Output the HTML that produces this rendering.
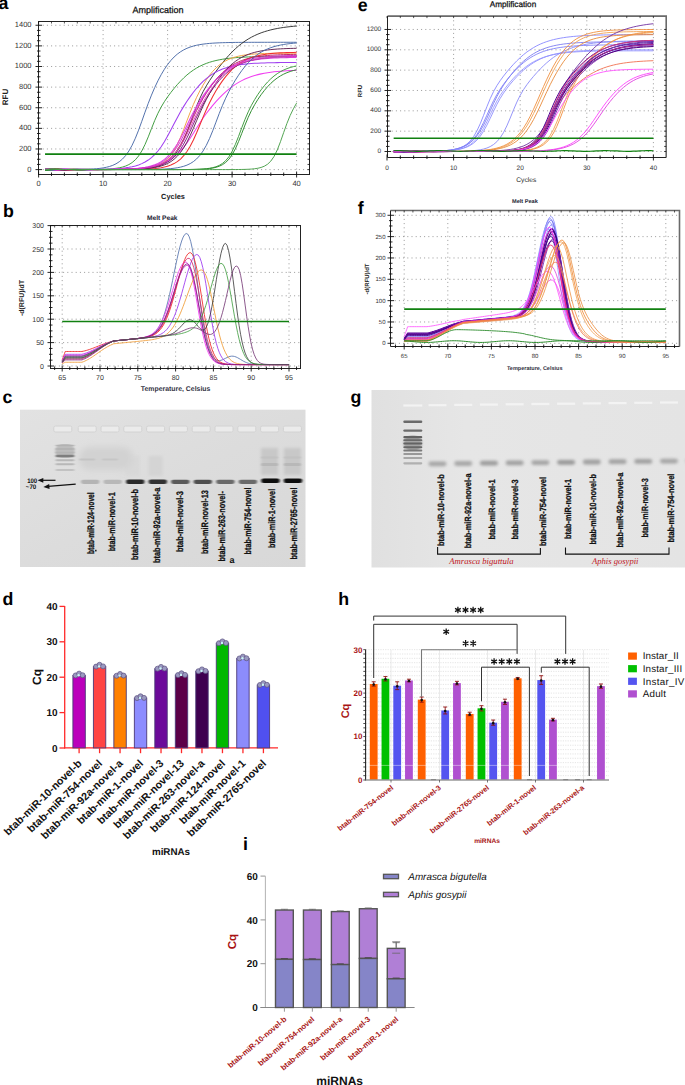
<!DOCTYPE html>
<html><head><meta charset="utf-8"><style>
html,body{margin:0;padding:0;background:#fff;}
body{width:685px;height:1085px;overflow:hidden;font-family:"Liberation Sans",sans-serif;}
svg{display:block;}
text{text-rendering:geometricPrecision;}
</style></head><body>
<svg width="685" height="1085" viewBox="0 0 685 1085">
<defs><filter id="bl1" x="-30%" y="-100%" width="160%" height="300%"><feGaussianBlur stdDeviation="0.9 0.7"/></filter><filter id="bl2" x="-30%" y="-100%" width="160%" height="300%"><feGaussianBlur stdDeviation="1.6 1.6"/></filter><filter id="bl3" x="-50%" y="-50%" width="200%" height="200%"><feGaussianBlur stdDeviation="3"/></filter><filter id="bl05" x="-30%" y="-100%" width="160%" height="300%"><feGaussianBlur stdDeviation="0.5"/></filter><linearGradient id="gcbg" x1="0" y1="0" x2="1" y2="1"><stop offset="0" stop-color="#e2e2e2"/><stop offset="0.5" stop-color="#dcdcdc"/><stop offset="1" stop-color="#d8d8d8"/></linearGradient><linearGradient id="ggbg" x1="0" y1="0" x2="1" y2="0"><stop offset="0" stop-color="#e0e0e0"/><stop offset="0.3" stop-color="#e6e6e6"/><stop offset="1" stop-color="#e4e4e4"/></linearGradient></defs>
<rect width="685" height="1085" fill="#fff"/>
<line x1="38.5" y1="169.6" x2="309.5" y2="169.6" stroke="#555" stroke-width="0.6" stroke-dasharray="1,3.2"/>
<line x1="38.5" y1="148.98" x2="309.5" y2="148.98" stroke="#555" stroke-width="0.6" stroke-dasharray="1,3.2"/>
<line x1="38.5" y1="128.36" x2="309.5" y2="128.36" stroke="#555" stroke-width="0.6" stroke-dasharray="1,3.2"/>
<line x1="38.5" y1="107.74" x2="309.5" y2="107.74" stroke="#555" stroke-width="0.6" stroke-dasharray="1,3.2"/>
<line x1="38.5" y1="87.12" x2="309.5" y2="87.12" stroke="#555" stroke-width="0.6" stroke-dasharray="1,3.2"/>
<line x1="38.5" y1="66.5" x2="309.5" y2="66.5" stroke="#555" stroke-width="0.6" stroke-dasharray="1,3.2"/>
<line x1="38.5" y1="45.88" x2="309.5" y2="45.88" stroke="#555" stroke-width="0.6" stroke-dasharray="1,3.2"/>
<line x1="38.5" y1="25.26" x2="309.5" y2="25.26" stroke="#555" stroke-width="0.6" stroke-dasharray="1,3.2"/>
<line x1="103.1" y1="21.5" x2="103.1" y2="174.5" stroke="#555" stroke-width="0.6" stroke-dasharray="1,3.2"/>
<line x1="167.6" y1="21.5" x2="167.6" y2="174.5" stroke="#555" stroke-width="0.6" stroke-dasharray="1,3.2"/>
<line x1="232.1" y1="21.5" x2="232.1" y2="174.5" stroke="#555" stroke-width="0.6" stroke-dasharray="1,3.2"/>
<line x1="296.6" y1="21.5" x2="296.6" y2="174.5" stroke="#555" stroke-width="0.6" stroke-dasharray="1,3.2"/>
<path d="M45.05,168.82 L48.28,169.17 L51.5,169.52 L54.73,169.56 L57.95,169.48 L61.17,169.57 L64.4,169.86 L67.62,170.06 L70.85,169.92 L74.08,169.55 L77.3,169.23 L80.53,169.15 L83.75,169.2 L86.97,169.21 L90.2,169.08 L93.43,168.89 L96.65,168.68 L99.88,168.38 L103.1,167.91 L106.33,167.29 L109.55,166.46 L112.78,165.33 L116,163.81 L119.22,161.77 L122.45,159.08 L125.68,155.54 L128.9,150.98 L132.12,145.24 L135.35,138.26 L138.58,130.16 L141.8,121.29 L145.03,112.17 L148.25,103.34 L151.47,95.11 L154.7,87.59 L157.93,80.8 L161.15,74.7 L164.38,69.28 L167.6,64.55 L170.82,60.48 L174.05,57.03 L177.28,54.16 L180.5,51.79 L183.72,49.86 L186.95,48.3 L190.18,47.05 L193.4,46.05 L196.62,45.25 L199.85,44.62 L203.07,44.12 L206.3,43.72 L209.53,43.41 L212.75,43.17 L215.97,42.97 L219.2,42.82 L222.43,42.7 L225.65,42.61 L228.88,42.54 L232.1,42.48 L235.32,42.43 L238.55,42.4 L241.78,42.37 L245,42.35 L248.22,42.33 L251.45,42.32 L254.68,42.31 L257.9,42.3 L261.12,42.29 L264.35,42.29 L267.57,42.29 L270.8,42.28 L274.03,42.28 L277.25,42.28 L280.48,42.28 L283.7,42.28 L286.93,42.27 L290.15,42.27 L293.38,42.27 L296.6,42.27" fill="none" stroke="#4a6aa8" stroke-width="0.9500000000000001" stroke-opacity="1.0" stroke-linejoin="round" />
<path d="M45.05,169.12 L48.28,169.56 L51.5,169.69 L54.73,169.6 L57.95,169.64 L61.17,169.89 L64.4,170.11 L67.62,170.01 L70.85,169.63 L74.08,169.3 L77.3,169.24 L80.53,169.39 L83.75,169.52 L86.97,169.53 L90.2,169.48 L93.43,169.48 L96.65,169.48 L99.88,169.41 L103.1,169.27 L106.33,169.14 L109.55,168.95 L112.78,168.68 L116,168.31 L119.22,167.79 L122.45,167.06 L125.68,166.03 L128.9,164.58 L132.12,162.57 L135.35,159.79 L138.58,155.99 L141.8,150.93 L145.03,144.51 L148.25,136.88 L151.47,128.63 L154.7,120.56 L157.93,113.3 L161.15,107.05 L164.38,101.67 L167.6,96.89 L170.82,92.52 L174.05,88.45 L177.28,84.65 L180.5,81.13 L183.72,77.9 L186.95,74.98 L190.18,72.37 L193.4,70.05 L196.62,68.02 L199.85,66.25 L203.07,64.73 L206.3,63.41 L209.53,62.29 L212.75,61.33 L215.97,60.52 L219.2,59.83 L222.43,59.25 L225.65,58.75 L228.88,58.34 L232.1,57.99 L235.32,57.7 L238.55,57.45 L241.78,57.25 L245,57.08 L248.22,56.93 L251.45,56.81 L254.68,56.71 L257.9,56.62 L261.12,56.55 L264.35,56.49 L267.57,56.44 L270.8,56.4 L274.03,56.37 L277.25,56.34 L280.48,56.31 L283.7,56.29 L286.93,56.28 L290.15,56.26 L293.38,56.25 L296.6,56.24" fill="none" stroke="#3a9a3a" stroke-width="0.9500000000000001" stroke-opacity="1.0" stroke-linejoin="round" />
<path d="M45.05,169.61 L48.28,169.81 L51.5,169.72 L54.73,169.68 L57.95,169.89 L61.17,170.1 L64.4,170.01 L67.62,169.62 L70.85,169.25 L74.08,169.18 L77.3,169.37 L80.53,169.57 L83.75,169.62 L86.97,169.59 L90.2,169.59 L93.43,169.65 L96.65,169.67 L99.88,169.61 L103.1,169.57 L106.33,169.55 L109.55,169.54 L112.78,169.52 L116,169.5 L119.22,169.46 L122.45,169.42 L125.68,169.36 L128.9,169.29 L132.12,169.19 L135.35,169.05 L138.58,168.88 L141.8,168.65 L145.03,168.35 L148.25,167.96 L151.47,167.45 L154.7,166.77 L157.93,165.89 L161.15,164.74 L164.38,163.24 L167.6,161.29 L170.82,158.77 L174.05,155.53 L177.28,151.39 L180.5,146.18 L183.72,139.77 L186.95,132.16 L190.18,123.6 L193.4,114.66 L196.62,106.05 L199.85,98.33 L203.07,91.66 L206.3,85.88 L209.53,80.7 L212.75,75.91 L215.97,71.36 L219.2,67.02 L222.43,62.89 L225.65,58.98 L228.88,55.33 L232.1,51.94 L235.32,48.82 L238.55,45.98 L241.78,43.41 L245,41.1 L248.22,39.03 L251.45,37.19 L254.68,35.56 L257.9,34.11 L261.12,32.84 L264.35,31.73 L267.57,30.75 L270.8,29.89 L274.03,29.14 L277.25,28.49 L280.48,27.92 L283.7,27.43 L286.93,27 L290.15,26.63 L293.38,26.3 L296.6,26.02" fill="none" stroke="#333333" stroke-width="0.9500000000000001" stroke-opacity="1.0" stroke-linejoin="round" />
<path d="M45.05,169.94 L48.28,169.84 L51.5,169.73 L54.73,169.87 L57.95,170.07 L61.17,170 L64.4,169.61 L67.62,169.2 L70.85,169.11 L74.08,169.32 L77.3,169.58 L80.53,169.67 L83.75,169.64 L86.97,169.62 L90.2,169.67 L93.43,169.71 L96.65,169.67 L99.88,169.59 L103.1,169.58 L106.33,169.58 L109.55,169.57 L112.78,169.56 L116,169.54 L119.22,169.52 L122.45,169.48 L125.68,169.44 L128.9,169.38 L132.12,169.29 L135.35,169.17 L138.58,169 L141.8,168.77 L145.03,168.46 L148.25,168.02 L151.47,167.42 L154.7,166.59 L157.93,165.46 L161.15,163.91 L164.38,161.83 L167.6,159.03 L170.82,155.33 L174.05,150.56 L177.28,144.56 L180.5,137.38 L183.72,129.28 L186.95,120.73 L190.18,112.33 L193.4,104.46 L196.62,97.3 L199.85,90.85 L203.07,85.05 L206.3,79.87 L209.53,75.31 L212.75,71.35 L215.97,67.97 L219.2,65.12 L222.43,62.77 L225.65,60.83 L228.88,59.26 L232.1,57.99 L235.32,56.97 L238.55,56.16 L241.78,55.51 L245,55 L248.22,54.6 L251.45,54.28 L254.68,54.02 L257.9,53.83 L261.12,53.67 L264.35,53.55 L267.57,53.45 L270.8,53.37 L274.03,53.31 L277.25,53.27 L280.48,53.23 L283.7,53.2 L286.93,53.18 L290.15,53.16 L293.38,53.15 L296.6,53.14" fill="none" stroke="#f0a040" stroke-width="0.9500000000000001" stroke-opacity="1.0" stroke-linejoin="round" />
<path d="M45.05,169.97 L48.28,169.78 L51.5,169.83 L54.73,170 L57.95,169.96 L61.17,169.58 L64.4,169.14 L67.62,169.02 L70.85,169.25 L74.08,169.57 L77.3,169.7 L80.53,169.64 L83.75,169.58 L86.97,169.6 L90.2,169.62 L93.43,169.55 L96.65,169.42 L99.88,169.33 L103.1,169.29 L106.33,169.2 L109.55,169.09 L112.78,168.95 L116,168.76 L119.22,168.53 L122.45,168.22 L125.68,167.83 L128.9,167.34 L132.12,166.71 L135.35,165.91 L138.58,164.9 L141.8,163.63 L145.03,162.04 L148.25,160.05 L151.47,157.6 L154.7,154.6 L157.93,150.99 L161.15,146.69 L164.38,141.71 L167.6,136.11 L170.82,130.06 L174.05,123.81 L177.28,117.66 L180.5,111.82 L183.72,106.36 L186.95,101.31 L190.18,96.61 L193.4,92.27 L196.62,88.29 L199.85,84.67 L203.07,81.42 L206.3,78.55 L209.53,76.04 L212.75,73.86 L215.97,71.99 L219.2,70.4 L222.43,69.05 L225.65,67.92 L228.88,66.97 L232.1,66.17 L235.32,65.51 L238.55,64.96 L241.78,64.51 L245,64.13 L248.22,63.82 L251.45,63.57 L254.68,63.35 L257.9,63.18 L261.12,63.04 L264.35,62.92 L267.57,62.82 L270.8,62.74 L274.03,62.68 L277.25,62.62 L280.48,62.58 L283.7,62.54 L286.93,62.51 L290.15,62.49 L293.38,62.47 L296.6,62.45" fill="none" stroke="#a040f0" stroke-width="1.05" stroke-opacity="1.0" stroke-linejoin="round" />
<path d="M45.05,169.84 L48.28,169.78 L51.5,169.93 L54.73,169.91 L57.95,169.56 L61.17,169.12 L64.4,168.97 L67.62,169.23 L70.85,169.61 L74.08,169.79 L77.3,169.74 L80.53,169.65 L83.75,169.66 L86.97,169.7 L90.2,169.67 L93.43,169.55 L96.65,169.46 L99.88,169.46 L103.1,169.49 L106.33,169.46 L109.55,169.43 L112.78,169.39 L116,169.33 L119.22,169.27 L122.45,169.19 L125.68,169.08 L128.9,168.96 L132.12,168.8 L135.35,168.6 L138.58,168.35 L141.8,168.05 L145.03,167.67 L148.25,167.2 L151.47,166.62 L154.7,165.91 L157.93,165.03 L161.15,163.95 L164.38,162.64 L167.6,161.05 L170.82,159.13 L174.05,156.83 L177.28,154.09 L180.5,150.89 L183.72,147.17 L186.95,142.95 L190.18,138.26 L193.4,133.23 L196.62,128.05 L199.85,122.94 L203.07,118.07 L206.3,113.54 L209.53,109.32 L212.75,105.38 L215.97,101.66 L219.2,98.17 L222.43,94.91 L225.65,91.9 L228.88,89.13 L232.1,86.63 L235.32,84.38 L238.55,82.38 L241.78,80.61 L245,79.06 L248.22,77.7 L251.45,76.53 L254.68,75.51 L257.9,74.63 L261.12,73.88 L264.35,73.24 L267.57,72.69 L270.8,72.22 L274.03,71.82 L277.25,71.48 L280.48,71.19 L283.7,70.94 L286.93,70.73 L290.15,70.56 L293.38,70.41 L296.6,70.28" fill="none" stroke="#f040f0" stroke-width="1.05" stroke-opacity="1.0" stroke-linejoin="round" />
<path d="M45.05,169.73 L48.28,169.83 L51.5,169.85 L54.73,169.54 L57.95,169.1 L61.17,168.94 L64.4,169.2 L67.62,169.64 L70.85,169.88 L74.08,169.83 L77.3,169.7 L80.53,169.67 L83.75,169.71 L86.97,169.7 L90.2,169.58 L93.43,169.46 L96.65,169.45 L99.88,169.51 L103.1,169.53 L106.33,169.5 L109.55,169.47 L112.78,169.44 L116,169.39 L119.22,169.32 L122.45,169.24 L125.68,169.13 L128.9,168.99 L132.12,168.81 L135.35,168.57 L138.58,168.26 L141.8,167.87 L145.03,167.36 L148.25,166.7 L151.47,165.85 L154.7,164.77 L157.93,163.38 L161.15,161.62 L164.38,159.41 L167.6,156.64 L170.82,153.22 L174.05,149.06 L177.28,144.1 L180.5,138.36 L183.72,131.98 L186.95,125.26 L190.18,118.55 L193.4,112.17 L196.62,106.28 L199.85,100.88 L203.07,95.9 L206.3,91.29 L209.53,87.03 L212.75,83.11 L215.97,79.55 L219.2,76.35 L222.43,73.52 L225.65,71.04 L228.88,68.88 L232.1,67.03 L235.32,65.44 L238.55,64.09 L241.78,62.95 L245,61.99 L248.22,61.19 L251.45,60.51 L254.68,59.95 L257.9,59.48 L261.12,59.1 L264.35,58.77 L267.57,58.5 L270.8,58.28 L274.03,58.1 L277.25,57.94 L280.48,57.82 L283.7,57.71 L286.93,57.63 L290.15,57.56 L293.38,57.5 L296.6,57.45" fill="none" stroke="#e040e0" stroke-width="1.05" stroke-opacity="1.0" stroke-linejoin="round" />
<path d="M45.05,169.71 L48.28,169.76 L51.5,169.51 L54.73,169.09 L57.95,168.91 L61.17,169.18 L64.4,169.67 L67.62,169.97 L70.85,169.93 L74.08,169.74 L77.3,169.66 L80.53,169.7 L83.75,169.7 L86.97,169.59 L90.2,169.46 L93.43,169.44 L96.65,169.52 L99.88,169.59 L103.1,169.59 L106.33,169.59 L109.55,169.58 L112.78,169.58 L116,169.57 L119.22,169.56 L122.45,169.55 L125.68,169.53 L128.9,169.5 L132.12,169.47 L135.35,169.42 L138.58,169.36 L141.8,169.28 L145.03,169.17 L148.25,169.02 L151.47,168.82 L154.7,168.55 L157.93,168.2 L161.15,167.72 L164.38,167.08 L167.6,166.22 L170.82,165.09 L174.05,163.59 L177.28,161.61 L180.5,159.04 L183.72,155.72 L186.95,151.5 L190.18,146.27 L193.4,139.99 L196.62,132.79 L199.85,125.02 L203.07,117.16 L206.3,109.67 L209.53,102.78 L212.75,96.52 L215.97,90.82 L219.2,85.61 L222.43,80.87 L225.65,76.6 L228.88,72.79 L232.1,69.44 L235.32,66.54 L238.55,64.06 L241.78,61.96 L245,60.19 L248.22,58.72 L251.45,57.5 L254.68,56.5 L257.9,55.67 L261.12,54.99 L264.35,54.44 L267.57,53.99 L270.8,53.63 L274.03,53.33 L277.25,53.09 L280.48,52.89 L283.7,52.74 L286.93,52.61 L290.15,52.5 L293.38,52.42 L296.6,52.35" fill="none" stroke="#f03030" stroke-width="1.05" stroke-opacity="1.0" stroke-linejoin="round" />
<path d="M45.05,169.66 L48.28,169.48 L51.5,169.09 L54.73,168.9 L57.95,169.17 L61.17,169.7 L64.4,170.05 L67.62,170.01 L70.85,169.78 L74.08,169.64 L77.3,169.65 L80.53,169.67 L83.75,169.57 L86.97,169.43 L90.2,169.39 L93.43,169.48 L96.65,169.58 L99.88,169.6 L103.1,169.56 L106.33,169.55 L109.55,169.53 L112.78,169.51 L116,169.48 L119.22,169.44 L122.45,169.4 L125.68,169.33 L128.9,169.24 L132.12,169.13 L135.35,168.98 L138.58,168.78 L141.8,168.52 L145.03,168.18 L148.25,167.74 L151.47,167.15 L154.7,166.39 L157.93,165.39 L161.15,164.1 L164.38,162.43 L167.6,160.28 L170.82,157.55 L174.05,154.12 L177.28,149.86 L180.5,144.71 L183.72,138.65 L186.95,131.85 L190.18,124.63 L193.4,117.4 L196.62,110.53 L199.85,104.22 L203.07,98.46 L206.3,93.17 L209.53,88.31 L212.75,83.83 L215.97,79.74 L219.2,76.05 L222.43,72.77 L225.65,69.88 L228.88,67.37 L232.1,65.21 L235.32,63.37 L238.55,61.81 L241.78,60.5 L245,59.4 L248.22,58.48 L251.45,57.71 L254.68,57.08 L257.9,56.56 L261.12,56.12 L264.35,55.77 L267.57,55.47 L270.8,55.23 L274.03,55.03 L277.25,54.87 L280.48,54.74 L283.7,54.63 L286.93,54.54 L290.15,54.46 L293.38,54.4 L296.6,54.35" fill="none" stroke="#c02060" stroke-width="0.9500000000000001" stroke-opacity="1.0" stroke-linejoin="round" />
<path d="M45.05,169.45 L48.28,169.12 L51.5,168.92 L54.73,169.18 L57.95,169.73 L61.17,170.13 L64.4,170.1 L67.62,169.82 L70.85,169.61 L74.08,169.6 L77.3,169.64 L80.53,169.56 L83.75,169.41 L86.97,169.36 L90.2,169.46 L93.43,169.6 L96.65,169.65 L99.88,169.61 L103.1,169.57 L106.33,169.56 L109.55,169.55 L112.78,169.53 L116,169.51 L119.22,169.48 L122.45,169.44 L125.68,169.39 L128.9,169.32 L132.12,169.23 L135.35,169.11 L138.58,168.96 L141.8,168.75 L145.03,168.48 L148.25,168.13 L151.47,167.67 L154.7,167.06 L157.93,166.27 L161.15,165.24 L164.38,163.9 L167.6,162.17 L170.82,159.96 L174.05,157.15 L177.28,153.63 L180.5,149.27 L183.72,144.03 L186.95,137.92 L190.18,131.13 L193.4,124 L196.62,116.94 L199.85,110.3 L203.07,104.21 L206.3,98.65 L209.53,93.55 L212.75,88.85 L215.97,84.53 L219.2,80.59 L222.43,77.05 L225.65,73.9 L228.88,71.14 L232.1,68.75 L235.32,66.69 L238.55,64.94 L241.78,63.46 L245,62.21 L248.22,61.17 L251.45,60.3 L254.68,59.58 L257.9,58.98 L261.12,58.48 L264.35,58.08 L267.57,57.74 L270.8,57.46 L274.03,57.23 L277.25,57.05 L280.48,56.89 L283.7,56.76 L286.93,56.66 L290.15,56.58 L293.38,56.51 L296.6,56.45" fill="none" stroke="#802080" stroke-width="0.9500000000000001" stroke-opacity="1.0" stroke-linejoin="round" />
<path d="M45.05,169.16 L48.28,168.96 L51.5,169.19 L54.73,169.76 L57.95,170.2 L61.17,170.19 L64.4,169.86 L67.62,169.57 L70.85,169.52 L74.08,169.58 L77.3,169.55 L80.53,169.41 L83.75,169.34 L86.97,169.44 L90.2,169.61 L93.43,169.7 L96.65,169.67 L99.88,169.6 L103.1,169.58 L106.33,169.57 L109.55,169.56 L112.78,169.54 L116,169.52 L119.22,169.5 L122.45,169.47 L125.68,169.43 L128.9,169.37 L132.12,169.3 L135.35,169.2 L138.58,169.08 L141.8,168.91 L145.03,168.69 L148.25,168.4 L151.47,168.02 L154.7,167.53 L157.93,166.88 L161.15,166.03 L164.38,164.92 L167.6,163.48 L170.82,161.63 L174.05,159.26 L177.28,156.25 L180.5,152.47 L183.72,147.8 L186.95,142.17 L190.18,135.62 L193.4,128.33 L196.62,120.68 L199.85,113.11 L203.07,105.99 L206.3,99.46 L209.53,93.49 L212.75,88.02 L215.97,82.98 L219.2,78.34 L222.43,74.12 L225.65,70.32 L228.88,66.94 L232.1,63.98 L235.32,61.41 L238.55,59.21 L241.78,57.33 L245,55.74 L248.22,54.4 L251.45,53.29 L254.68,52.35 L257.9,51.58 L261.12,50.93 L264.35,50.4 L267.57,49.96 L270.8,49.6 L274.03,49.31 L277.25,49.06 L280.48,48.86 L283.7,48.69 L286.93,48.56 L290.15,48.45 L293.38,48.36 L296.6,48.28" fill="none" stroke="#602050" stroke-width="0.9500000000000001" stroke-opacity="1.0" stroke-linejoin="round" />
<path d="M45.05,169.03 L48.28,169.23 L51.5,169.79 L54.73,170.26 L57.95,170.27 L61.17,169.89 L64.4,169.52 L67.62,169.43 L70.85,169.51 L74.08,169.52 L77.3,169.4 L80.53,169.32 L83.75,169.42 L86.97,169.62 L90.2,169.74 L93.43,169.71 L96.65,169.62 L99.88,169.56 L103.1,169.55 L106.33,169.53 L109.55,169.51 L112.78,169.49 L116,169.45 L119.22,169.41 L122.45,169.35 L125.68,169.27 L128.9,169.17 L132.12,169.05 L135.35,168.88 L138.58,168.66 L141.8,168.39 L145.03,168.02 L148.25,167.56 L151.47,166.96 L154.7,166.18 L157.93,165.19 L161.15,163.93 L164.38,162.32 L167.6,160.28 L170.82,157.73 L174.05,154.57 L177.28,150.7 L180.5,146.05 L183.72,140.6 L186.95,134.43 L190.18,127.75 L193.4,120.89 L196.62,114.19 L199.85,107.89 L203.07,102.06 L206.3,96.69 L209.53,91.73 L212.75,87.15 L215.97,82.96 L219.2,79.16 L222.43,75.76 L225.65,72.76 L228.88,70.15 L232.1,67.89 L235.32,65.96 L238.55,64.32 L241.78,62.94 L245,61.77 L248.22,60.8 L251.45,60 L254.68,59.33 L257.9,58.77 L261.12,58.31 L264.35,57.93 L267.57,57.62 L270.8,57.36 L274.03,57.15 L277.25,56.98 L280.48,56.84 L283.7,56.72 L286.93,56.62 L290.15,56.55 L293.38,56.48 L296.6,56.43" fill="none" stroke="#e040c0" stroke-width="0.9500000000000001" stroke-opacity="1.0" stroke-linejoin="round" />
<path d="M45.05,169.28 L48.28,169.82 L51.5,170.31 L54.73,170.33 L57.95,169.91 L61.17,169.47 L64.4,169.34 L67.62,169.44 L70.85,169.5 L74.08,169.42 L77.3,169.33 L80.53,169.42 L83.75,169.64 L86.97,169.79 L90.2,169.77 L93.43,169.64 L96.65,169.55 L99.88,169.54 L103.1,169.54 L106.33,169.52 L109.55,169.49 L112.78,169.46 L116,169.41 L119.22,169.36 L122.45,169.29 L125.68,169.19 L128.9,169.07 L132.12,168.91 L135.35,168.7 L138.58,168.44 L141.8,168.09 L145.03,167.64 L148.25,167.07 L151.47,166.33 L154.7,165.37 L157.93,164.15 L161.15,162.6 L164.38,160.64 L167.6,158.17 L170.82,155.1 L174.05,151.32 L177.28,146.76 L180.5,141.38 L183.72,135.25 L186.95,128.57 L190.18,121.69 L193.4,114.96 L196.62,108.66 L199.85,102.86 L203.07,97.55 L206.3,92.63 L209.53,88.08 L212.75,83.87 L215.97,80.03 L219.2,76.55 L222.43,73.44 L225.65,70.71 L228.88,68.31 L232.1,66.24 L235.32,64.47 L238.55,62.95 L241.78,61.67 L245,60.58 L248.22,59.67 L251.45,58.91 L254.68,58.27 L257.9,57.74 L261.12,57.3 L264.35,56.93 L267.57,56.62 L270.8,56.37 L274.03,56.16 L277.25,55.99 L280.48,55.84 L283.7,55.72 L286.93,55.62 L290.15,55.54 L293.38,55.48 L296.6,55.42" fill="none" stroke="#d030d0" stroke-width="0.9500000000000001" stroke-opacity="1.0" stroke-linejoin="round" />
<path d="M45.05,169.84 L48.28,170.35 L51.5,170.39 L54.73,169.94 L57.95,169.42 L61.17,169.23 L64.4,169.35 L67.62,169.48 L70.85,169.45 L74.08,169.36 L77.3,169.43 L80.53,169.67 L83.75,169.86 L86.97,169.85 L90.2,169.7 L93.43,169.58 L96.65,169.56 L99.88,169.58 L103.1,169.6 L106.33,169.6 L109.55,169.6 L112.78,169.6 L116,169.59 L119.22,169.59 L122.45,169.59 L125.68,169.59 L128.9,169.58 L132.12,169.57 L135.35,169.56 L138.58,169.55 L141.8,169.53 L145.03,169.51 L148.25,169.48 L151.47,169.44 L154.7,169.38 L157.93,169.3 L161.15,169.19 L164.38,169.05 L167.6,168.86 L170.82,168.6 L174.05,168.25 L177.28,167.77 L180.5,167.14 L183.72,166.28 L186.95,165.14 L190.18,163.62 L193.4,161.6 L196.62,158.93 L199.85,155.45 L203.07,150.99 L206.3,145.37 L209.53,138.56 L212.75,130.69 L215.97,122.17 L219.2,113.61 L222.43,105.52 L225.65,98.2 L228.88,91.62 L232.1,85.66 L235.32,80.2 L238.55,75.19 L241.78,70.6 L245,66.46 L248.22,62.76 L251.45,59.5 L254.68,56.67 L257.9,54.23 L261.12,52.14 L264.35,50.38 L267.57,48.9 L270.8,47.66 L274.03,46.62 L277.25,45.76 L280.48,45.05 L283.7,44.46 L286.93,43.97 L290.15,43.58 L293.38,43.25 L296.6,42.98" fill="none" stroke="#4a6aa8" stroke-width="0.9500000000000001" stroke-opacity="1.0" stroke-linejoin="round" />
<path d="M45.05,170.36 L48.28,170.42 L51.5,169.95 L54.73,169.37 L57.95,169.12 L61.17,169.26 L64.4,169.46 L67.62,169.48 L70.85,169.4 L74.08,169.45 L77.3,169.68 L80.53,169.9 L83.75,169.9 L86.97,169.73 L90.2,169.56 L93.43,169.52 L96.65,169.56 L99.88,169.59 L103.1,169.6 L106.33,169.6 L109.55,169.6 L112.78,169.6 L116,169.6 L119.22,169.6 L122.45,169.6 L125.68,169.6 L128.9,169.6 L132.12,169.6 L135.35,169.6 L138.58,169.6 L141.8,169.6 L145.03,169.6 L148.25,169.6 L151.47,169.6 L154.7,169.6 L157.93,169.6 L161.15,169.6 L164.38,169.59 L167.6,169.59 L170.82,169.59 L174.05,169.58 L177.28,169.57 L180.5,169.56 L183.72,169.54 L186.95,169.51 L190.18,169.47 L193.4,169.41 L196.62,169.31 L199.85,169.18 L203.07,168.98 L206.3,168.7 L209.53,168.27 L212.75,167.65 L215.97,166.74 L219.2,165.41 L222.43,163.48 L225.65,160.7 L228.88,156.77 L232.1,151.42 L235.32,144.54 L238.55,136.42 L241.78,127.74 L245,119.37 L248.22,111.85 L251.45,105.29 L254.68,99.55 L257.9,94.43 L261.12,89.82 L264.35,85.69 L267.57,82.01 L270.8,78.79 L274.03,76.01 L277.25,73.64 L280.48,71.65 L283.7,70 L286.93,68.64 L290.15,67.53 L293.38,66.62 L296.6,65.88" fill="none" stroke="#3a9a3a" stroke-width="0.9500000000000001" stroke-opacity="1.0" stroke-linejoin="round" />
<path d="M45.05,170.43 L48.28,169.95 L51.5,169.31 L54.73,169.01 L57.95,169.17 L61.17,169.44 L64.4,169.53 L67.62,169.46 L70.85,169.49 L74.08,169.7 L77.3,169.93 L80.53,169.95 L83.75,169.75 L86.97,169.54 L90.2,169.47 L93.43,169.52 L96.65,169.58 L99.88,169.59 L103.1,169.6 L106.33,169.6 L109.55,169.6 L112.78,169.6 L116,169.6 L119.22,169.6 L122.45,169.6 L125.68,169.6 L128.9,169.6 L132.12,169.6 L135.35,169.6 L138.58,169.6 L141.8,169.6 L145.03,169.6 L148.25,169.6 L151.47,169.6 L154.7,169.6 L157.93,169.6 L161.15,169.6 L164.38,169.6 L167.6,169.59 L170.82,169.59 L174.05,169.58 L177.28,169.58 L180.5,169.57 L183.72,169.55 L186.95,169.53 L190.18,169.49 L193.4,169.45 L196.62,169.37 L199.85,169.27 L203.07,169.11 L206.3,168.88 L209.53,168.54 L212.75,168.05 L215.97,167.32 L219.2,166.26 L222.43,164.71 L225.65,162.46 L228.88,159.26 L232.1,154.8 L235.32,148.89 L238.55,141.58 L241.78,133.36 L245,125.03 L248.22,117.32 L251.45,110.53 L254.68,104.61 L257.9,99.38 L261.12,94.69 L264.35,90.47 L267.57,86.69 L270.8,83.36 L274.03,80.46 L277.25,77.98 L280.48,75.88 L283.7,74.13 L286.93,72.68 L290.15,71.49 L293.38,70.52 L296.6,69.73" fill="none" stroke="#2a8a2a" stroke-width="0.9500000000000001" stroke-opacity="1.0" stroke-linejoin="round" />
<path d="M45.05,169.94 L48.28,169.25 L51.5,168.91 L54.73,169.07 L57.95,169.42 L61.17,169.59 L64.4,169.54 L67.62,169.53 L70.85,169.71 L74.08,169.95 L77.3,169.98 L80.53,169.77 L83.75,169.51 L86.97,169.41 L90.2,169.47 L93.43,169.56 L96.65,169.59 L99.88,169.59 L103.1,169.6 L106.33,169.6 L109.55,169.6 L112.78,169.6 L116,169.6 L119.22,169.6 L122.45,169.6 L125.68,169.6 L128.9,169.6 L132.12,169.6 L135.35,169.6 L138.58,169.6 L141.8,169.6 L145.03,169.6 L148.25,169.6 L151.47,169.6 L154.7,169.6 L157.93,169.6 L161.15,169.6 L164.38,169.6 L167.6,169.6 L170.82,169.6 L174.05,169.6 L177.28,169.6 L180.5,169.6 L183.72,169.6 L186.95,169.6 L190.18,169.6 L193.4,169.6 L196.62,169.6 L199.85,169.6 L203.07,169.6 L206.3,169.6 L209.53,169.6 L212.75,169.6 L215.97,169.6 L219.2,169.59 L222.43,169.59 L225.65,169.59 L228.88,169.58 L232.1,169.56 L235.32,169.54 L238.55,169.51 L241.78,169.46 L245,169.38 L248.22,169.25 L251.45,169.05 L254.68,168.74 L257.9,168.24 L261.12,167.45 L264.35,166.2 L267.57,164.22 L270.8,161.14 L274.03,156.51 L277.25,149.99 L280.48,141.69 L283.7,132.44 L286.93,123.43 L290.15,115.49 L293.38,108.79 L296.6,103.08" fill="none" stroke="#4aa04a" stroke-width="0.9500000000000001" stroke-opacity="1.0" stroke-linejoin="round" />
<line x1="45.05" y1="154.13" x2="296.6" y2="154.13" stroke="#108010" stroke-width="1.6" />
<rect x="38.5" y="21.5" width="271" height="153" fill="none" stroke="#222" stroke-width="1"/>
<line x1="35.5" y1="169.6" x2="42" y2="169.6" stroke="#111" stroke-width="0.9" />
<line x1="37" y1="164.44" x2="40.5" y2="164.44" stroke="#111" stroke-width="0.9" />
<line x1="37" y1="159.29" x2="40.5" y2="159.29" stroke="#111" stroke-width="0.9" />
<line x1="37" y1="154.13" x2="40.5" y2="154.13" stroke="#111" stroke-width="0.9" />
<line x1="35.5" y1="148.98" x2="42" y2="148.98" stroke="#111" stroke-width="0.9" />
<line x1="37" y1="143.82" x2="40.5" y2="143.82" stroke="#111" stroke-width="0.9" />
<line x1="37" y1="138.67" x2="40.5" y2="138.67" stroke="#111" stroke-width="0.9" />
<line x1="37" y1="133.51" x2="40.5" y2="133.51" stroke="#111" stroke-width="0.9" />
<line x1="35.5" y1="128.36" x2="42" y2="128.36" stroke="#111" stroke-width="0.9" />
<line x1="37" y1="123.2" x2="40.5" y2="123.2" stroke="#111" stroke-width="0.9" />
<line x1="37" y1="118.05" x2="40.5" y2="118.05" stroke="#111" stroke-width="0.9" />
<line x1="37" y1="112.89" x2="40.5" y2="112.89" stroke="#111" stroke-width="0.9" />
<line x1="35.5" y1="107.74" x2="42" y2="107.74" stroke="#111" stroke-width="0.9" />
<line x1="37" y1="102.58" x2="40.5" y2="102.58" stroke="#111" stroke-width="0.9" />
<line x1="37" y1="97.43" x2="40.5" y2="97.43" stroke="#111" stroke-width="0.9" />
<line x1="37" y1="92.27" x2="40.5" y2="92.27" stroke="#111" stroke-width="0.9" />
<line x1="35.5" y1="87.12" x2="42" y2="87.12" stroke="#111" stroke-width="0.9" />
<line x1="37" y1="81.97" x2="40.5" y2="81.97" stroke="#111" stroke-width="0.9" />
<line x1="37" y1="76.81" x2="40.5" y2="76.81" stroke="#111" stroke-width="0.9" />
<line x1="37" y1="71.66" x2="40.5" y2="71.66" stroke="#111" stroke-width="0.9" />
<line x1="35.5" y1="66.5" x2="42" y2="66.5" stroke="#111" stroke-width="0.9" />
<line x1="37" y1="61.34" x2="40.5" y2="61.34" stroke="#111" stroke-width="0.9" />
<line x1="37" y1="56.19" x2="40.5" y2="56.19" stroke="#111" stroke-width="0.9" />
<line x1="37" y1="51.03" x2="40.5" y2="51.03" stroke="#111" stroke-width="0.9" />
<line x1="35.5" y1="45.88" x2="42" y2="45.88" stroke="#111" stroke-width="0.9" />
<line x1="37" y1="40.72" x2="40.5" y2="40.72" stroke="#111" stroke-width="0.9" />
<line x1="37" y1="35.57" x2="40.5" y2="35.57" stroke="#111" stroke-width="0.9" />
<line x1="37" y1="30.41" x2="40.5" y2="30.41" stroke="#111" stroke-width="0.9" />
<line x1="35.5" y1="25.26" x2="42" y2="25.26" stroke="#111" stroke-width="0.9" />
<line x1="307.5" y1="169.6" x2="309.5" y2="169.6" stroke="#111" stroke-width="0.8" />
<line x1="307.5" y1="164.44" x2="309.5" y2="164.44" stroke="#111" stroke-width="0.8" />
<line x1="307.5" y1="159.29" x2="309.5" y2="159.29" stroke="#111" stroke-width="0.8" />
<line x1="307.5" y1="154.13" x2="309.5" y2="154.13" stroke="#111" stroke-width="0.8" />
<line x1="307.5" y1="148.98" x2="309.5" y2="148.98" stroke="#111" stroke-width="0.8" />
<line x1="307.5" y1="143.82" x2="309.5" y2="143.82" stroke="#111" stroke-width="0.8" />
<line x1="307.5" y1="138.67" x2="309.5" y2="138.67" stroke="#111" stroke-width="0.8" />
<line x1="307.5" y1="133.51" x2="309.5" y2="133.51" stroke="#111" stroke-width="0.8" />
<line x1="307.5" y1="128.36" x2="309.5" y2="128.36" stroke="#111" stroke-width="0.8" />
<line x1="307.5" y1="123.2" x2="309.5" y2="123.2" stroke="#111" stroke-width="0.8" />
<line x1="307.5" y1="118.05" x2="309.5" y2="118.05" stroke="#111" stroke-width="0.8" />
<line x1="307.5" y1="112.89" x2="309.5" y2="112.89" stroke="#111" stroke-width="0.8" />
<line x1="307.5" y1="107.74" x2="309.5" y2="107.74" stroke="#111" stroke-width="0.8" />
<line x1="307.5" y1="102.58" x2="309.5" y2="102.58" stroke="#111" stroke-width="0.8" />
<line x1="307.5" y1="97.43" x2="309.5" y2="97.43" stroke="#111" stroke-width="0.8" />
<line x1="307.5" y1="92.27" x2="309.5" y2="92.27" stroke="#111" stroke-width="0.8" />
<line x1="307.5" y1="87.12" x2="309.5" y2="87.12" stroke="#111" stroke-width="0.8" />
<line x1="307.5" y1="81.97" x2="309.5" y2="81.97" stroke="#111" stroke-width="0.8" />
<line x1="307.5" y1="76.81" x2="309.5" y2="76.81" stroke="#111" stroke-width="0.8" />
<line x1="307.5" y1="71.66" x2="309.5" y2="71.66" stroke="#111" stroke-width="0.8" />
<line x1="307.5" y1="66.5" x2="309.5" y2="66.5" stroke="#111" stroke-width="0.8" />
<line x1="307.5" y1="61.34" x2="309.5" y2="61.34" stroke="#111" stroke-width="0.8" />
<line x1="307.5" y1="56.19" x2="309.5" y2="56.19" stroke="#111" stroke-width="0.8" />
<line x1="307.5" y1="51.03" x2="309.5" y2="51.03" stroke="#111" stroke-width="0.8" />
<line x1="307.5" y1="45.88" x2="309.5" y2="45.88" stroke="#111" stroke-width="0.8" />
<line x1="307.5" y1="40.72" x2="309.5" y2="40.72" stroke="#111" stroke-width="0.8" />
<line x1="307.5" y1="35.57" x2="309.5" y2="35.57" stroke="#111" stroke-width="0.8" />
<line x1="307.5" y1="30.41" x2="309.5" y2="30.41" stroke="#111" stroke-width="0.8" />
<line x1="307.5" y1="25.26" x2="309.5" y2="25.26" stroke="#111" stroke-width="0.8" />
<line x1="38.6" y1="171.5" x2="38.6" y2="177.5" stroke="#111" stroke-width="0.9" />
<line x1="38.6" y1="21.5" x2="38.6" y2="23.5" stroke="#111" stroke-width="0.7" />
<line x1="51.5" y1="172.5" x2="51.5" y2="176" stroke="#111" stroke-width="0.9" />
<line x1="51.5" y1="21.5" x2="51.5" y2="23.5" stroke="#111" stroke-width="0.7" />
<line x1="64.4" y1="172.5" x2="64.4" y2="176" stroke="#111" stroke-width="0.9" />
<line x1="64.4" y1="21.5" x2="64.4" y2="23.5" stroke="#111" stroke-width="0.7" />
<line x1="77.3" y1="172.5" x2="77.3" y2="176" stroke="#111" stroke-width="0.9" />
<line x1="77.3" y1="21.5" x2="77.3" y2="23.5" stroke="#111" stroke-width="0.7" />
<line x1="90.2" y1="172.5" x2="90.2" y2="176" stroke="#111" stroke-width="0.9" />
<line x1="90.2" y1="21.5" x2="90.2" y2="23.5" stroke="#111" stroke-width="0.7" />
<line x1="103.1" y1="171.5" x2="103.1" y2="177.5" stroke="#111" stroke-width="0.9" />
<line x1="103.1" y1="21.5" x2="103.1" y2="23.5" stroke="#111" stroke-width="0.7" />
<line x1="116" y1="172.5" x2="116" y2="176" stroke="#111" stroke-width="0.9" />
<line x1="116" y1="21.5" x2="116" y2="23.5" stroke="#111" stroke-width="0.7" />
<line x1="128.9" y1="172.5" x2="128.9" y2="176" stroke="#111" stroke-width="0.9" />
<line x1="128.9" y1="21.5" x2="128.9" y2="23.5" stroke="#111" stroke-width="0.7" />
<line x1="141.8" y1="172.5" x2="141.8" y2="176" stroke="#111" stroke-width="0.9" />
<line x1="141.8" y1="21.5" x2="141.8" y2="23.5" stroke="#111" stroke-width="0.7" />
<line x1="154.7" y1="172.5" x2="154.7" y2="176" stroke="#111" stroke-width="0.9" />
<line x1="154.7" y1="21.5" x2="154.7" y2="23.5" stroke="#111" stroke-width="0.7" />
<line x1="167.6" y1="171.5" x2="167.6" y2="177.5" stroke="#111" stroke-width="0.9" />
<line x1="167.6" y1="21.5" x2="167.6" y2="23.5" stroke="#111" stroke-width="0.7" />
<line x1="180.5" y1="172.5" x2="180.5" y2="176" stroke="#111" stroke-width="0.9" />
<line x1="180.5" y1="21.5" x2="180.5" y2="23.5" stroke="#111" stroke-width="0.7" />
<line x1="193.4" y1="172.5" x2="193.4" y2="176" stroke="#111" stroke-width="0.9" />
<line x1="193.4" y1="21.5" x2="193.4" y2="23.5" stroke="#111" stroke-width="0.7" />
<line x1="206.3" y1="172.5" x2="206.3" y2="176" stroke="#111" stroke-width="0.9" />
<line x1="206.3" y1="21.5" x2="206.3" y2="23.5" stroke="#111" stroke-width="0.7" />
<line x1="219.2" y1="172.5" x2="219.2" y2="176" stroke="#111" stroke-width="0.9" />
<line x1="219.2" y1="21.5" x2="219.2" y2="23.5" stroke="#111" stroke-width="0.7" />
<line x1="232.1" y1="171.5" x2="232.1" y2="177.5" stroke="#111" stroke-width="0.9" />
<line x1="232.1" y1="21.5" x2="232.1" y2="23.5" stroke="#111" stroke-width="0.7" />
<line x1="245" y1="172.5" x2="245" y2="176" stroke="#111" stroke-width="0.9" />
<line x1="245" y1="21.5" x2="245" y2="23.5" stroke="#111" stroke-width="0.7" />
<line x1="257.9" y1="172.5" x2="257.9" y2="176" stroke="#111" stroke-width="0.9" />
<line x1="257.9" y1="21.5" x2="257.9" y2="23.5" stroke="#111" stroke-width="0.7" />
<line x1="270.8" y1="172.5" x2="270.8" y2="176" stroke="#111" stroke-width="0.9" />
<line x1="270.8" y1="21.5" x2="270.8" y2="23.5" stroke="#111" stroke-width="0.7" />
<line x1="283.7" y1="172.5" x2="283.7" y2="176" stroke="#111" stroke-width="0.9" />
<line x1="283.7" y1="21.5" x2="283.7" y2="23.5" stroke="#111" stroke-width="0.7" />
<line x1="296.6" y1="171.5" x2="296.6" y2="177.5" stroke="#111" stroke-width="0.9" />
<line x1="296.6" y1="21.5" x2="296.6" y2="23.5" stroke="#111" stroke-width="0.7" />
<text x="31.5" y="171.5" font-family="Liberation Sans" font-size="7.5" font-weight="normal" font-style="normal" text-anchor="end" fill="#333" >0</text>
<text x="31.5" y="150.88" font-family="Liberation Sans" font-size="7.5" font-weight="normal" font-style="normal" text-anchor="end" fill="#333" >200</text>
<text x="31.5" y="130.26" font-family="Liberation Sans" font-size="7.5" font-weight="normal" font-style="normal" text-anchor="end" fill="#333" >400</text>
<text x="31.5" y="109.64" font-family="Liberation Sans" font-size="7.5" font-weight="normal" font-style="normal" text-anchor="end" fill="#333" >600</text>
<text x="31.5" y="89.02" font-family="Liberation Sans" font-size="7.5" font-weight="normal" font-style="normal" text-anchor="end" fill="#333" >800</text>
<text x="31.5" y="68.4" font-family="Liberation Sans" font-size="7.5" font-weight="normal" font-style="normal" text-anchor="end" fill="#333" >1000</text>
<text x="31.5" y="47.78" font-family="Liberation Sans" font-size="7.5" font-weight="normal" font-style="normal" text-anchor="end" fill="#333" >1200</text>
<text x="31.5" y="27.16" font-family="Liberation Sans" font-size="7.5" font-weight="normal" font-style="normal" text-anchor="end" fill="#333" >1400</text>
<text x="38.6" y="186" font-family="Liberation Sans" font-size="7.5" font-weight="normal" font-style="normal" text-anchor="middle" fill="#333" >0</text>
<text x="103.1" y="186" font-family="Liberation Sans" font-size="7.5" font-weight="normal" font-style="normal" text-anchor="middle" fill="#333" >10</text>
<text x="167.6" y="186" font-family="Liberation Sans" font-size="7.5" font-weight="normal" font-style="normal" text-anchor="middle" fill="#333" >20</text>
<text x="232.1" y="186" font-family="Liberation Sans" font-size="7.5" font-weight="normal" font-style="normal" text-anchor="middle" fill="#333" >30</text>
<text x="296.6" y="186" font-family="Liberation Sans" font-size="7.5" font-weight="normal" font-style="normal" text-anchor="middle" fill="#333" >40</text>
<text x="158" y="12.6" font-family="Liberation Sans" font-size="9" font-weight="normal" font-style="normal" text-anchor="middle" fill="#111" stroke="#111" stroke-width="0.25">Amplification</text>
<text x="7.8" y="97" font-family="Liberation Sans" font-size="8" font-weight="bold" font-style="normal" text-anchor="middle" fill="#222" transform="rotate(-90 7.8 97)" >RFU</text>
<text x="173" y="198.5" font-family="Liberation Sans" font-size="7.4" font-weight="bold" font-style="normal" text-anchor="middle" fill="#222" >Cycles</text>
<text x="-1.4" y="8.9" font-family="Liberation Sans" font-size="17.8" font-weight="bold" font-style="normal" text-anchor="start" fill="#000" >a</text>
<line x1="387.5" y1="151.5" x2="666.2" y2="151.5" stroke="#555" stroke-width="0.6" stroke-dasharray="1,3.2"/>
<line x1="387.5" y1="131.16" x2="666.2" y2="131.16" stroke="#555" stroke-width="0.6" stroke-dasharray="1,3.2"/>
<line x1="387.5" y1="110.82" x2="666.2" y2="110.82" stroke="#555" stroke-width="0.6" stroke-dasharray="1,3.2"/>
<line x1="387.5" y1="90.48" x2="666.2" y2="90.48" stroke="#555" stroke-width="0.6" stroke-dasharray="1,3.2"/>
<line x1="387.5" y1="70.14" x2="666.2" y2="70.14" stroke="#555" stroke-width="0.6" stroke-dasharray="1,3.2"/>
<line x1="387.5" y1="49.8" x2="666.2" y2="49.8" stroke="#555" stroke-width="0.6" stroke-dasharray="1,3.2"/>
<line x1="387.5" y1="29.46" x2="666.2" y2="29.46" stroke="#555" stroke-width="0.6" stroke-dasharray="1,3.2"/>
<line x1="453.6" y1="16.1" x2="453.6" y2="157.5" stroke="#555" stroke-width="0.6" stroke-dasharray="1,3.2"/>
<line x1="520.2" y1="16.1" x2="520.2" y2="157.5" stroke="#555" stroke-width="0.6" stroke-dasharray="1,3.2"/>
<line x1="586.8" y1="16.1" x2="586.8" y2="157.5" stroke="#555" stroke-width="0.6" stroke-dasharray="1,3.2"/>
<line x1="653.4" y1="16.1" x2="653.4" y2="157.5" stroke="#555" stroke-width="0.6" stroke-dasharray="1,3.2"/>
<path d="M393.66,152.07 L396.99,152.21 L400.32,151.86 L403.65,151.26 L406.98,150.89 L410.31,150.98 L413.64,151.28 L416.97,151.46 L420.3,151.43 L423.63,151.38 L426.96,151.45 L430.29,151.58 L433.62,151.56 L436.95,151.32 L440.28,151.01 L443.61,150.75 L446.94,150.52 L450.27,150.19 L453.6,149.66 L456.93,148.88 L460.26,147.78 L463.59,146.22 L466.92,144.01 L470.25,140.9 L473.58,136.62 L476.91,130.91 L480.24,123.72 L483.57,115.38 L486.9,106.71 L490.23,98.6 L493.56,91.58 L496.89,85.67 L500.22,80.59 L503.55,76.06 L506.88,71.87 L510.21,67.94 L513.54,64.24 L516.87,60.78 L520.2,57.59 L523.53,54.67 L526.86,52.04 L530.19,49.69 L533.52,47.61 L536.85,45.78 L540.18,44.17 L543.51,42.78 L546.84,41.58 L550.17,40.54 L553.5,39.64 L556.83,38.88 L560.16,38.22 L563.49,37.67 L566.82,37.19 L570.15,36.79 L573.48,36.44 L576.81,36.15 L580.14,35.9 L583.47,35.69 L586.8,35.52 L590.13,35.37 L593.46,35.24 L596.79,35.13 L600.12,35.04 L603.45,34.96 L606.78,34.9 L610.11,34.84 L613.44,34.8 L616.77,34.76 L620.1,34.72 L623.43,34.7 L626.76,34.67 L630.09,34.65 L633.42,34.64 L636.75,34.62 L640.08,34.61 L643.41,34.6 L646.74,34.59 L650.07,34.58 L653.4,34.58" fill="none" stroke="#8888ff" stroke-width="0.9" stroke-opacity="1.0" stroke-linejoin="round" />
<path d="M393.66,151.95 L396.99,152.22 L400.32,151.99 L403.65,151.62 L406.98,151.49 L410.31,151.54 L413.64,151.51 L416.97,151.26 L420.3,150.99 L423.63,150.97 L426.96,151.19 L430.29,151.41 L433.62,151.41 L436.95,151.22 L440.28,150.97 L443.61,150.74 L446.94,150.47 L450.27,150.07 L453.6,149.54 L456.93,148.84 L460.26,147.91 L463.59,146.64 L466.92,144.96 L470.25,142.71 L473.58,139.75 L476.91,135.9 L480.24,131.03 L483.57,125.07 L486.9,118.18 L490.23,110.77 L493.56,103.41 L496.89,96.58 L500.22,90.5 L503.55,85.11 L506.88,80.25 L510.21,75.79 L513.54,71.66 L516.87,67.84 L520.2,64.35 L523.53,61.19 L526.86,58.37 L530.19,55.88 L533.52,53.71 L536.85,51.82 L540.18,50.21 L543.51,48.83 L546.84,47.66 L550.17,46.67 L553.5,45.83 L556.83,45.14 L560.16,44.55 L563.49,44.06 L566.82,43.65 L570.15,43.31 L573.48,43.03 L576.81,42.8 L580.14,42.6 L583.47,42.44 L586.8,42.31 L590.13,42.2 L593.46,42.11 L596.79,42.03 L600.12,41.97 L603.45,41.91 L606.78,41.87 L610.11,41.83 L613.44,41.81 L616.77,41.78 L620.1,41.76 L623.43,41.74 L626.76,41.73 L630.09,41.72 L633.42,41.71 L636.75,41.7 L640.08,41.69 L643.41,41.69 L646.74,41.69 L650.07,41.68 L653.4,41.68" fill="none" stroke="#7c7cf0" stroke-width="0.9" stroke-opacity="1.0" stroke-linejoin="round" />
<path d="M393.66,151.24 L396.99,151.88 L400.32,152.11 L403.65,151.9 L406.98,151.63 L410.31,151.57 L413.64,151.64 L416.97,151.57 L420.3,151.29 L423.63,151.04 L426.96,151.03 L430.29,151.23 L433.62,151.41 L436.95,151.4 L440.28,151.23 L443.61,151.03 L446.94,150.82 L450.27,150.55 L453.6,150.14 L456.93,149.62 L460.26,148.89 L463.59,147.88 L466.92,146.49 L470.25,144.59 L473.58,142 L476.91,138.54 L480.24,134.02 L483.57,128.37 L486.9,121.74 L490.23,114.57 L493.56,107.5 L496.89,101.04 L500.22,95.37 L503.55,90.42 L506.88,85.99 L510.21,81.93 L513.54,78.17 L516.87,74.7 L520.2,71.52 L523.53,68.64 L526.86,66.07 L530.19,63.8 L533.52,61.81 L536.85,60.1 L540.18,58.62 L543.51,57.36 L546.84,56.29 L550.17,55.39 L553.5,54.63 L556.83,53.99 L560.16,53.45 L563.49,53.01 L566.82,52.63 L570.15,52.32 L573.48,52.07 L576.81,51.85 L580.14,51.67 L583.47,51.53 L586.8,51.41 L590.13,51.3 L593.46,51.22 L596.79,51.15 L600.12,51.09 L603.45,51.05 L606.78,51.01 L610.11,50.97 L613.44,50.95 L616.77,50.92 L620.1,50.91 L623.43,50.89 L626.76,50.88 L630.09,50.87 L633.42,50.86 L636.75,50.85 L640.08,50.85 L643.41,50.84 L646.74,50.84 L650.07,50.83 L653.4,50.83" fill="none" stroke="#9a9aff" stroke-width="0.9" stroke-opacity="1.0" stroke-linejoin="round" />
<path d="M393.66,150.66 L396.99,150.71 L400.32,151.23 L403.65,151.73 L406.98,151.86 L410.31,151.7 L413.64,151.58 L416.97,151.64 L420.3,151.7 L423.63,151.55 L426.96,151.23 L430.29,150.98 L433.62,150.94 L436.95,151.01 L440.28,151 L443.61,150.82 L446.94,150.5 L450.27,150.11 L453.6,149.57 L456.93,148.84 L460.26,147.85 L463.59,146.49 L466.92,144.65 L470.25,142.16 L473.58,138.84 L476.91,134.5 L480.24,129.02 L483.57,122.44 L486.9,115.13 L490.23,107.68 L493.56,100.69 L496.89,94.49 L500.22,89.08 L503.55,84.29 L506.88,79.92 L510.21,75.88 L513.54,72.13 L516.87,68.66 L520.2,65.49 L523.53,62.63 L526.86,60.07 L530.19,57.82 L533.52,55.85 L536.85,54.14 L540.18,52.67 L543.51,51.41 L546.84,50.34 L550.17,49.43 L553.5,48.66 L556.83,48.02 L560.16,47.47 L563.49,47.02 L566.82,46.64 L570.15,46.32 L573.48,46.05 L576.81,45.83 L580.14,45.64 L583.47,45.48 L586.8,45.35 L590.13,45.25 L593.46,45.16 L596.79,45.08 L600.12,45.02 L603.45,44.97 L606.78,44.93 L610.11,44.89 L613.44,44.86 L616.77,44.84 L620.1,44.82 L623.43,44.8 L626.76,44.78 L630.09,44.77 L633.42,44.76 L636.75,44.76 L640.08,44.75 L643.41,44.74 L646.74,44.74 L650.07,44.73 L653.4,44.73" fill="none" stroke="#8080f8" stroke-width="0.9" stroke-opacity="1.0" stroke-linejoin="round" />
<path d="M393.66,151.62 L396.99,151.23 L400.32,151.23 L403.65,151.36 L406.98,151.3 L410.31,151.1 L413.64,151.06 L416.97,151.33 L420.3,151.7 L423.63,151.86 L426.96,151.71 L430.29,151.44 L433.62,151.27 L436.95,151.21 L440.28,151.14 L443.61,150.98 L446.94,150.77 L450.27,150.55 L453.6,150.25 L456.93,149.77 L460.26,149.13 L463.59,148.24 L466.92,147.02 L470.25,145.37 L473.58,143.14 L476.91,140.15 L480.24,136.22 L483.57,131.22 L486.9,125.15 L490.23,118.29 L493.56,111.16 L496.89,104.38 L500.22,98.32 L503.55,93.03 L506.88,88.36 L510.21,84.13 L513.54,80.23 L516.87,76.6 L520.2,73.25 L523.53,70.17 L526.86,67.38 L530.19,64.89 L533.52,62.69 L536.85,60.76 L540.18,59.08 L543.51,57.64 L546.84,56.4 L550.17,55.35 L553.5,54.45 L556.83,53.7 L560.16,53.06 L563.49,52.52 L566.82,52.07 L570.15,51.7 L573.48,51.38 L576.81,51.12 L580.14,50.9 L583.47,50.71 L586.8,50.56 L590.13,50.43 L593.46,50.33 L596.79,50.24 L600.12,50.16 L603.45,50.1 L606.78,50.05 L610.11,50.01 L613.44,49.97 L616.77,49.94 L620.1,49.92 L623.43,49.9 L626.76,49.88 L630.09,49.87 L633.42,49.86 L636.75,49.85 L640.08,49.84 L643.41,49.83 L646.74,49.83 L650.07,49.82 L653.4,49.82" fill="none" stroke="#9090ff" stroke-width="0.9" stroke-opacity="1.0" stroke-linejoin="round" />
<path d="M393.66,150.96 L396.99,150.95 L400.32,151.38 L403.65,151.95 L406.98,152.18 L410.31,151.96 L413.64,151.58 L416.97,151.38 L420.3,151.41 L423.63,151.46 L426.96,151.37 L430.29,151.25 L433.62,151.25 L436.95,151.42 L440.28,151.57 L443.61,151.6 L446.94,151.52 L450.27,151.44 L453.6,151.39 L456.93,151.35 L460.26,151.29 L463.59,151.2 L466.92,151.07 L470.25,150.89 L473.58,150.64 L476.91,150.28 L480.24,149.77 L483.57,149.04 L486.9,148.02 L490.23,146.57 L493.56,144.52 L496.89,141.66 L500.22,137.72 L503.55,132.46 L506.88,125.8 L510.21,118.02 L513.54,109.83 L516.87,102.08 L520.2,95.32 L523.53,89.61 L526.86,84.72 L530.19,80.37 L533.52,76.36 L536.85,72.6 L540.18,69.06 L543.51,65.75 L546.84,62.7 L550.17,59.91 L553.5,57.39 L556.83,55.13 L560.16,53.14 L563.49,51.38 L566.82,49.85 L570.15,48.51 L573.48,47.36 L576.81,46.36 L580.14,45.51 L583.47,44.78 L586.8,44.15 L590.13,43.62 L593.46,43.16 L596.79,42.78 L600.12,42.45 L603.45,42.17 L606.78,41.94 L610.11,41.74 L613.44,41.57 L616.77,41.42 L620.1,41.3 L623.43,41.2 L626.76,41.12 L630.09,41.04 L633.42,40.98 L636.75,40.93 L640.08,40.88 L643.41,40.85 L646.74,40.82 L650.07,40.79 L653.4,40.77" fill="none" stroke="#8a8af8" stroke-width="0.9" stroke-opacity="1.0" stroke-linejoin="round" />
<path d="M393.66,151.07 L396.99,151.11 L400.32,151.31 L403.65,151.31 L406.98,151.15 L410.31,151.14 L413.64,151.44 L416.97,151.84 L420.3,152 L423.63,151.82 L426.96,151.52 L430.29,151.37 L433.62,151.39 L436.95,151.43 L440.28,151.4 L443.61,151.36 L446.94,151.36 L450.27,151.4 L453.6,151.39 L456.93,151.35 L460.26,151.31 L463.59,151.25 L466.92,151.17 L470.25,151.07 L473.58,150.95 L476.91,150.78 L480.24,150.56 L483.57,150.29 L486.9,149.92 L490.23,149.46 L493.56,148.86 L496.89,148.08 L500.22,147.09 L503.55,145.82 L506.88,144.21 L510.21,142.18 L513.54,139.63 L516.87,136.48 L520.2,132.63 L523.53,127.99 L526.86,122.53 L530.19,116.26 L533.52,109.3 L536.85,101.84 L540.18,94.16 L543.51,86.54 L546.84,79.22 L550.17,72.34 L553.5,66 L556.83,60.26 L560.16,55.15 L563.49,50.69 L566.82,46.86 L570.15,43.61 L573.48,40.9 L576.81,38.67 L580.14,36.84 L583.47,35.35 L586.8,34.15 L590.13,33.19 L593.46,32.42 L596.79,31.8 L600.12,31.31 L603.45,30.93 L606.78,30.62 L610.11,30.37 L613.44,30.18 L616.77,30.03 L620.1,29.91 L623.43,29.81 L626.76,29.74 L630.09,29.68 L633.42,29.63 L636.75,29.6 L640.08,29.57 L643.41,29.55 L646.74,29.53 L650.07,29.51 L653.4,29.5" fill="none" stroke="#f09040" stroke-width="0.9" stroke-opacity="1.0" stroke-linejoin="round" />
<path d="M393.66,151.43 L396.99,151.42 L400.32,151.35 L403.65,151.53 L406.98,151.91 L410.31,152.12 L413.64,151.93 L416.97,151.49 L420.3,151.19 L423.63,151.18 L426.96,151.34 L430.29,151.43 L433.62,151.41 L436.95,151.39 L440.28,151.45 L443.61,151.54 L446.94,151.54 L450.27,151.46 L453.6,151.4 L456.93,151.37 L460.26,151.33 L463.59,151.28 L466.92,151.22 L470.25,151.13 L473.58,151.02 L476.91,150.88 L480.24,150.7 L483.57,150.46 L486.9,150.15 L490.23,149.75 L493.56,149.23 L496.89,148.56 L500.22,147.7 L503.55,146.6 L506.88,145.2 L510.21,143.43 L513.54,141.2 L516.87,138.42 L520.2,135 L523.53,130.85 L526.86,125.91 L530.19,120.15 L533.52,113.64 L536.85,106.53 L540.18,99.05 L543.51,91.5 L546.84,84.12 L550.17,77.12 L553.5,70.6 L556.83,64.64 L560.16,59.29 L563.49,54.57 L566.82,50.48 L570.15,47 L573.48,44.07 L576.81,41.64 L580.14,39.64 L583.47,38.01 L586.8,36.69 L590.13,35.63 L593.46,34.78 L596.79,34.1 L600.12,33.55 L603.45,33.12 L606.78,32.78 L610.11,32.51 L613.44,32.3 L616.77,32.13 L620.1,31.99 L623.43,31.89 L626.76,31.81 L630.09,31.74 L633.42,31.69 L636.75,31.65 L640.08,31.61 L643.41,31.59 L646.74,31.57 L650.07,31.55 L653.4,31.54" fill="none" stroke="#f0a050" stroke-width="0.9" stroke-opacity="1.0" stroke-linejoin="round" />
<path d="M393.66,151.81 L396.99,152.01 L400.32,151.89 L403.65,151.41 L406.98,150.93 L410.31,150.86 L413.64,151.18 L416.97,151.53 L420.3,151.65 L423.63,151.58 L426.96,151.55 L430.29,151.63 L433.62,151.7 L436.95,151.64 L440.28,151.47 L443.61,151.36 L446.94,151.36 L450.27,151.41 L453.6,151.42 L456.93,151.4 L460.26,151.37 L463.59,151.33 L466.92,151.28 L470.25,151.21 L473.58,151.12 L476.91,151.01 L480.24,150.87 L483.57,150.68 L486.9,150.43 L490.23,150.11 L493.56,149.7 L496.89,149.17 L500.22,148.48 L503.55,147.6 L506.88,146.48 L510.21,145.04 L513.54,143.23 L516.87,140.95 L520.2,138.12 L523.53,134.63 L526.86,130.4 L530.19,125.39 L533.52,119.58 L536.85,113.07 L540.18,106.05 L543.51,98.79 L546.84,91.6 L550.17,84.7 L553.5,78.22 L556.83,72.21 L560.16,66.72 L563.49,61.76 L566.82,57.36 L570.15,53.51 L573.48,50.19 L576.81,47.38 L580.14,45.01 L583.47,43.04 L586.8,41.42 L590.13,40.09 L593.46,39.01 L596.79,38.13 L600.12,37.42 L603.45,36.84 L606.78,36.38 L610.11,36.02 L613.44,35.72 L616.77,35.48 L620.1,35.29 L623.43,35.14 L626.76,35.02 L630.09,34.92 L633.42,34.85 L636.75,34.79 L640.08,34.74 L643.41,34.7 L646.74,34.67 L650.07,34.64 L653.4,34.62" fill="none" stroke="#e88a3a" stroke-width="0.9" stroke-opacity="1.0" stroke-linejoin="round" />
<path d="M393.66,152.13 L396.99,151.97 L400.32,151.69 L403.65,151.64 L406.98,151.74 L410.31,151.69 L413.64,151.38 L416.97,151.05 L420.3,151 L423.63,151.27 L426.96,151.58 L430.29,151.69 L433.62,151.63 L436.95,151.56 L440.28,151.56 L443.61,151.58 L446.94,151.54 L450.27,151.49 L453.6,151.5 L456.93,151.5 L460.26,151.5 L463.59,151.5 L466.92,151.5 L470.25,151.5 L473.58,151.49 L476.91,151.49 L480.24,151.49 L483.57,151.48 L486.9,151.48 L490.23,151.47 L493.56,151.46 L496.89,151.44 L500.22,151.41 L503.55,151.37 L506.88,151.32 L510.21,151.25 L513.54,151.14 L516.87,150.99 L520.2,150.77 L523.53,150.47 L526.86,150.04 L530.19,149.44 L533.52,148.58 L536.85,147.36 L540.18,145.65 L543.51,143.25 L546.84,139.92 L550.17,135.38 L553.5,129.39 L556.83,121.93 L560.16,113.36 L563.49,104.45 L566.82,96.06 L570.15,88.68 L573.48,82.35 L576.81,76.84 L580.14,71.88 L583.47,67.3 L586.8,63.05 L590.13,59.11 L593.46,55.5 L596.79,52.22 L600.12,49.29 L603.45,46.69 L606.78,44.42 L610.11,42.44 L613.44,40.74 L616.77,39.28 L620.1,38.04 L623.43,36.99 L626.76,36.09 L630.09,35.34 L633.42,34.71 L636.75,34.18 L640.08,33.73 L643.41,33.36 L646.74,33.05 L650.07,32.79 L653.4,32.57" fill="none" stroke="#f0a050" stroke-width="0.9" stroke-opacity="1.0" stroke-linejoin="round" />
<path d="M393.66,151.4 L396.99,151.41 L400.32,151.49 L403.65,151.33 L406.98,151.03 L410.31,150.94 L413.64,151.23 L416.97,151.68 L420.3,151.92 L423.63,151.83 L426.96,151.62 L430.29,151.51 L433.62,151.52 L436.95,151.53 L440.28,151.47 L443.61,151.39 L446.94,151.41 L450.27,151.47 L453.6,151.5 L456.93,151.5 L460.26,151.5 L463.59,151.5 L466.92,151.5 L470.25,151.5 L473.58,151.5 L476.91,151.49 L480.24,151.49 L483.57,151.49 L486.9,151.48 L490.23,151.47 L493.56,151.46 L496.89,151.45 L500.22,151.43 L503.55,151.4 L506.88,151.35 L510.21,151.29 L513.54,151.2 L516.87,151.08 L520.2,150.91 L523.53,150.66 L526.86,150.31 L530.19,149.81 L533.52,149.11 L536.85,148.11 L540.18,146.71 L543.51,144.73 L546.84,141.97 L550.17,138.15 L553.5,133.01 L556.83,126.36 L560.16,118.32 L563.49,109.43 L566.82,100.56 L570.15,92.48 L573.48,85.48 L576.81,79.46 L580.14,74.15 L583.47,69.31 L586.8,64.84 L590.13,60.68 L593.46,56.83 L596.79,53.32 L600.12,50.16 L603.45,47.34 L606.78,44.85 L610.11,42.68 L613.44,40.8 L616.77,39.19 L620.1,37.81 L623.43,36.63 L626.76,35.64 L630.09,34.8 L633.42,34.09 L636.75,33.49 L640.08,32.99 L643.41,32.58 L646.74,32.23 L650.07,31.93 L653.4,31.69" fill="none" stroke="#f09040" stroke-width="0.9" stroke-opacity="1.0" stroke-linejoin="round" />
<path d="M393.66,151.89 L396.99,151.7 L400.32,151.69 L403.65,151.87 L406.98,151.93 L410.31,151.64 L413.64,151.19 L416.97,150.96 L420.3,151.1 L423.63,151.41 L426.96,151.6 L430.29,151.59 L433.62,151.54 L436.95,151.56 L440.28,151.62 L443.61,151.61 L446.94,151.53 L450.27,151.48 L453.6,151.5 L456.93,151.5 L460.26,151.49 L463.59,151.49 L466.92,151.49 L470.25,151.48 L473.58,151.48 L476.91,151.47 L480.24,151.46 L483.57,151.44 L486.9,151.42 L490.23,151.38 L493.56,151.34 L496.89,151.27 L500.22,151.18 L503.55,151.06 L506.88,150.89 L510.21,150.64 L513.54,150.31 L516.87,149.84 L520.2,149.19 L523.53,148.28 L526.86,147.02 L530.19,145.29 L533.52,142.91 L536.85,139.69 L540.18,135.46 L543.51,130.17 L546.84,124.01 L550.17,117.49 L553.5,111.25 L556.83,105.73 L560.16,101.05 L563.49,97.03 L566.82,93.45 L570.15,90.16 L573.48,87.07 L576.81,84.15 L580.14,81.42 L583.47,78.88 L586.8,76.55 L590.13,74.44 L593.46,72.55 L596.79,70.86 L600.12,69.36 L603.45,68.05 L606.78,66.91 L610.11,65.91 L613.44,65.05 L616.77,64.31 L620.1,63.67 L623.43,63.12 L626.76,62.65 L630.09,62.25 L633.42,61.91 L636.75,61.62 L640.08,61.37 L643.41,61.16 L646.74,60.98 L650.07,60.82 L653.4,60.69" fill="none" stroke="#f07050" stroke-width="0.9" stroke-opacity="1.0" stroke-linejoin="round" />
<path d="M393.66,152.12 L396.99,152.35 L400.32,152.03 L403.65,151.45 L406.98,151.09 L410.31,151.13 L413.64,151.33 L416.97,151.39 L420.3,151.31 L423.63,151.3 L426.96,151.49 L430.29,151.73 L433.62,151.8 L436.95,151.67 L440.28,151.5 L443.61,151.42 L446.94,151.44 L450.27,151.47 L453.6,151.47 L456.93,151.47 L460.26,151.46 L463.59,151.45 L466.92,151.43 L470.25,151.41 L473.58,151.38 L476.91,151.35 L480.24,151.3 L483.57,151.24 L486.9,151.17 L490.23,151.07 L493.56,150.94 L496.89,150.78 L500.22,150.56 L503.55,150.29 L506.88,149.93 L510.21,149.48 L513.54,148.89 L516.87,148.14 L520.2,147.17 L523.53,145.93 L526.86,144.36 L530.19,142.36 L533.52,139.83 L536.85,136.65 L540.18,132.71 L543.51,127.87 L546.84,122.07 L550.17,115.35 L553.5,107.96 L556.83,100.36 L560.16,93.09 L563.49,86.53 L566.82,80.8 L570.15,75.75 L573.48,71.17 L576.81,66.88 L580.14,62.82 L583.47,58.94 L586.8,55.25 L590.13,51.78 L593.46,48.53 L596.79,45.54 L600.12,42.79 L603.45,40.29 L606.78,38.03 L610.11,36 L613.44,34.19 L616.77,32.58 L620.1,31.16 L623.43,29.9 L626.76,28.79 L630.09,27.82 L633.42,26.97 L636.75,26.22 L640.08,25.57 L643.41,25.01 L646.74,24.51 L650.07,24.08 L653.4,23.71" fill="none" stroke="#7030a0" stroke-width="0.9" stroke-opacity="1.0" stroke-linejoin="round" />
<path d="M393.66,151.78 L396.99,151.67 L400.32,151.81 L403.65,151.88 L406.98,151.62 L410.31,151.16 L413.64,150.9 L416.97,151.05 L420.3,151.41 L423.63,151.65 L426.96,151.67 L430.29,151.58 L433.62,151.57 L436.95,151.62 L440.28,151.63 L443.61,151.54 L446.94,151.45 L450.27,151.45 L453.6,151.5 L456.93,151.5 L460.26,151.49 L463.59,151.49 L466.92,151.49 L470.25,151.48 L473.58,151.48 L476.91,151.47 L480.24,151.46 L483.57,151.44 L486.9,151.42 L490.23,151.38 L493.56,151.34 L496.89,151.27 L500.22,151.18 L503.55,151.05 L506.88,150.87 L510.21,150.61 L513.54,150.25 L516.87,149.75 L520.2,149.04 L523.53,148.06 L526.86,146.68 L530.19,144.76 L533.52,142.1 L536.85,138.46 L540.18,133.62 L543.51,127.43 L546.84,120.04 L550.17,111.98 L553.5,104.03 L556.83,96.87 L560.16,90.73 L563.49,85.47 L566.82,80.82 L570.15,76.58 L573.48,72.62 L576.81,68.91 L580.14,65.45 L583.47,62.26 L586.8,59.34 L590.13,56.71 L593.46,54.37 L596.79,52.29 L600.12,50.47 L603.45,48.89 L606.78,47.52 L610.11,46.33 L613.44,45.32 L616.77,44.45 L620.1,43.7 L623.43,43.07 L626.76,42.54 L630.09,42.08 L633.42,41.7 L636.75,41.37 L640.08,41.1 L643.41,40.87 L646.74,40.67 L650.07,40.5 L653.4,40.37" fill="none" stroke="#500090" stroke-width="1.0" stroke-opacity="1.0" stroke-linejoin="round" />
<path d="M393.66,151.61 L396.99,151.7 L400.32,151.54 L403.65,151.13 L406.98,150.84 L410.31,150.97 L413.64,151.41 L416.97,151.78 L420.3,151.83 L423.63,151.68 L426.96,151.57 L430.29,151.59 L433.62,151.62 L436.95,151.54 L440.28,151.41 L443.61,151.35 L446.94,151.41 L450.27,151.49 L453.6,151.5 L456.93,151.5 L460.26,151.5 L463.59,151.49 L466.92,151.49 L470.25,151.49 L473.58,151.48 L476.91,151.47 L480.24,151.46 L483.57,151.45 L486.9,151.43 L490.23,151.4 L493.56,151.36 L496.89,151.3 L500.22,151.22 L503.55,151.11 L506.88,150.96 L510.21,150.74 L513.54,150.43 L516.87,150 L520.2,149.39 L523.53,148.55 L526.86,147.36 L530.19,145.71 L533.52,143.41 L536.85,140.26 L540.18,136 L543.51,130.46 L546.84,123.63 L550.17,115.89 L553.5,107.95 L556.83,100.56 L560.16,94.13 L563.49,88.65 L566.82,83.87 L570.15,79.57 L573.48,75.58 L576.81,71.84 L580.14,68.35 L583.47,65.1 L586.8,62.13 L590.13,59.44 L593.46,57.02 L596.79,54.88 L600.12,53 L603.45,51.35 L606.78,49.92 L610.11,48.69 L613.44,47.63 L616.77,46.72 L620.1,45.94 L623.43,45.28 L626.76,44.72 L630.09,44.24 L633.42,43.84 L636.75,43.5 L640.08,43.21 L643.41,42.96 L646.74,42.76 L650.07,42.58 L653.4,42.44" fill="none" stroke="#5a10a0" stroke-width="0.9" stroke-opacity="1.0" stroke-linejoin="round" />
<path d="M393.66,151.59 L396.99,151.49 L400.32,151.13 L403.65,150.83 L406.98,150.95 L410.31,151.42 L413.64,151.85 L416.97,151.93 L420.3,151.74 L423.63,151.57 L426.96,151.56 L430.29,151.59 L433.62,151.53 L436.95,151.39 L440.28,151.31 L443.61,151.37 L446.94,151.48 L450.27,151.52 L453.6,151.5 L456.93,151.5 L460.26,151.5 L463.59,151.49 L466.92,151.49 L470.25,151.49 L473.58,151.48 L476.91,151.48 L480.24,151.47 L483.57,151.46 L486.9,151.44 L490.23,151.41 L493.56,151.38 L496.89,151.33 L500.22,151.26 L503.55,151.16 L506.88,151.02 L510.21,150.82 L513.54,150.55 L516.87,150.17 L520.2,149.63 L523.53,148.88 L526.86,147.83 L530.19,146.36 L533.52,144.32 L536.85,141.5 L540.18,137.67 L543.51,132.62 L546.84,126.27 L550.17,118.89 L553.5,111.07 L556.83,103.59 L560.16,96.98 L563.49,91.34 L566.82,86.47 L570.15,82.13 L573.48,78.13 L576.81,74.39 L580.14,70.89 L583.47,67.63 L586.8,64.63 L590.13,61.9 L593.46,59.45 L596.79,57.27 L600.12,55.35 L603.45,53.67 L606.78,52.2 L610.11,50.94 L613.44,49.85 L616.77,48.91 L620.1,48.11 L623.43,47.43 L626.76,46.85 L630.09,46.36 L633.42,45.94 L636.75,45.59 L640.08,45.29 L643.41,45.04 L646.74,44.83 L650.07,44.65 L653.4,44.5" fill="none" stroke="#3a0080" stroke-width="1.0" stroke-opacity="1.0" stroke-linejoin="round" />
<path d="M393.66,151.16 L396.99,150.88 L400.32,150.96 L403.65,151.46 L406.98,151.97 L410.31,152.11 L413.64,151.85 L416.97,151.54 L420.3,151.44 L423.63,151.49 L426.96,151.49 L430.29,151.36 L433.62,151.25 L436.95,151.3 L440.28,151.47 L443.61,151.59 L446.94,151.58 L450.27,151.53 L453.6,151.5 L456.93,151.5 L460.26,151.5 L463.59,151.49 L466.92,151.49 L470.25,151.49 L473.58,151.49 L476.91,151.48 L480.24,151.47 L483.57,151.46 L486.9,151.44 L490.23,151.42 L493.56,151.39 L496.89,151.34 L500.22,151.27 L503.55,151.18 L506.88,151.05 L510.21,150.87 L513.54,150.62 L516.87,150.26 L520.2,149.76 L523.53,149.07 L526.86,148.09 L530.19,146.72 L533.52,144.82 L536.85,142.18 L540.18,138.58 L543.51,133.78 L546.84,127.65 L550.17,120.32 L553.5,112.33 L556.83,104.47 L560.16,97.37 L563.49,91.28 L566.82,86.07 L570.15,81.46 L573.48,77.26 L576.81,73.34 L580.14,69.66 L583.47,66.24 L586.8,63.07 L590.13,60.18 L593.46,57.58 L596.79,55.25 L600.12,53.2 L603.45,51.39 L606.78,49.82 L610.11,48.46 L613.44,47.29 L616.77,46.28 L620.1,45.42 L623.43,44.68 L626.76,44.06 L630.09,43.53 L633.42,43.08 L636.75,42.7 L640.08,42.37 L643.41,42.1 L646.74,41.87 L650.07,41.68 L653.4,41.51" fill="none" stroke="#6020a0" stroke-width="0.9" stroke-opacity="1.0" stroke-linejoin="round" />
<path d="M393.66,150.94 L396.99,151 L400.32,151.48 L403.65,152.03 L406.98,152.19 L410.31,151.91 L413.64,151.53 L416.97,151.36 L420.3,151.42 L423.63,151.45 L426.96,151.36 L430.29,151.24 L433.62,151.28 L436.95,151.47 L440.28,151.62 L443.61,151.64 L446.94,151.56 L450.27,151.51 L453.6,151.5 L456.93,151.5 L460.26,151.5 L463.59,151.5 L466.92,151.49 L470.25,151.49 L473.58,151.49 L476.91,151.48 L480.24,151.47 L483.57,151.46 L486.9,151.45 L490.23,151.43 L493.56,151.4 L496.89,151.36 L500.22,151.3 L503.55,151.22 L506.88,151.1 L510.21,150.94 L513.54,150.72 L516.87,150.4 L520.2,149.96 L523.53,149.34 L526.86,148.47 L530.19,147.26 L533.52,145.57 L536.85,143.22 L540.18,139.99 L543.51,135.66 L546.84,130.03 L550.17,123.15 L553.5,115.43 L556.83,107.59 L560.16,100.35 L563.49,94.08 L566.82,88.73 L570.15,84.06 L573.48,79.83 L576.81,75.9 L580.14,72.22 L583.47,68.78 L586.8,65.6 L590.13,62.68 L593.46,60.04 L596.79,57.67 L600.12,55.58 L603.45,53.74 L606.78,52.13 L610.11,50.73 L613.44,49.53 L616.77,48.49 L620.1,47.61 L623.43,46.85 L626.76,46.2 L630.09,45.66 L633.42,45.19 L636.75,44.8 L640.08,44.47 L643.41,44.18 L646.74,43.95 L650.07,43.75 L653.4,43.58" fill="none" stroke="#4a0090" stroke-width="1.0" stroke-opacity="1.0" stroke-linejoin="round" />
<path d="M393.66,151.54 L396.99,152.1 L400.32,152.31 L403.65,152 L406.98,151.48 L410.31,151.19 L413.64,151.23 L416.97,151.37 L420.3,151.37 L423.63,151.27 L426.96,151.28 L430.29,151.48 L433.62,151.7 L436.95,151.75 L440.28,151.64 L443.61,151.51 L446.94,151.47 L450.27,151.48 L453.6,151.5 L456.93,151.5 L460.26,151.5 L463.59,151.5 L466.92,151.49 L470.25,151.49 L473.58,151.49 L476.91,151.48 L480.24,151.48 L483.57,151.47 L486.9,151.45 L490.23,151.44 L493.56,151.41 L496.89,151.37 L500.22,151.32 L503.55,151.25 L506.88,151.15 L510.21,151.01 L513.54,150.81 L516.87,150.53 L520.2,150.14 L523.53,149.59 L526.86,148.82 L530.19,147.74 L533.52,146.23 L536.85,144.14 L540.18,141.26 L543.51,137.36 L546.84,132.22 L550.17,125.82 L553.5,118.43 L556.83,110.68 L560.16,103.35 L563.49,96.9 L566.82,91.4 L570.15,86.64 L573.48,82.38 L576.81,78.44 L580.14,74.76 L583.47,71.32 L586.8,68.11 L590.13,65.17 L593.46,62.5 L596.79,60.09 L600.12,57.96 L603.45,56.08 L606.78,54.44 L610.11,53.01 L613.44,51.77 L616.77,50.71 L620.1,49.79 L623.43,49.02 L626.76,48.35 L630.09,47.79 L633.42,47.31 L636.75,46.9 L640.08,46.56 L643.41,46.27 L646.74,46.02 L650.07,45.82 L653.4,45.64" fill="none" stroke="#7a20b0" stroke-width="0.9" stroke-opacity="1.0" stroke-linejoin="round" />
<path d="M393.66,151.44 L396.99,151.13 L400.32,150.84 L403.65,150.95 L406.98,151.44 L410.31,151.91 L413.64,152.02 L416.97,151.8 L420.3,151.56 L423.63,151.5 L426.96,151.55 L430.29,151.51 L433.62,151.37 L436.95,151.28 L440.28,151.33 L443.61,151.47 L446.94,151.55 L450.27,151.54 L453.6,151.5 L456.93,151.5 L460.26,151.5 L463.59,151.49 L466.92,151.49 L470.25,151.49 L473.58,151.48 L476.91,151.48 L480.24,151.47 L483.57,151.46 L486.9,151.44 L490.23,151.42 L493.56,151.38 L496.89,151.34 L500.22,151.27 L503.55,151.17 L506.88,151.04 L510.21,150.86 L513.54,150.6 L516.87,150.24 L520.2,149.73 L523.53,149.01 L526.86,148.02 L530.19,146.62 L533.52,144.68 L536.85,142 L540.18,138.36 L543.51,133.53 L546.84,127.43 L550.17,120.26 L553.5,112.6 L556.83,105.2 L560.16,98.62 L563.49,92.99 L566.82,88.15 L570.15,83.85 L573.48,79.9 L576.81,76.21 L580.14,72.74 L583.47,69.52 L586.8,66.55 L590.13,63.85 L593.46,61.42 L596.79,59.25 L600.12,57.34 L603.45,55.67 L606.78,54.21 L610.11,52.95 L613.44,51.86 L616.77,50.93 L620.1,50.14 L623.43,49.46 L626.76,48.88 L630.09,48.39 L633.42,47.97 L636.75,47.62 L640.08,47.32 L643.41,47.07 L646.74,46.86 L650.07,46.68 L653.4,46.53" fill="none" stroke="#500080" stroke-width="1.0" stroke-opacity="1.0" stroke-linejoin="round" />
<path d="M393.66,151.61 L396.99,151.7 L400.32,151.54 L403.65,151.13 L406.98,150.84 L410.31,150.97 L413.64,151.41 L416.97,151.78 L420.3,151.83 L423.63,151.68 L426.96,151.57 L430.29,151.59 L433.62,151.62 L436.95,151.54 L440.28,151.41 L443.61,151.35 L446.94,151.41 L450.27,151.49 L453.6,151.5 L456.93,151.5 L460.26,151.49 L463.59,151.49 L466.92,151.49 L470.25,151.48 L473.58,151.48 L476.91,151.47 L480.24,151.46 L483.57,151.44 L486.9,151.42 L490.23,151.38 L493.56,151.34 L496.89,151.27 L500.22,151.18 L503.55,151.06 L506.88,150.89 L510.21,150.64 L513.54,150.31 L516.87,149.84 L520.2,149.18 L523.53,148.28 L526.86,147.02 L530.19,145.29 L533.52,142.9 L536.85,139.66 L540.18,135.33 L543.51,129.74 L546.84,122.9 L550.17,115.14 L553.5,107.15 L556.83,99.64 L560.16,93.04 L563.49,87.36 L566.82,82.39 L570.15,77.9 L573.48,73.74 L576.81,69.86 L580.14,66.25 L583.47,62.91 L586.8,59.87 L590.13,57.12 L593.46,54.67 L596.79,52.52 L600.12,50.63 L603.45,48.98 L606.78,47.57 L610.11,46.35 L613.44,45.31 L616.77,44.42 L620.1,43.66 L623.43,43.02 L626.76,42.48 L630.09,42.03 L633.42,41.64 L636.75,41.32 L640.08,41.05 L643.41,40.82 L646.74,40.62 L650.07,40.46 L653.4,40.33" fill="none" stroke="#e04080" stroke-width="0.9" stroke-opacity="1.0" stroke-linejoin="round" />
<path d="M393.66,151.44 L396.99,151.13 L400.32,150.84 L403.65,150.95 L406.98,151.44 L410.31,151.91 L413.64,152.02 L416.97,151.8 L420.3,151.56 L423.63,151.5 L426.96,151.55 L430.29,151.51 L433.62,151.37 L436.95,151.28 L440.28,151.33 L443.61,151.47 L446.94,151.55 L450.27,151.54 L453.6,151.5 L456.93,151.5 L460.26,151.5 L463.59,151.49 L466.92,151.49 L470.25,151.49 L473.58,151.48 L476.91,151.47 L480.24,151.46 L483.57,151.45 L486.9,151.43 L490.23,151.4 L493.56,151.36 L496.89,151.31 L500.22,151.23 L503.55,151.13 L506.88,150.98 L510.21,150.78 L513.54,150.49 L516.87,150.1 L520.2,149.54 L523.53,148.78 L526.86,147.72 L530.19,146.25 L533.52,144.22 L536.85,141.46 L540.18,137.73 L543.51,132.84 L546.84,126.71 L550.17,119.52 L553.5,111.82 L556.83,104.33 L560.16,97.6 L563.49,91.79 L566.82,86.75 L570.15,82.26 L573.48,78.14 L576.81,74.3 L580.14,70.71 L583.47,67.39 L586.8,64.34 L590.13,61.58 L593.46,59.1 L596.79,56.91 L600.12,54.99 L603.45,53.32 L606.78,51.87 L610.11,50.62 L613.44,49.55 L616.77,48.64 L620.1,47.86 L623.43,47.2 L626.76,46.65 L630.09,46.17 L633.42,45.78 L636.75,45.44 L640.08,45.16 L643.41,44.92 L646.74,44.73 L650.07,44.56 L653.4,44.42" fill="none" stroke="#c03090" stroke-width="0.9" stroke-opacity="1.0" stroke-linejoin="round" />
<path d="M393.66,151.61 L396.99,151.7 L400.32,151.54 L403.65,151.13 L406.98,150.84 L410.31,150.97 L413.64,151.41 L416.97,151.78 L420.3,151.83 L423.63,151.68 L426.96,151.57 L430.29,151.59 L433.62,151.62 L436.95,151.54 L440.28,151.41 L443.61,151.35 L446.94,151.41 L450.27,151.49 L453.6,151.5 L456.93,151.5 L460.26,151.5 L463.59,151.49 L466.92,151.49 L470.25,151.49 L473.58,151.48 L476.91,151.48 L480.24,151.47 L483.57,151.46 L486.9,151.44 L490.23,151.41 L493.56,151.38 L496.89,151.33 L500.22,151.27 L503.55,151.18 L506.88,151.05 L510.21,150.87 L513.54,150.62 L516.87,150.28 L520.2,149.8 L523.53,149.15 L526.86,148.25 L530.19,147.01 L533.52,145.34 L536.85,143.09 L540.18,140.13 L543.51,136.33 L546.84,131.63 L550.17,126.12 L553.5,120.08 L556.83,113.91 L560.16,107.99 L563.49,102.55 L566.82,97.62 L570.15,93.2 L573.48,89.26 L576.81,85.79 L580.14,82.78 L583.47,80.21 L586.8,78.05 L590.13,76.26 L593.46,74.8 L596.79,73.62 L600.12,72.67 L603.45,71.91 L606.78,71.31 L610.11,70.84 L613.44,70.47 L616.77,70.17 L620.1,69.94 L623.43,69.76 L626.76,69.62 L630.09,69.51 L633.42,69.43 L636.75,69.36 L640.08,69.31 L643.41,69.27 L646.74,69.23 L650.07,69.21 L653.4,69.19" fill="none" stroke="#ff50ff" stroke-width="0.9" stroke-opacity="1.0" stroke-linejoin="round" />
<path d="M393.66,151.64 L396.99,151.72 L400.32,151.77 L403.65,151.51 L406.98,151.07 L410.31,150.85 L413.64,151.05 L416.97,151.48 L420.3,151.75 L423.63,151.74 L426.96,151.62 L430.29,151.57 L433.62,151.62 L436.95,151.62 L440.28,151.52 L443.61,151.41 L446.94,151.4 L450.27,151.46 L453.6,151.5 L456.93,151.5 L460.26,151.5 L463.59,151.5 L466.92,151.5 L470.25,151.5 L473.58,151.5 L476.91,151.49 L480.24,151.49 L483.57,151.49 L486.9,151.49 L490.23,151.48 L493.56,151.48 L496.89,151.47 L500.22,151.46 L503.55,151.45 L506.88,151.44 L510.21,151.42 L513.54,151.4 L516.87,151.37 L520.2,151.33 L523.53,151.28 L526.86,151.22 L530.19,151.14 L533.52,151.03 L536.85,150.9 L540.18,150.72 L543.51,150.49 L546.84,150.2 L550.17,149.83 L553.5,149.35 L556.83,148.74 L560.16,147.96 L563.49,146.98 L566.82,145.74 L570.15,144.19 L573.48,142.26 L576.81,139.91 L580.14,137.06 L583.47,133.69 L586.8,129.78 L590.13,125.38 L593.46,120.64 L596.79,115.71 L600.12,110.82 L603.45,106.11 L606.78,101.68 L610.11,97.57 L613.44,93.77 L616.77,90.32 L620.1,87.22 L623.43,84.48 L626.76,82.09 L630.09,80.04 L633.42,78.29 L636.75,76.82 L640.08,75.6 L643.41,74.58 L646.74,73.75 L650.07,73.06 L653.4,72.5" fill="none" stroke="#ff40ff" stroke-width="0.9" stroke-opacity="1.0" stroke-linejoin="round" />
<path d="M393.66,151.11 L396.99,150.87 L400.32,151.03 L403.65,151.56 L406.98,152.04 L410.31,152.1 L413.64,151.8 L416.97,151.51 L420.3,151.43 L423.63,151.49 L426.96,151.47 L430.29,151.34 L433.62,151.25 L436.95,151.32 L440.28,151.49 L443.61,151.6 L446.94,151.58 L450.27,151.52 L453.6,151.5 L456.93,151.5 L460.26,151.5 L463.59,151.5 L466.92,151.5 L470.25,151.5 L473.58,151.5 L476.91,151.5 L480.24,151.49 L483.57,151.49 L486.9,151.49 L490.23,151.49 L493.56,151.48 L496.89,151.48 L500.22,151.47 L503.55,151.46 L506.88,151.45 L510.21,151.44 L513.54,151.42 L516.87,151.4 L520.2,151.37 L523.53,151.33 L526.86,151.28 L530.19,151.21 L533.52,151.12 L536.85,151.01 L540.18,150.87 L543.51,150.69 L546.84,150.46 L550.17,150.15 L553.5,149.77 L556.83,149.27 L560.16,148.64 L563.49,147.83 L566.82,146.81 L570.15,145.53 L573.48,143.93 L576.81,141.95 L580.14,139.53 L583.47,136.62 L586.8,133.18 L590.13,129.22 L593.46,124.8 L596.79,120.06 L600.12,115.19 L603.45,110.38 L606.78,105.78 L610.11,101.47 L613.44,97.46 L616.77,93.79 L620.1,90.45 L623.43,87.46 L626.76,84.82 L630.09,82.53 L633.42,80.56 L636.75,78.9 L640.08,77.5 L643.41,76.33 L646.74,75.37 L650.07,74.57 L653.4,73.92" fill="none" stroke="#e040e0" stroke-width="0.9" stroke-opacity="1.0" stroke-linejoin="round" />
<path d="M393.66,150.73 L396.99,150.69 L400.32,150.71 L403.65,150.81 L406.98,150.95 L410.31,151.1 L413.64,151.22 L416.97,151.29 L420.3,151.28 L423.63,151.21 L426.96,151.08 L430.29,150.93 L433.62,150.79 L436.95,150.71 L440.28,150.69 L443.61,150.75 L446.94,150.87 L450.27,151.01 L453.6,151.16 L456.93,151.26 L460.26,151.3 L463.59,151.26 L466.92,151.16 L470.25,151.01 L473.58,150.86 L476.91,150.75 L480.24,150.69 L483.57,150.71 L486.9,150.79 L490.23,150.93 L493.56,151.08 L496.89,151.21 L500.22,151.28 L503.55,151.29 L506.88,151.22 L510.21,151.1 L513.54,150.95 L516.87,150.81 L520.2,150.71 L523.53,150.69 L526.86,150.74 L530.19,150.85 L533.52,150.99 L536.85,151.14 L540.18,151.25 L543.51,151.3 L546.84,151.27 L550.17,151.17 L553.5,151.03 L556.83,150.88 L560.16,150.76 L563.49,150.69 L566.82,150.7 L570.15,150.78 L573.48,150.91 L576.81,151.06 L580.14,151.19 L583.47,151.28 L586.8,151.29 L590.13,151.23 L593.46,151.11 L596.79,150.97 L600.12,150.82 L603.45,150.72 L606.78,150.69 L610.11,150.73 L613.44,150.83 L616.77,150.97 L620.1,151.12 L623.43,151.24 L626.76,151.29 L630.09,151.28 L633.42,151.19 L636.75,151.05 L640.08,150.9 L643.41,150.77 L646.74,150.7 L650.07,150.69 L653.4,150.76" fill="none" stroke="#108010" stroke-width="1.2" stroke-opacity="1.0" stroke-linejoin="round" />
<line x1="393.66" y1="138.28" x2="653.4" y2="138.28" stroke="#108010" stroke-width="1.6" />
<path d="M387.5,16.1 L666.2,16.1 L666.2,157.5" fill="none" stroke="#6a6a6a" stroke-width="1.6"/>
<path d="M387.5,16.1 L387.5,157.5 L666.2,157.5" fill="none" stroke="#222" stroke-width="1"/>
<line x1="384.5" y1="151.5" x2="391" y2="151.5" stroke="#111" stroke-width="0.9" />
<line x1="386" y1="146.41" x2="389.5" y2="146.41" stroke="#111" stroke-width="0.9" />
<line x1="386" y1="141.33" x2="389.5" y2="141.33" stroke="#111" stroke-width="0.9" />
<line x1="386" y1="136.25" x2="389.5" y2="136.25" stroke="#111" stroke-width="0.9" />
<line x1="384.5" y1="131.16" x2="391" y2="131.16" stroke="#111" stroke-width="0.9" />
<line x1="386" y1="126.08" x2="389.5" y2="126.08" stroke="#111" stroke-width="0.9" />
<line x1="386" y1="120.99" x2="389.5" y2="120.99" stroke="#111" stroke-width="0.9" />
<line x1="386" y1="115.91" x2="389.5" y2="115.91" stroke="#111" stroke-width="0.9" />
<line x1="384.5" y1="110.82" x2="391" y2="110.82" stroke="#111" stroke-width="0.9" />
<line x1="386" y1="105.73" x2="389.5" y2="105.73" stroke="#111" stroke-width="0.9" />
<line x1="386" y1="100.65" x2="389.5" y2="100.65" stroke="#111" stroke-width="0.9" />
<line x1="386" y1="95.56" x2="389.5" y2="95.56" stroke="#111" stroke-width="0.9" />
<line x1="384.5" y1="90.48" x2="391" y2="90.48" stroke="#111" stroke-width="0.9" />
<line x1="386" y1="85.39" x2="389.5" y2="85.39" stroke="#111" stroke-width="0.9" />
<line x1="386" y1="80.31" x2="389.5" y2="80.31" stroke="#111" stroke-width="0.9" />
<line x1="386" y1="75.22" x2="389.5" y2="75.22" stroke="#111" stroke-width="0.9" />
<line x1="384.5" y1="70.14" x2="391" y2="70.14" stroke="#111" stroke-width="0.9" />
<line x1="386" y1="65.06" x2="389.5" y2="65.06" stroke="#111" stroke-width="0.9" />
<line x1="386" y1="59.97" x2="389.5" y2="59.97" stroke="#111" stroke-width="0.9" />
<line x1="386" y1="54.89" x2="389.5" y2="54.89" stroke="#111" stroke-width="0.9" />
<line x1="384.5" y1="49.8" x2="391" y2="49.8" stroke="#111" stroke-width="0.9" />
<line x1="386" y1="44.72" x2="389.5" y2="44.72" stroke="#111" stroke-width="0.9" />
<line x1="386" y1="39.63" x2="389.5" y2="39.63" stroke="#111" stroke-width="0.9" />
<line x1="386" y1="34.55" x2="389.5" y2="34.55" stroke="#111" stroke-width="0.9" />
<line x1="384.5" y1="29.46" x2="391" y2="29.46" stroke="#111" stroke-width="0.9" />
<line x1="664.2" y1="151.5" x2="666.2" y2="151.5" stroke="#111" stroke-width="0.8" />
<line x1="664.2" y1="146.41" x2="666.2" y2="146.41" stroke="#111" stroke-width="0.8" />
<line x1="664.2" y1="141.33" x2="666.2" y2="141.33" stroke="#111" stroke-width="0.8" />
<line x1="664.2" y1="136.25" x2="666.2" y2="136.25" stroke="#111" stroke-width="0.8" />
<line x1="664.2" y1="131.16" x2="666.2" y2="131.16" stroke="#111" stroke-width="0.8" />
<line x1="664.2" y1="126.08" x2="666.2" y2="126.08" stroke="#111" stroke-width="0.8" />
<line x1="664.2" y1="120.99" x2="666.2" y2="120.99" stroke="#111" stroke-width="0.8" />
<line x1="664.2" y1="115.91" x2="666.2" y2="115.91" stroke="#111" stroke-width="0.8" />
<line x1="664.2" y1="110.82" x2="666.2" y2="110.82" stroke="#111" stroke-width="0.8" />
<line x1="664.2" y1="105.73" x2="666.2" y2="105.73" stroke="#111" stroke-width="0.8" />
<line x1="664.2" y1="100.65" x2="666.2" y2="100.65" stroke="#111" stroke-width="0.8" />
<line x1="664.2" y1="95.56" x2="666.2" y2="95.56" stroke="#111" stroke-width="0.8" />
<line x1="664.2" y1="90.48" x2="666.2" y2="90.48" stroke="#111" stroke-width="0.8" />
<line x1="664.2" y1="85.39" x2="666.2" y2="85.39" stroke="#111" stroke-width="0.8" />
<line x1="664.2" y1="80.31" x2="666.2" y2="80.31" stroke="#111" stroke-width="0.8" />
<line x1="664.2" y1="75.22" x2="666.2" y2="75.22" stroke="#111" stroke-width="0.8" />
<line x1="664.2" y1="70.14" x2="666.2" y2="70.14" stroke="#111" stroke-width="0.8" />
<line x1="664.2" y1="65.06" x2="666.2" y2="65.06" stroke="#111" stroke-width="0.8" />
<line x1="664.2" y1="59.97" x2="666.2" y2="59.97" stroke="#111" stroke-width="0.8" />
<line x1="664.2" y1="54.89" x2="666.2" y2="54.89" stroke="#111" stroke-width="0.8" />
<line x1="664.2" y1="49.8" x2="666.2" y2="49.8" stroke="#111" stroke-width="0.8" />
<line x1="664.2" y1="44.72" x2="666.2" y2="44.72" stroke="#111" stroke-width="0.8" />
<line x1="664.2" y1="39.63" x2="666.2" y2="39.63" stroke="#111" stroke-width="0.8" />
<line x1="664.2" y1="34.55" x2="666.2" y2="34.55" stroke="#111" stroke-width="0.8" />
<line x1="664.2" y1="29.46" x2="666.2" y2="29.46" stroke="#111" stroke-width="0.8" />
<line x1="387" y1="154.5" x2="387" y2="160.5" stroke="#111" stroke-width="0.9" />
<line x1="387" y1="16.1" x2="387" y2="18.1" stroke="#111" stroke-width="0.7" />
<line x1="400.32" y1="155.5" x2="400.32" y2="159" stroke="#111" stroke-width="0.9" />
<line x1="400.32" y1="16.1" x2="400.32" y2="18.1" stroke="#111" stroke-width="0.7" />
<line x1="413.64" y1="155.5" x2="413.64" y2="159" stroke="#111" stroke-width="0.9" />
<line x1="413.64" y1="16.1" x2="413.64" y2="18.1" stroke="#111" stroke-width="0.7" />
<line x1="426.96" y1="155.5" x2="426.96" y2="159" stroke="#111" stroke-width="0.9" />
<line x1="426.96" y1="16.1" x2="426.96" y2="18.1" stroke="#111" stroke-width="0.7" />
<line x1="440.28" y1="155.5" x2="440.28" y2="159" stroke="#111" stroke-width="0.9" />
<line x1="440.28" y1="16.1" x2="440.28" y2="18.1" stroke="#111" stroke-width="0.7" />
<line x1="453.6" y1="154.5" x2="453.6" y2="160.5" stroke="#111" stroke-width="0.9" />
<line x1="453.6" y1="16.1" x2="453.6" y2="18.1" stroke="#111" stroke-width="0.7" />
<line x1="466.92" y1="155.5" x2="466.92" y2="159" stroke="#111" stroke-width="0.9" />
<line x1="466.92" y1="16.1" x2="466.92" y2="18.1" stroke="#111" stroke-width="0.7" />
<line x1="480.24" y1="155.5" x2="480.24" y2="159" stroke="#111" stroke-width="0.9" />
<line x1="480.24" y1="16.1" x2="480.24" y2="18.1" stroke="#111" stroke-width="0.7" />
<line x1="493.56" y1="155.5" x2="493.56" y2="159" stroke="#111" stroke-width="0.9" />
<line x1="493.56" y1="16.1" x2="493.56" y2="18.1" stroke="#111" stroke-width="0.7" />
<line x1="506.88" y1="155.5" x2="506.88" y2="159" stroke="#111" stroke-width="0.9" />
<line x1="506.88" y1="16.1" x2="506.88" y2="18.1" stroke="#111" stroke-width="0.7" />
<line x1="520.2" y1="154.5" x2="520.2" y2="160.5" stroke="#111" stroke-width="0.9" />
<line x1="520.2" y1="16.1" x2="520.2" y2="18.1" stroke="#111" stroke-width="0.7" />
<line x1="533.52" y1="155.5" x2="533.52" y2="159" stroke="#111" stroke-width="0.9" />
<line x1="533.52" y1="16.1" x2="533.52" y2="18.1" stroke="#111" stroke-width="0.7" />
<line x1="546.84" y1="155.5" x2="546.84" y2="159" stroke="#111" stroke-width="0.9" />
<line x1="546.84" y1="16.1" x2="546.84" y2="18.1" stroke="#111" stroke-width="0.7" />
<line x1="560.16" y1="155.5" x2="560.16" y2="159" stroke="#111" stroke-width="0.9" />
<line x1="560.16" y1="16.1" x2="560.16" y2="18.1" stroke="#111" stroke-width="0.7" />
<line x1="573.48" y1="155.5" x2="573.48" y2="159" stroke="#111" stroke-width="0.9" />
<line x1="573.48" y1="16.1" x2="573.48" y2="18.1" stroke="#111" stroke-width="0.7" />
<line x1="586.8" y1="154.5" x2="586.8" y2="160.5" stroke="#111" stroke-width="0.9" />
<line x1="586.8" y1="16.1" x2="586.8" y2="18.1" stroke="#111" stroke-width="0.7" />
<line x1="600.12" y1="155.5" x2="600.12" y2="159" stroke="#111" stroke-width="0.9" />
<line x1="600.12" y1="16.1" x2="600.12" y2="18.1" stroke="#111" stroke-width="0.7" />
<line x1="613.44" y1="155.5" x2="613.44" y2="159" stroke="#111" stroke-width="0.9" />
<line x1="613.44" y1="16.1" x2="613.44" y2="18.1" stroke="#111" stroke-width="0.7" />
<line x1="626.76" y1="155.5" x2="626.76" y2="159" stroke="#111" stroke-width="0.9" />
<line x1="626.76" y1="16.1" x2="626.76" y2="18.1" stroke="#111" stroke-width="0.7" />
<line x1="640.08" y1="155.5" x2="640.08" y2="159" stroke="#111" stroke-width="0.9" />
<line x1="640.08" y1="16.1" x2="640.08" y2="18.1" stroke="#111" stroke-width="0.7" />
<line x1="653.4" y1="154.5" x2="653.4" y2="160.5" stroke="#111" stroke-width="0.9" />
<line x1="653.4" y1="16.1" x2="653.4" y2="18.1" stroke="#111" stroke-width="0.7" />
<text x="381.2" y="153.04" font-family="Liberation Sans" font-size="6.5" font-weight="normal" font-style="normal" text-anchor="end" fill="#333" >0</text>
<text x="381.2" y="132.7" font-family="Liberation Sans" font-size="6.5" font-weight="normal" font-style="normal" text-anchor="end" fill="#333" >200</text>
<text x="381.2" y="112.36" font-family="Liberation Sans" font-size="6.5" font-weight="normal" font-style="normal" text-anchor="end" fill="#333" >400</text>
<text x="381.2" y="92.02" font-family="Liberation Sans" font-size="6.5" font-weight="normal" font-style="normal" text-anchor="end" fill="#333" >600</text>
<text x="381.2" y="71.68" font-family="Liberation Sans" font-size="6.5" font-weight="normal" font-style="normal" text-anchor="end" fill="#333" >800</text>
<text x="381.2" y="51.34" font-family="Liberation Sans" font-size="6.5" font-weight="normal" font-style="normal" text-anchor="end" fill="#333" >1000</text>
<text x="381.2" y="31" font-family="Liberation Sans" font-size="6.5" font-weight="normal" font-style="normal" text-anchor="end" fill="#333" >1200</text>
<text x="387" y="169.6" font-family="Liberation Sans" font-size="6.5" font-weight="normal" font-style="normal" text-anchor="middle" fill="#333" >0</text>
<text x="453.6" y="169.6" font-family="Liberation Sans" font-size="6.5" font-weight="normal" font-style="normal" text-anchor="middle" fill="#333" >10</text>
<text x="520.2" y="169.6" font-family="Liberation Sans" font-size="6.5" font-weight="normal" font-style="normal" text-anchor="middle" fill="#333" >20</text>
<text x="586.8" y="169.6" font-family="Liberation Sans" font-size="6.5" font-weight="normal" font-style="normal" text-anchor="middle" fill="#333" >30</text>
<text x="653.4" y="169.6" font-family="Liberation Sans" font-size="6.5" font-weight="normal" font-style="normal" text-anchor="middle" fill="#333" >40</text>
<text x="513" y="7.4" font-family="Liberation Sans" font-size="8.2" font-weight="normal" font-style="normal" text-anchor="middle" fill="#111" stroke="#111" stroke-width="0.25">Amplification</text>
<text x="361.5" y="91" font-family="Liberation Sans" font-size="6" font-weight="bold" font-style="normal" text-anchor="middle" fill="#222" transform="rotate(-90 361.5 91)" >RFU</text>
<text x="526.3" y="181.8" font-family="Liberation Sans" font-size="6.7" font-weight="normal" font-style="normal" text-anchor="middle" fill="#222" >Cycles</text>
<text x="357.8" y="10.6" font-family="Liberation Sans" font-size="17.8" font-weight="bold" font-style="normal" text-anchor="start" fill="#000" >e</text>
<line x1="50.5" y1="366" x2="300.5" y2="366" stroke="#555" stroke-width="0.6" stroke-dasharray="1,3.2"/>
<line x1="50.5" y1="342.6" x2="300.5" y2="342.6" stroke="#555" stroke-width="0.6" stroke-dasharray="1,3.2"/>
<line x1="50.5" y1="319.2" x2="300.5" y2="319.2" stroke="#555" stroke-width="0.6" stroke-dasharray="1,3.2"/>
<line x1="50.5" y1="295.8" x2="300.5" y2="295.8" stroke="#555" stroke-width="0.6" stroke-dasharray="1,3.2"/>
<line x1="50.5" y1="272.4" x2="300.5" y2="272.4" stroke="#555" stroke-width="0.6" stroke-dasharray="1,3.2"/>
<line x1="50.5" y1="249" x2="300.5" y2="249" stroke="#555" stroke-width="0.6" stroke-dasharray="1,3.2"/>
<line x1="50.5" y1="225.6" x2="300.5" y2="225.6" stroke="#555" stroke-width="0.6" stroke-dasharray="1,3.2"/>
<line x1="62.2" y1="225.5" x2="62.2" y2="368.5" stroke="#555" stroke-width="0.6" stroke-dasharray="1,3.2"/>
<line x1="100" y1="225.5" x2="100" y2="368.5" stroke="#555" stroke-width="0.6" stroke-dasharray="1,3.2"/>
<line x1="137.8" y1="225.5" x2="137.8" y2="368.5" stroke="#555" stroke-width="0.6" stroke-dasharray="1,3.2"/>
<line x1="175.6" y1="225.5" x2="175.6" y2="368.5" stroke="#555" stroke-width="0.6" stroke-dasharray="1,3.2"/>
<line x1="213.4" y1="225.5" x2="213.4" y2="368.5" stroke="#555" stroke-width="0.6" stroke-dasharray="1,3.2"/>
<line x1="251.2" y1="225.5" x2="251.2" y2="368.5" stroke="#555" stroke-width="0.6" stroke-dasharray="1,3.2"/>
<line x1="289" y1="225.5" x2="289" y2="368.5" stroke="#555" stroke-width="0.6" stroke-dasharray="1,3.2"/>
<path d="M62.2,361.65 L62.96,360.28 L63.71,358.91 L64.47,357.54 L65.22,356.17 L65.98,356.17 L66.74,356.17 L68.25,356.17 L69.76,356.17 L71.27,356.17 L72.78,356.17 L74.3,356.17 L75.81,356.17 L77.32,356.17 L78.83,356.17 L80.34,356.17 L81.86,356.17 L83.37,355.74 L84.88,355.22 L86.39,354.62 L87.9,353.96 L89.42,353.25 L90.93,352.48 L92.44,351.68 L93.95,350.85 L95.46,349.99 L96.98,349.12 L98.49,348.25 L100,347.38 L101.51,346.52 L103.02,345.69 L104.54,344.89 L106.05,344.12 L107.56,343.41 L109.07,342.75 L110.58,342.15 L112.1,341.56 L113.61,340.97 L115.12,340.82 L116.63,340.67 L118.14,340.52 L119.66,340.37 L121.17,340.22 L122.68,340.07 L124.19,339.92 L125.7,339.77 L127.22,339.62 L128.73,339.47 L130.24,339.32 L131.75,339.16 L133.26,339.01 L134.78,338.85 L136.29,338.68 L137.8,338.51 L139.31,338.32 L140.82,338.11 L142.34,337.88 L143.85,337.61 L145.36,337.28 L146.87,336.89 L148.38,336.39 L149.9,335.78 L151.41,334.99 L152.92,334.01 L154.43,332.76 L155.94,331.21 L157.46,329.29 L158.97,326.93 L160.48,324.08 L161.99,320.68 L163.5,316.68 L165.02,312.07 L166.53,306.83 L168.04,300.99 L169.55,294.6 L171.06,287.74 L172.58,280.55 L174.09,273.17 L175.6,265.82 L177.11,258.69 L178.62,252.02 L180.14,246.06 L181.65,241.02 L183.16,237.14 L184.67,234.58 L186.18,233.5 L187.7,234.08 L189.21,236.75 L190.72,241.54 L192.23,248.31 L193.74,256.8 L195.26,266.68 L196.77,277.52 L198.28,288.83 L199.79,300.08 L201.3,310.81 L202.82,320.66 L204.33,329.39 L205.84,336.88 L207.35,343.14 L208.86,348.22 L210.38,352.24 L211.89,355.31 L213.4,357.56 L214.91,359.11 L216.42,360.07 L217.94,360.53 L219.45,360.58 L220.96,360.3 L222.47,359.77 L223.98,359.08 L225.5,358.31 L227.01,357.55 L228.52,356.9 L230.03,356.42 L231.54,356.17 L233.06,356.18 L234.57,356.47 L236.08,356.99 L237.59,357.71 L239.1,358.57 L240.62,359.48 L242.13,360.4 L243.64,361.27 L245.15,362.04 L246.66,362.7 L248.18,363.23 L249.69,363.65 L251.2,363.96 L252.71,364.18 L254.22,364.34 L255.74,364.44 L257.25,364.5 L258.76,364.54 L260.27,364.57 L261.78,364.58 L263.3,364.59 L264.81,364.59 L266.32,364.59 L267.83,364.6 L269.34,364.6 L270.86,364.6 L272.37,364.6 L273.88,364.6 L275.39,364.6 L276.9,364.6 L278.42,364.6 L279.93,364.6 L281.44,364.6 L282.95,364.6 L284.46,364.6 L285.98,364.6 L287.49,364.6 L289,364.6" fill="none" stroke="#4a6aa8" stroke-width="0.8" stroke-opacity="1.0" stroke-linejoin="round" />
<path d="M62.2,360.01 L62.96,357.88 L63.71,355.75 L64.47,353.62 L65.22,351.49 L65.98,351.49 L66.74,351.49 L68.25,351.49 L69.76,351.49 L71.27,351.49 L72.78,351.49 L74.3,351.49 L75.81,351.49 L77.32,351.49 L78.83,351.49 L80.34,351.49 L81.86,351.49 L83.37,351.19 L84.88,350.83 L86.39,350.43 L87.9,349.97 L89.42,349.48 L90.93,348.96 L92.44,348.4 L93.95,347.83 L95.46,347.24 L96.98,346.64 L98.49,346.04 L100,345.45 L101.51,344.86 L103.02,344.28 L104.54,343.73 L106.05,343.21 L107.56,342.71 L109.07,342.26 L110.58,341.85 L112.1,341.42 L113.61,340.97 L115.12,340.82 L116.63,340.67 L118.14,340.52 L119.66,340.37 L121.17,340.22 L122.68,340.07 L124.19,339.92 L125.7,339.77 L127.22,339.62 L128.73,339.47 L130.24,339.32 L131.75,339.17 L133.26,339.01 L134.78,338.86 L136.29,338.7 L137.8,338.53 L139.31,338.36 L140.82,338.18 L142.34,337.98 L143.85,337.76 L145.36,337.51 L146.87,337.22 L148.38,336.87 L149.9,336.46 L151.41,335.96 L152.92,335.34 L154.43,334.57 L155.94,333.63 L157.46,332.47 L158.97,331.06 L160.48,329.35 L161.99,327.29 L163.5,324.87 L165.02,322.02 L166.53,318.74 L168.04,315.01 L169.55,310.84 L171.06,306.23 L172.58,301.23 L174.09,295.92 L175.6,290.38 L177.11,284.71 L178.62,279.06 L180.14,273.56 L181.65,268.39 L183.16,263.69 L184.67,259.64 L186.18,256.4 L187.7,254.09 L189.21,252.84 L190.72,252.74 L192.23,254.16 L193.74,257.37 L195.26,262.31 L196.77,268.85 L198.28,276.73 L199.79,285.65 L201.3,295.21 L202.82,304.95 L204.33,314.45 L205.84,323.32 L207.35,331.3 L208.86,338.24 L210.38,344.11 L211.89,348.94 L213.4,352.83 L214.91,355.91 L216.42,358.28 L217.94,360.08 L219.45,361.42 L220.96,362.4 L222.47,363.1 L223.98,363.59 L225.5,363.93 L227.01,364.17 L228.52,364.32 L230.03,364.42 L231.54,364.49 L233.06,364.53 L234.57,364.55 L236.08,364.57 L237.59,364.58 L239.1,364.59 L240.62,364.59 L242.13,364.59 L243.64,364.59 L245.15,364.59 L246.66,364.6 L248.18,364.6 L249.69,364.6 L251.2,364.6 L252.71,364.6 L254.22,364.6 L255.74,364.6 L257.25,364.6 L258.76,364.6 L260.27,364.6 L261.78,364.6 L263.3,364.6 L264.81,364.6 L266.32,364.6 L267.83,364.6 L269.34,364.6 L270.86,364.6 L272.37,364.6 L273.88,364.6 L275.39,364.6 L276.9,364.6 L278.42,364.6 L279.93,364.6 L281.44,364.6 L282.95,364.6 L284.46,364.6 L285.98,364.6 L287.49,364.6 L289,364.6" fill="none" stroke="#f03030" stroke-width="0.9" stroke-opacity="1.0" stroke-linejoin="round" />
<path d="M62.2,360.99 L62.96,359.32 L63.71,357.65 L64.47,355.97 L65.22,354.3 L65.98,354.3 L66.74,354.3 L68.25,354.3 L69.76,354.3 L71.27,354.3 L72.78,354.3 L74.3,354.3 L75.81,354.3 L77.32,354.3 L78.83,354.3 L80.34,354.3 L81.86,354.3 L83.37,353.92 L84.88,353.46 L86.39,352.94 L87.9,352.37 L89.42,351.74 L90.93,351.07 L92.44,350.37 L93.95,349.64 L95.46,348.89 L96.98,348.13 L98.49,347.37 L100,346.61 L101.51,345.86 L103.02,345.13 L104.54,344.42 L106.05,343.76 L107.56,343.13 L109.07,342.55 L110.58,342.03 L112.1,341.51 L113.61,340.97 L115.12,340.82 L116.63,340.67 L118.14,340.52 L119.66,340.37 L121.17,340.22 L122.68,340.07 L124.19,339.92 L125.7,339.77 L127.22,339.62 L128.73,339.47 L130.24,339.32 L131.75,339.17 L133.26,339.02 L134.78,338.87 L136.29,338.72 L137.8,338.57 L139.31,338.42 L140.82,338.26 L142.34,338.1 L143.85,337.94 L145.36,337.77 L146.87,337.6 L148.38,337.41 L149.9,337.2 L151.41,336.97 L152.92,336.71 L154.43,336.4 L155.94,336.03 L157.46,335.58 L158.97,335.03 L160.48,334.36 L161.99,333.53 L163.5,332.51 L165.02,331.27 L166.53,329.75 L168.04,327.93 L169.55,325.76 L171.06,323.2 L172.58,320.23 L174.09,316.83 L175.6,312.99 L177.11,308.72 L178.62,304.06 L180.14,299.05 L181.65,293.77 L183.16,288.31 L184.67,282.81 L186.18,277.38 L187.7,272.18 L189.21,267.38 L190.72,263.12 L192.23,259.57 L193.74,256.87 L195.26,255.14 L196.77,254.5 L198.28,255.11 L199.79,257.51 L201.3,261.74 L202.82,267.68 L204.33,275.12 L205.84,283.75 L207.35,293.2 L208.86,303 L210.38,312.7 L211.89,321.87 L213.4,330.2 L214.91,337.47 L216.42,343.63 L217.94,348.69 L219.45,352.75 L220.96,355.93 L222.47,358.37 L223.98,360.19 L225.5,361.54 L227.01,362.51 L228.52,363.19 L230.03,363.67 L231.54,363.99 L233.06,364.21 L234.57,364.35 L236.08,364.44 L237.59,364.5 L239.1,364.54 L240.62,364.56 L242.13,364.57 L243.64,364.58 L245.15,364.59 L246.66,364.59 L248.18,364.59 L249.69,364.59 L251.2,364.59 L252.71,364.59 L254.22,364.6 L255.74,364.6 L257.25,364.6 L258.76,364.6 L260.27,364.6 L261.78,364.6 L263.3,364.6 L264.81,364.6 L266.32,364.6 L267.83,364.6 L269.34,364.6 L270.86,364.6 L272.37,364.6 L273.88,364.6 L275.39,364.6 L276.9,364.6 L278.42,364.6 L279.93,364.6 L281.44,364.6 L282.95,364.6 L284.46,364.6 L285.98,364.6 L287.49,364.6 L289,364.6" fill="none" stroke="#a040f0" stroke-width="0.9" stroke-opacity="1.0" stroke-linejoin="round" />
<path d="M62.2,361.32 L62.96,359.8 L63.71,358.28 L64.47,356.76 L65.22,355.24 L65.98,355.24 L66.74,355.24 L68.25,355.24 L69.76,355.24 L71.27,355.24 L72.78,355.24 L74.3,355.24 L75.81,355.24 L77.32,355.24 L78.83,355.24 L80.34,355.24 L81.86,355.24 L83.37,354.83 L84.88,354.34 L86.39,353.78 L87.9,353.16 L89.42,352.49 L90.93,351.78 L92.44,351.02 L93.95,350.24 L95.46,349.44 L96.98,348.63 L98.49,347.81 L100,346.99 L101.51,346.19 L103.02,345.41 L104.54,344.65 L106.05,343.94 L107.56,343.27 L109.07,342.65 L110.58,342.09 L112.1,341.53 L113.61,340.97 L115.12,340.82 L116.63,340.67 L118.14,340.52 L119.66,340.37 L121.17,340.22 L122.68,340.07 L124.19,339.92 L125.7,339.77 L127.22,339.62 L128.73,339.46 L130.24,339.31 L131.75,339.15 L133.26,338.99 L134.78,338.82 L136.29,338.64 L137.8,338.44 L139.31,338.23 L140.82,337.99 L142.34,337.72 L143.85,337.39 L145.36,337.01 L146.87,336.54 L148.38,335.97 L149.9,335.28 L151.41,334.42 L152.92,333.37 L154.43,332.09 L155.94,330.55 L157.46,328.71 L158.97,326.52 L160.48,323.97 L161.99,321.03 L163.5,317.69 L165.02,313.95 L166.53,309.83 L168.04,305.36 L169.55,300.61 L171.06,295.65 L172.58,290.58 L174.09,285.53 L175.6,280.62 L177.11,275.99 L178.62,271.8 L180.14,268.18 L181.65,265.29 L183.16,263.24 L184.67,262.15 L186.18,262.1 L187.7,263.42 L189.21,266.37 L190.72,270.89 L192.23,276.87 L193.74,284.1 L195.26,292.28 L196.77,301.06 L198.28,310.02 L199.79,318.75 L201.3,326.9 L202.82,334.22 L204.33,340.58 L205.84,345.95 L207.35,350.36 L208.86,353.91 L210.38,356.71 L211.89,358.87 L213.4,360.5 L214.91,361.72 L216.42,362.6 L217.94,363.24 L219.45,363.69 L220.96,363.99 L222.47,364.2 L223.98,364.34 L225.5,364.44 L227.01,364.5 L228.52,364.53 L230.03,364.56 L231.54,364.57 L233.06,364.58 L234.57,364.59 L236.08,364.59 L237.59,364.59 L239.1,364.59 L240.62,364.59 L242.13,364.6 L243.64,364.6 L245.15,364.6 L246.66,364.6 L248.18,364.6 L249.69,364.6 L251.2,364.6 L252.71,364.6 L254.22,364.6 L255.74,364.6 L257.25,364.6 L258.76,364.6 L260.27,364.6 L261.78,364.6 L263.3,364.6 L264.81,364.6 L266.32,364.6 L267.83,364.6 L269.34,364.6 L270.86,364.6 L272.37,364.6 L273.88,364.6 L275.39,364.6 L276.9,364.6 L278.42,364.6 L279.93,364.6 L281.44,364.6 L282.95,364.6 L284.46,364.6 L285.98,364.6 L287.49,364.6 L289,364.6" fill="none" stroke="#f040f0" stroke-width="0.9" stroke-opacity="1.0" stroke-linejoin="round" />
<path d="M62.2,362.14 L62.96,361 L63.71,359.86 L64.47,358.72 L65.22,357.58 L65.98,357.58 L66.74,357.58 L68.25,357.58 L69.76,357.58 L71.27,357.58 L72.78,357.58 L74.3,357.58 L75.81,357.58 L77.32,357.58 L78.83,357.58 L80.34,357.58 L81.86,357.58 L83.37,357.1 L84.88,356.53 L86.39,355.88 L87.9,355.16 L89.42,354.38 L90.93,353.54 L92.44,352.66 L93.95,351.75 L95.46,350.81 L96.98,349.86 L98.49,348.91 L100,347.96 L101.51,347.02 L103.02,346.11 L104.54,345.23 L106.05,344.4 L107.56,343.61 L109.07,342.89 L110.58,342.24 L112.1,341.6 L113.61,340.97 L115.12,340.82 L116.63,340.67 L118.14,340.52 L119.66,340.37 L121.17,340.22 L122.68,340.07 L124.19,339.92 L125.7,339.77 L127.22,339.62 L128.73,339.47 L130.24,339.31 L131.75,339.16 L133.26,339 L134.78,338.84 L136.29,338.67 L137.8,338.49 L139.31,338.3 L140.82,338.09 L142.34,337.85 L143.85,337.59 L145.36,337.27 L146.87,336.9 L148.38,336.45 L149.9,335.9 L151.41,335.22 L152.92,334.4 L154.43,333.39 L155.94,332.17 L157.46,330.69 L158.97,328.92 L160.48,326.84 L161.99,324.4 L163.5,321.59 L165.02,318.39 L166.53,314.82 L168.04,310.88 L169.55,306.61 L171.06,302.07 L172.58,297.34 L174.09,292.5 L175.6,287.68 L177.11,282.99 L178.62,278.58 L180.14,274.58 L181.65,271.13 L183.16,268.38 L184.67,266.43 L186.18,265.4 L187.7,265.38 L189.21,266.67 L190.72,269.53 L192.23,273.91 L193.74,279.69 L195.26,286.69 L196.77,294.61 L198.28,303.12 L199.79,311.81 L201.3,320.28 L202.82,328.18 L204.33,335.27 L205.84,341.43 L207.35,346.62 L208.86,350.88 L210.38,354.31 L211.89,357 L213.4,359.08 L214.91,360.65 L216.42,361.82 L217.94,362.68 L219.45,363.29 L220.96,363.72 L222.47,364.02 L223.98,364.22 L225.5,364.35 L227.01,364.44 L228.52,364.5 L230.03,364.54 L231.54,364.56 L233.06,364.57 L234.57,364.58 L236.08,364.59 L237.59,364.59 L239.1,364.59 L240.62,364.59 L242.13,364.59 L243.64,364.6 L245.15,364.6 L246.66,364.6 L248.18,364.6 L249.69,364.6 L251.2,364.6 L252.71,364.6 L254.22,364.6 L255.74,364.6 L257.25,364.6 L258.76,364.6 L260.27,364.6 L261.78,364.6 L263.3,364.6 L264.81,364.6 L266.32,364.6 L267.83,364.6 L269.34,364.6 L270.86,364.6 L272.37,364.6 L273.88,364.6 L275.39,364.6 L276.9,364.6 L278.42,364.6 L279.93,364.6 L281.44,364.6 L282.95,364.6 L284.46,364.6 L285.98,364.6 L287.49,364.6 L289,364.6" fill="none" stroke="#c030c0" stroke-width="0.9" stroke-opacity="1.0" stroke-linejoin="round" />
<path d="M62.2,363.78 L62.96,363.4 L63.71,363.02 L64.47,362.64 L65.22,362.26 L65.98,362.26 L66.74,362.26 L68.25,362.26 L69.76,362.26 L71.27,362.26 L72.78,362.26 L74.3,362.26 L75.81,362.26 L77.32,362.26 L78.83,362.26 L80.34,362.26 L81.86,362.26 L83.37,361.72 L84.88,361.09 L86.39,360.37 L87.9,359.56 L89.42,358.69 L90.93,357.76 L92.44,356.78 L93.95,355.76 L95.46,354.72 L96.98,353.66 L98.49,352.6 L100,351.54 L101.51,350.5 L103.02,349.48 L104.54,348.5 L106.05,347.57 L107.56,346.7 L109.07,345.89 L110.58,345.17 L112.1,344.46 L113.61,343.78 L115.12,343.63 L116.63,343.48 L118.14,343.33 L119.66,343.18 L121.17,343.03 L122.68,342.88 L124.19,342.73 L125.7,342.58 L127.22,342.43 L128.73,342.28 L130.24,342.13 L131.75,341.98 L133.26,341.83 L134.78,341.68 L136.29,341.53 L137.8,341.38 L139.31,341.22 L140.82,341.07 L142.34,340.91 L143.85,340.74 L145.36,340.58 L146.87,340.4 L148.38,340.21 L149.9,340.01 L151.41,339.79 L152.92,339.55 L154.43,339.27 L155.94,338.95 L157.46,338.58 L158.97,338.14 L160.48,337.61 L161.99,336.99 L163.5,336.25 L165.02,335.37 L166.53,334.32 L168.04,333.08 L169.55,331.62 L171.06,329.92 L172.58,327.97 L174.09,325.73 L175.6,323.2 L177.11,320.38 L178.62,317.26 L180.14,313.86 L181.65,310.21 L183.16,306.34 L184.67,302.3 L186.18,298.15 L187.7,293.98 L189.21,289.85 L190.72,285.86 L192.23,282.11 L193.74,278.69 L195.26,275.71 L196.77,273.26 L198.28,271.42 L199.79,270.29 L201.3,269.93 L202.82,270.46 L204.33,272.21 L205.84,275.24 L207.35,279.51 L208.86,284.95 L210.38,291.38 L211.89,298.57 L213.4,306.22 L214.91,313.97 L216.42,321.51 L217.94,328.54 L219.45,334.91 L220.96,340.5 L222.47,345.31 L223.98,349.37 L225.5,352.73 L227.01,355.47 L228.52,357.67 L230.03,359.41 L231.54,360.76 L233.06,361.81 L234.57,362.59 L236.08,363.18 L237.59,363.6 L239.1,363.91 L240.62,364.13 L242.13,364.29 L243.64,364.39 L245.15,364.46 L246.66,364.51 L248.18,364.54 L249.69,364.56 L251.2,364.57 L252.71,364.58 L254.22,364.59 L255.74,364.59 L257.25,364.59 L258.76,364.59 L260.27,364.59 L261.78,364.6 L263.3,364.6 L264.81,364.6 L266.32,364.6 L267.83,364.6 L269.34,364.6 L270.86,364.6 L272.37,364.6 L273.88,364.6 L275.39,364.6 L276.9,364.6 L278.42,364.6 L279.93,364.6 L281.44,364.6 L282.95,364.6 L284.46,364.6 L285.98,364.6 L287.49,364.6 L289,364.6" fill="none" stroke="#f0a040" stroke-width="0.9" stroke-opacity="1.0" stroke-linejoin="round" />
<path d="M62.2,362.63 L62.96,361.72 L63.71,360.81 L64.47,359.89 L65.22,358.98 L65.98,358.98 L66.74,358.98 L68.25,358.98 L69.76,358.98 L71.27,358.98 L72.78,358.98 L74.3,358.98 L75.81,358.98 L77.32,358.98 L78.83,358.98 L80.34,358.98 L81.86,358.98 L83.37,358.46 L84.88,357.84 L86.39,357.14 L87.9,356.36 L89.42,355.51 L90.93,354.6 L92.44,353.64 L93.95,352.65 L95.46,351.64 L96.98,350.61 L98.49,349.57 L100,348.54 L101.51,347.52 L103.02,346.53 L104.54,345.58 L106.05,344.67 L107.56,343.82 L109.07,343.04 L110.58,342.33 L112.1,341.64 L113.61,340.97 L115.12,340.82 L116.63,340.67 L118.14,340.52 L119.66,340.37 L121.17,340.22 L122.68,340.07 L124.19,339.92 L125.7,339.77 L127.22,339.62 L128.73,339.47 L130.24,339.32 L131.75,339.16 L133.26,339.01 L134.78,338.85 L136.29,338.68 L137.8,338.51 L139.31,338.33 L140.82,338.14 L142.34,337.92 L143.85,337.68 L145.36,337.4 L146.87,337.07 L148.38,336.67 L149.9,336.19 L151.41,335.6 L152.92,334.88 L154.43,333.99 L155.94,332.9 L157.46,331.57 L158.97,329.96 L160.48,328.03 L161.99,325.76 L163.5,323.09 L165.02,320.02 L166.53,316.53 L168.04,312.62 L169.55,308.31 L171.06,303.64 L172.58,298.67 L174.09,293.48 L175.6,288.18 L177.11,282.9 L178.62,277.76 L180.14,272.92 L181.65,268.53 L183.16,264.75 L184.67,261.72 L186.18,259.57 L187.7,258.42 L189.21,258.36 L190.72,259.72 L192.23,262.77 L193.74,267.46 L195.26,273.67 L196.77,281.16 L198.28,289.63 L199.79,298.72 L201.3,308 L202.82,317.04 L204.33,325.48 L205.84,333.06 L207.35,339.65 L208.86,345.22 L210.38,349.8 L211.89,353.49 L213.4,356.39 L214.91,358.64 L216.42,360.34 L217.94,361.6 L219.45,362.52 L220.96,363.18 L222.47,363.65 L223.98,363.97 L225.5,364.19 L227.01,364.33 L228.52,364.43 L230.03,364.49 L231.54,364.53 L233.06,364.56 L234.57,364.57 L236.08,364.58 L237.59,364.59 L239.1,364.59 L240.62,364.59 L242.13,364.59 L243.64,364.59 L245.15,364.6 L246.66,364.6 L248.18,364.6 L249.69,364.6 L251.2,364.6 L252.71,364.6 L254.22,364.6 L255.74,364.6 L257.25,364.6 L258.76,364.6 L260.27,364.6 L261.78,364.6 L263.3,364.6 L264.81,364.6 L266.32,364.6 L267.83,364.6 L269.34,364.6 L270.86,364.6 L272.37,364.6 L273.88,364.6 L275.39,364.6 L276.9,364.6 L278.42,364.6 L279.93,364.6 L281.44,364.6 L282.95,364.6 L284.46,364.6 L285.98,364.6 L287.49,364.6 L289,364.6" fill="none" stroke="#d02060" stroke-width="0.8" stroke-opacity="1.0" stroke-linejoin="round" />
<path d="M62.2,362.96 L62.96,362.2 L63.71,361.44 L64.47,360.68 L65.22,359.92 L65.98,359.92 L66.74,359.92 L68.25,359.92 L69.76,359.92 L71.27,359.92 L72.78,359.92 L74.3,359.92 L75.81,359.92 L77.32,359.92 L78.83,359.92 L80.34,359.92 L81.86,359.92 L83.37,359.37 L84.88,358.72 L86.39,357.98 L87.9,357.15 L89.42,356.26 L90.93,355.3 L92.44,354.3 L93.95,353.26 L95.46,352.19 L96.98,351.1 L98.49,350.01 L100,348.92 L101.51,347.85 L103.02,346.81 L104.54,345.81 L106.05,344.85 L107.56,343.96 L109.07,343.13 L110.58,342.39 L112.1,341.67 L113.61,340.97 L115.12,340.82 L116.63,340.67 L118.14,340.52 L119.66,340.37 L121.17,340.22 L122.68,340.07 L124.19,339.92 L125.7,339.77 L127.22,339.62 L128.73,339.47 L130.24,339.31 L131.75,339.16 L133.26,339 L134.78,338.84 L136.29,338.67 L137.8,338.49 L139.31,338.3 L140.82,338.09 L142.34,337.85 L143.85,337.58 L145.36,337.26 L146.87,336.88 L148.38,336.42 L149.9,335.87 L151.41,335.18 L152.92,334.35 L154.43,333.32 L155.94,332.08 L157.46,330.57 L158.97,328.77 L160.48,326.65 L161.99,324.16 L163.5,321.3 L165.02,318.04 L166.53,314.4 L168.04,310.39 L169.55,306.04 L171.06,301.41 L172.58,296.58 L174.09,291.65 L175.6,286.73 L177.11,281.95 L178.62,277.45 L180.14,273.37 L181.65,269.86 L183.16,267.05 L184.67,265.06 L186.18,264.01 L187.7,263.98 L189.21,265.28 L190.72,268.17 L192.23,272.62 L193.74,278.48 L195.26,285.58 L196.77,293.62 L198.28,302.24 L199.79,311.05 L201.3,319.63 L202.82,327.63 L204.33,334.83 L205.84,341.07 L207.35,346.34 L208.86,350.66 L210.38,354.14 L211.89,356.88 L213.4,358.99 L214.91,360.59 L216.42,361.78 L217.94,362.65 L219.45,363.27 L220.96,363.7 L222.47,364.01 L223.98,364.21 L225.5,364.35 L227.01,364.44 L228.52,364.5 L230.03,364.53 L231.54,364.56 L233.06,364.57 L234.57,364.58 L236.08,364.59 L237.59,364.59 L239.1,364.59 L240.62,364.59 L242.13,364.59 L243.64,364.6 L245.15,364.6 L246.66,364.6 L248.18,364.6 L249.69,364.6 L251.2,364.6 L252.71,364.6 L254.22,364.6 L255.74,364.6 L257.25,364.6 L258.76,364.6 L260.27,364.6 L261.78,364.6 L263.3,364.6 L264.81,364.6 L266.32,364.6 L267.83,364.6 L269.34,364.6 L270.86,364.6 L272.37,364.6 L273.88,364.6 L275.39,364.6 L276.9,364.6 L278.42,364.6 L279.93,364.6 L281.44,364.6 L282.95,364.6 L284.46,364.6 L285.98,364.6 L287.49,364.6 L289,364.6" fill="none" stroke="#802080" stroke-width="0.8" stroke-opacity="1.0" stroke-linejoin="round" />
<path d="M62.2,362.3 L62.96,361.24 L63.71,360.17 L64.47,359.11 L65.22,358.04 L65.98,358.04 L66.74,358.04 L68.25,358.04 L69.76,358.04 L71.27,358.04 L72.78,358.04 L74.3,358.04 L75.81,358.04 L77.32,358.04 L78.83,358.04 L80.34,358.04 L81.86,358.04 L83.37,357.55 L84.88,356.97 L86.39,356.3 L87.9,355.56 L89.42,354.75 L90.93,353.89 L92.44,352.99 L93.95,352.05 L95.46,351.09 L96.98,350.11 L98.49,349.13 L100,348.15 L101.51,347.19 L103.02,346.25 L104.54,345.35 L106.05,344.49 L107.56,343.68 L109.07,342.94 L110.58,342.27 L112.1,341.61 L113.61,340.97 L115.12,340.82 L116.63,340.67 L118.14,340.52 L119.66,340.37 L121.17,340.22 L122.68,340.07 L124.19,339.92 L125.7,339.77 L127.22,339.62 L128.73,339.47 L130.24,339.32 L131.75,339.17 L133.26,339.03 L134.78,338.88 L136.29,338.73 L137.8,338.58 L139.31,338.43 L140.82,338.28 L142.34,338.13 L143.85,337.98 L145.36,337.83 L146.87,337.68 L148.38,337.54 L149.9,337.39 L151.41,337.24 L152.92,337.09 L154.43,336.95 L155.94,336.8 L157.46,336.65 L158.97,336.49 L160.48,336.33 L161.99,336.16 L163.5,335.96 L165.02,335.74 L166.53,335.46 L168.04,335.12 L169.55,334.69 L171.06,334.14 L172.58,333.44 L174.09,332.58 L175.6,331.52 L177.11,330.27 L178.62,328.84 L180.14,327.27 L181.65,325.63 L183.16,323.99 L184.67,322.46 L186.18,321.17 L187.7,320.23 L189.21,319.74 L190.72,319.77 L192.23,320.34 L193.74,321.43 L195.26,322.94 L196.77,324.73 L198.28,326.59 L199.79,328.28 L201.3,329.53 L202.82,330.06 L204.33,329.61 L205.84,327.94 L207.35,324.87 L208.86,320.32 L210.38,314.29 L211.89,306.88 L213.4,298.34 L214.91,289 L216.42,279.31 L217.94,269.8 L219.45,261.03 L220.96,253.55 L222.47,247.87 L223.98,244.39 L225.5,243.37 L227.01,245.26 L228.52,250.28 L230.03,258.05 L231.54,267.98 L233.06,279.37 L234.57,291.47 L236.08,303.56 L237.59,315.04 L239.1,325.46 L240.62,334.53 L242.13,342.13 L243.64,348.26 L245.15,353.05 L246.66,356.65 L248.18,359.28 L249.69,361.13 L251.2,362.4 L252.71,363.24 L254.22,363.78 L255.74,364.12 L257.25,364.32 L258.76,364.44 L260.27,364.51 L261.78,364.55 L263.3,364.57 L264.81,364.58 L266.32,364.59 L267.83,364.59 L269.34,364.59 L270.86,364.59 L272.37,364.59 L273.88,364.59 L275.39,364.6 L276.9,364.6 L278.42,364.6 L279.93,364.6 L281.44,364.6 L282.95,364.6 L284.46,364.6 L285.98,364.6 L287.49,364.6 L289,364.6" fill="none" stroke="#333333" stroke-width="0.8" stroke-opacity="1.0" stroke-linejoin="round" />
<path d="M62.2,361.98 L62.96,360.76 L63.71,359.54 L64.47,358.32 L65.22,357.11 L65.98,357.11 L66.74,357.11 L68.25,357.11 L69.76,357.11 L71.27,357.11 L72.78,357.11 L74.3,357.11 L75.81,357.11 L77.32,357.11 L78.83,357.11 L80.34,357.11 L81.86,357.11 L83.37,356.64 L84.88,356.09 L86.39,355.46 L87.9,354.76 L89.42,354 L90.93,353.19 L92.44,352.33 L93.95,351.45 L95.46,350.54 L96.98,349.62 L98.49,348.69 L100,347.76 L101.51,346.86 L103.02,345.97 L104.54,345.12 L106.05,344.3 L107.56,343.54 L109.07,342.84 L110.58,342.21 L112.1,341.59 L113.61,340.97 L115.12,340.82 L116.63,340.67 L118.14,340.52 L119.66,340.37 L121.17,340.22 L122.68,340.07 L124.19,339.92 L125.7,339.77 L127.22,339.62 L128.73,339.47 L130.24,339.32 L131.75,339.17 L133.26,339.02 L134.78,338.87 L136.29,338.73 L137.8,338.58 L139.31,338.43 L140.82,338.28 L142.34,338.13 L143.85,337.98 L145.36,337.83 L146.87,337.68 L148.38,337.53 L149.9,337.38 L151.41,337.23 L152.92,337.08 L154.43,336.93 L155.94,336.78 L157.46,336.63 L158.97,336.48 L160.48,336.33 L161.99,336.18 L163.5,336.02 L165.02,335.87 L166.53,335.71 L168.04,335.55 L169.55,335.38 L171.06,335.2 L172.58,335.02 L174.09,334.82 L175.6,334.6 L177.11,334.36 L178.62,334.1 L180.14,333.8 L181.65,333.46 L183.16,333.07 L184.67,332.63 L186.18,332.12 L187.7,331.52 L189.21,330.81 L190.72,329.98 L192.23,328.98 L193.74,327.79 L195.26,326.36 L196.77,324.63 L198.28,322.55 L199.79,320.07 L201.3,317.14 L202.82,313.72 L204.33,309.78 L205.84,305.35 L207.35,300.47 L208.86,295.23 L210.38,289.76 L211.89,284.24 L213.4,278.9 L214.91,273.98 L216.42,269.73 L217.94,266.41 L219.45,264.22 L220.96,263.35 L222.47,263.9 L223.98,265.97 L225.5,269.84 L227.01,275.42 L228.52,282.42 L230.03,290.46 L231.54,299.13 L233.06,308.02 L234.57,316.75 L236.08,325 L237.59,332.52 L239.1,339.16 L240.62,344.84 L242.13,349.56 L243.64,353.38 L245.15,356.38 L246.66,358.68 L248.18,360.4 L249.69,361.67 L251.2,362.57 L252.71,363.2 L254.22,363.64 L255.74,363.94 L257.25,364.14 L258.76,364.27 L260.27,364.36 L261.78,364.43 L263.3,364.47 L264.81,364.5 L266.32,364.52 L267.83,364.54 L269.34,364.55 L270.86,364.56 L272.37,364.57 L273.88,364.57 L275.39,364.58 L276.9,364.58 L278.42,364.58 L279.93,364.59 L281.44,364.59 L282.95,364.59 L284.46,364.59 L285.98,364.59 L287.49,364.59 L289,364.59" fill="none" stroke="#3a9a3a" stroke-width="0.8" stroke-opacity="1.0" stroke-linejoin="round" />
<path d="M62.2,361.65 L62.96,360.28 L63.71,358.91 L64.47,357.54 L65.22,356.17 L65.98,356.17 L66.74,356.17 L68.25,356.17 L69.76,356.17 L71.27,356.17 L72.78,356.17 L74.3,356.17 L75.81,356.17 L77.32,356.17 L78.83,356.17 L80.34,356.17 L81.86,356.17 L83.37,355.74 L84.88,355.22 L86.39,354.62 L87.9,353.96 L89.42,353.25 L90.93,352.48 L92.44,351.68 L93.95,350.85 L95.46,349.99 L96.98,349.12 L98.49,348.25 L100,347.38 L101.51,346.52 L103.02,345.69 L104.54,344.89 L106.05,344.12 L107.56,343.41 L109.07,342.75 L110.58,342.15 L112.1,341.56 L113.61,340.97 L115.12,340.82 L116.63,340.67 L118.14,340.52 L119.66,340.37 L121.17,340.22 L122.68,340.07 L124.19,339.92 L125.7,339.77 L127.22,339.62 L128.73,339.47 L130.24,339.32 L131.75,339.17 L133.26,339.02 L134.78,338.87 L136.29,338.72 L137.8,338.58 L139.31,338.43 L140.82,338.28 L142.34,338.13 L143.85,337.98 L145.36,337.83 L146.87,337.68 L148.38,337.53 L149.9,337.38 L151.41,337.23 L152.92,337.08 L154.43,336.93 L155.94,336.77 L157.46,336.62 L158.97,336.46 L160.48,336.31 L161.99,336.14 L163.5,335.97 L165.02,335.78 L166.53,335.58 L168.04,335.36 L169.55,335.1 L171.06,334.81 L172.58,334.48 L174.09,334.1 L175.6,333.66 L177.11,333.16 L178.62,332.6 L180.14,331.99 L181.65,331.35 L183.16,330.68 L184.67,330.02 L186.18,329.38 L187.7,328.81 L189.21,328.33 L190.72,327.98 L192.23,327.78 L193.74,327.75 L195.26,327.91 L196.77,328.27 L198.28,328.82 L199.79,329.55 L201.3,330.41 L202.82,331.36 L204.33,332.33 L205.84,333.23 L207.35,333.95 L208.86,334.4 L210.38,334.46 L211.89,334.04 L213.4,333.05 L214.91,331.43 L216.42,329.13 L217.94,326.1 L219.45,322.34 L220.96,317.85 L222.47,312.65 L223.98,306.83 L225.5,300.5 L227.01,293.86 L228.52,287.18 L230.03,280.79 L231.54,275.08 L233.06,270.45 L234.57,267.31 L236.08,265.97 L237.59,266.63 L239.1,269.49 L240.62,275.3 L242.13,283.69 L243.64,293.92 L245.15,305.06 L246.66,316.25 L248.18,326.73 L249.69,335.99 L251.2,343.74 L252.71,349.92 L254.22,354.6 L255.74,358.01 L257.25,360.38 L258.76,361.97 L260.27,362.99 L261.78,363.63 L263.3,364.02 L264.81,364.25 L266.32,364.38 L267.83,364.46 L269.34,364.51 L270.86,364.54 L272.37,364.56 L273.88,364.57 L275.39,364.58 L276.9,364.58 L278.42,364.59 L279.93,364.59 L281.44,364.59 L282.95,364.59 L284.46,364.59 L285.98,364.59 L287.49,364.59 L289,364.6" fill="none" stroke="#703070" stroke-width="0.8" stroke-opacity="1.0" stroke-linejoin="round" />
<line x1="62.2" y1="321.54" x2="289" y2="321.54" stroke="#108010" stroke-width="1.6" />
<rect x="50.5" y="225.5" width="250" height="143" fill="none" stroke="#222" stroke-width="1"/>
<line x1="47.5" y1="366" x2="54" y2="366" stroke="#111" stroke-width="0.9" />
<line x1="49" y1="360.15" x2="52.5" y2="360.15" stroke="#111" stroke-width="0.9" />
<line x1="49" y1="354.3" x2="52.5" y2="354.3" stroke="#111" stroke-width="0.9" />
<line x1="49" y1="348.45" x2="52.5" y2="348.45" stroke="#111" stroke-width="0.9" />
<line x1="47.5" y1="342.6" x2="54" y2="342.6" stroke="#111" stroke-width="0.9" />
<line x1="49" y1="336.75" x2="52.5" y2="336.75" stroke="#111" stroke-width="0.9" />
<line x1="49" y1="330.9" x2="52.5" y2="330.9" stroke="#111" stroke-width="0.9" />
<line x1="49" y1="325.05" x2="52.5" y2="325.05" stroke="#111" stroke-width="0.9" />
<line x1="47.5" y1="319.2" x2="54" y2="319.2" stroke="#111" stroke-width="0.9" />
<line x1="49" y1="313.35" x2="52.5" y2="313.35" stroke="#111" stroke-width="0.9" />
<line x1="49" y1="307.5" x2="52.5" y2="307.5" stroke="#111" stroke-width="0.9" />
<line x1="49" y1="301.65" x2="52.5" y2="301.65" stroke="#111" stroke-width="0.9" />
<line x1="47.5" y1="295.8" x2="54" y2="295.8" stroke="#111" stroke-width="0.9" />
<line x1="49" y1="289.95" x2="52.5" y2="289.95" stroke="#111" stroke-width="0.9" />
<line x1="49" y1="284.1" x2="52.5" y2="284.1" stroke="#111" stroke-width="0.9" />
<line x1="49" y1="278.25" x2="52.5" y2="278.25" stroke="#111" stroke-width="0.9" />
<line x1="47.5" y1="272.4" x2="54" y2="272.4" stroke="#111" stroke-width="0.9" />
<line x1="49" y1="266.55" x2="52.5" y2="266.55" stroke="#111" stroke-width="0.9" />
<line x1="49" y1="260.7" x2="52.5" y2="260.7" stroke="#111" stroke-width="0.9" />
<line x1="49" y1="254.85" x2="52.5" y2="254.85" stroke="#111" stroke-width="0.9" />
<line x1="47.5" y1="249" x2="54" y2="249" stroke="#111" stroke-width="0.9" />
<line x1="49" y1="243.15" x2="52.5" y2="243.15" stroke="#111" stroke-width="0.9" />
<line x1="49" y1="237.3" x2="52.5" y2="237.3" stroke="#111" stroke-width="0.9" />
<line x1="49" y1="231.45" x2="52.5" y2="231.45" stroke="#111" stroke-width="0.9" />
<line x1="47.5" y1="225.6" x2="54" y2="225.6" stroke="#111" stroke-width="0.9" />
<line x1="54.64" y1="366.5" x2="54.64" y2="370" stroke="#111" stroke-width="0.9" />
<line x1="54.64" y1="225.5" x2="54.64" y2="227.5" stroke="#111" stroke-width="0.7" />
<line x1="62.2" y1="365.5" x2="62.2" y2="371.5" stroke="#111" stroke-width="0.9" />
<line x1="62.2" y1="225.5" x2="62.2" y2="227.5" stroke="#111" stroke-width="0.7" />
<line x1="69.76" y1="366.5" x2="69.76" y2="370" stroke="#111" stroke-width="0.9" />
<line x1="69.76" y1="225.5" x2="69.76" y2="227.5" stroke="#111" stroke-width="0.7" />
<line x1="77.32" y1="366.5" x2="77.32" y2="370" stroke="#111" stroke-width="0.9" />
<line x1="77.32" y1="225.5" x2="77.32" y2="227.5" stroke="#111" stroke-width="0.7" />
<line x1="84.88" y1="366.5" x2="84.88" y2="370" stroke="#111" stroke-width="0.9" />
<line x1="84.88" y1="225.5" x2="84.88" y2="227.5" stroke="#111" stroke-width="0.7" />
<line x1="92.44" y1="366.5" x2="92.44" y2="370" stroke="#111" stroke-width="0.9" />
<line x1="92.44" y1="225.5" x2="92.44" y2="227.5" stroke="#111" stroke-width="0.7" />
<line x1="100" y1="365.5" x2="100" y2="371.5" stroke="#111" stroke-width="0.9" />
<line x1="100" y1="225.5" x2="100" y2="227.5" stroke="#111" stroke-width="0.7" />
<line x1="107.56" y1="366.5" x2="107.56" y2="370" stroke="#111" stroke-width="0.9" />
<line x1="107.56" y1="225.5" x2="107.56" y2="227.5" stroke="#111" stroke-width="0.7" />
<line x1="115.12" y1="366.5" x2="115.12" y2="370" stroke="#111" stroke-width="0.9" />
<line x1="115.12" y1="225.5" x2="115.12" y2="227.5" stroke="#111" stroke-width="0.7" />
<line x1="122.68" y1="366.5" x2="122.68" y2="370" stroke="#111" stroke-width="0.9" />
<line x1="122.68" y1="225.5" x2="122.68" y2="227.5" stroke="#111" stroke-width="0.7" />
<line x1="130.24" y1="366.5" x2="130.24" y2="370" stroke="#111" stroke-width="0.9" />
<line x1="130.24" y1="225.5" x2="130.24" y2="227.5" stroke="#111" stroke-width="0.7" />
<line x1="137.8" y1="365.5" x2="137.8" y2="371.5" stroke="#111" stroke-width="0.9" />
<line x1="137.8" y1="225.5" x2="137.8" y2="227.5" stroke="#111" stroke-width="0.7" />
<line x1="145.36" y1="366.5" x2="145.36" y2="370" stroke="#111" stroke-width="0.9" />
<line x1="145.36" y1="225.5" x2="145.36" y2="227.5" stroke="#111" stroke-width="0.7" />
<line x1="152.92" y1="366.5" x2="152.92" y2="370" stroke="#111" stroke-width="0.9" />
<line x1="152.92" y1="225.5" x2="152.92" y2="227.5" stroke="#111" stroke-width="0.7" />
<line x1="160.48" y1="366.5" x2="160.48" y2="370" stroke="#111" stroke-width="0.9" />
<line x1="160.48" y1="225.5" x2="160.48" y2="227.5" stroke="#111" stroke-width="0.7" />
<line x1="168.04" y1="366.5" x2="168.04" y2="370" stroke="#111" stroke-width="0.9" />
<line x1="168.04" y1="225.5" x2="168.04" y2="227.5" stroke="#111" stroke-width="0.7" />
<line x1="175.6" y1="365.5" x2="175.6" y2="371.5" stroke="#111" stroke-width="0.9" />
<line x1="175.6" y1="225.5" x2="175.6" y2="227.5" stroke="#111" stroke-width="0.7" />
<line x1="183.16" y1="366.5" x2="183.16" y2="370" stroke="#111" stroke-width="0.9" />
<line x1="183.16" y1="225.5" x2="183.16" y2="227.5" stroke="#111" stroke-width="0.7" />
<line x1="190.72" y1="366.5" x2="190.72" y2="370" stroke="#111" stroke-width="0.9" />
<line x1="190.72" y1="225.5" x2="190.72" y2="227.5" stroke="#111" stroke-width="0.7" />
<line x1="198.28" y1="366.5" x2="198.28" y2="370" stroke="#111" stroke-width="0.9" />
<line x1="198.28" y1="225.5" x2="198.28" y2="227.5" stroke="#111" stroke-width="0.7" />
<line x1="205.84" y1="366.5" x2="205.84" y2="370" stroke="#111" stroke-width="0.9" />
<line x1="205.84" y1="225.5" x2="205.84" y2="227.5" stroke="#111" stroke-width="0.7" />
<line x1="213.4" y1="365.5" x2="213.4" y2="371.5" stroke="#111" stroke-width="0.9" />
<line x1="213.4" y1="225.5" x2="213.4" y2="227.5" stroke="#111" stroke-width="0.7" />
<line x1="220.96" y1="366.5" x2="220.96" y2="370" stroke="#111" stroke-width="0.9" />
<line x1="220.96" y1="225.5" x2="220.96" y2="227.5" stroke="#111" stroke-width="0.7" />
<line x1="228.52" y1="366.5" x2="228.52" y2="370" stroke="#111" stroke-width="0.9" />
<line x1="228.52" y1="225.5" x2="228.52" y2="227.5" stroke="#111" stroke-width="0.7" />
<line x1="236.08" y1="366.5" x2="236.08" y2="370" stroke="#111" stroke-width="0.9" />
<line x1="236.08" y1="225.5" x2="236.08" y2="227.5" stroke="#111" stroke-width="0.7" />
<line x1="243.64" y1="366.5" x2="243.64" y2="370" stroke="#111" stroke-width="0.9" />
<line x1="243.64" y1="225.5" x2="243.64" y2="227.5" stroke="#111" stroke-width="0.7" />
<line x1="251.2" y1="365.5" x2="251.2" y2="371.5" stroke="#111" stroke-width="0.9" />
<line x1="251.2" y1="225.5" x2="251.2" y2="227.5" stroke="#111" stroke-width="0.7" />
<line x1="258.76" y1="366.5" x2="258.76" y2="370" stroke="#111" stroke-width="0.9" />
<line x1="258.76" y1="225.5" x2="258.76" y2="227.5" stroke="#111" stroke-width="0.7" />
<line x1="266.32" y1="366.5" x2="266.32" y2="370" stroke="#111" stroke-width="0.9" />
<line x1="266.32" y1="225.5" x2="266.32" y2="227.5" stroke="#111" stroke-width="0.7" />
<line x1="273.88" y1="366.5" x2="273.88" y2="370" stroke="#111" stroke-width="0.9" />
<line x1="273.88" y1="225.5" x2="273.88" y2="227.5" stroke="#111" stroke-width="0.7" />
<line x1="281.44" y1="366.5" x2="281.44" y2="370" stroke="#111" stroke-width="0.9" />
<line x1="281.44" y1="225.5" x2="281.44" y2="227.5" stroke="#111" stroke-width="0.7" />
<line x1="289" y1="365.5" x2="289" y2="371.5" stroke="#111" stroke-width="0.9" />
<line x1="289" y1="225.5" x2="289" y2="227.5" stroke="#111" stroke-width="0.7" />
<line x1="296.56" y1="366.5" x2="296.56" y2="370" stroke="#111" stroke-width="0.9" />
<line x1="296.56" y1="225.5" x2="296.56" y2="227.5" stroke="#111" stroke-width="0.7" />
<text x="44" y="368.52" font-family="Liberation Sans" font-size="7" font-weight="normal" font-style="normal" text-anchor="end" fill="#333" >0</text>
<text x="44" y="345.12" font-family="Liberation Sans" font-size="7" font-weight="normal" font-style="normal" text-anchor="end" fill="#333" >50</text>
<text x="44" y="321.72" font-family="Liberation Sans" font-size="7" font-weight="normal" font-style="normal" text-anchor="end" fill="#333" >100</text>
<text x="44" y="298.32" font-family="Liberation Sans" font-size="7" font-weight="normal" font-style="normal" text-anchor="end" fill="#333" >150</text>
<text x="44" y="274.92" font-family="Liberation Sans" font-size="7" font-weight="normal" font-style="normal" text-anchor="end" fill="#333" >200</text>
<text x="44" y="251.52" font-family="Liberation Sans" font-size="7" font-weight="normal" font-style="normal" text-anchor="end" fill="#333" >250</text>
<text x="44" y="228.12" font-family="Liberation Sans" font-size="7" font-weight="normal" font-style="normal" text-anchor="end" fill="#333" >300</text>
<text x="62.2" y="379.5" font-family="Liberation Sans" font-size="7" font-weight="normal" font-style="normal" text-anchor="middle" fill="#333" >65</text>
<text x="100" y="379.5" font-family="Liberation Sans" font-size="7" font-weight="normal" font-style="normal" text-anchor="middle" fill="#333" >70</text>
<text x="137.8" y="379.5" font-family="Liberation Sans" font-size="7" font-weight="normal" font-style="normal" text-anchor="middle" fill="#333" >75</text>
<text x="175.6" y="379.5" font-family="Liberation Sans" font-size="7" font-weight="normal" font-style="normal" text-anchor="middle" fill="#333" >80</text>
<text x="213.4" y="379.5" font-family="Liberation Sans" font-size="7" font-weight="normal" font-style="normal" text-anchor="middle" fill="#333" >85</text>
<text x="251.2" y="379.5" font-family="Liberation Sans" font-size="7" font-weight="normal" font-style="normal" text-anchor="middle" fill="#333" >90</text>
<text x="289" y="379.5" font-family="Liberation Sans" font-size="7" font-weight="normal" font-style="normal" text-anchor="middle" fill="#333" >95</text>
<text x="162.3" y="220" font-family="Liberation Sans" font-size="6.6" font-weight="bold" font-style="normal" text-anchor="middle" fill="#223" >Melt Peak</text>
<text x="24.3" y="298" font-family="Liberation Sans" font-size="7" font-weight="bold" font-style="normal" text-anchor="middle" fill="#222" transform="rotate(-90 24.3 298)" >-d(RFU)/dT</text>
<text x="175.6" y="391" font-family="Liberation Sans" font-size="6.9" font-weight="bold" font-style="normal" text-anchor="middle" fill="#334" >Temperature, Celsius</text>
<text x="3" y="217" font-family="Liberation Sans" font-size="17.8" font-weight="bold" font-style="normal" text-anchor="start" fill="#000" >b</text>
<line x1="390.5" y1="343.3" x2="679.5" y2="343.3" stroke="#555" stroke-width="0.6" stroke-dasharray="1,3.2"/>
<line x1="390.5" y1="321.97" x2="679.5" y2="321.97" stroke="#555" stroke-width="0.6" stroke-dasharray="1,3.2"/>
<line x1="390.5" y1="300.63" x2="679.5" y2="300.63" stroke="#555" stroke-width="0.6" stroke-dasharray="1,3.2"/>
<line x1="390.5" y1="279.3" x2="679.5" y2="279.3" stroke="#555" stroke-width="0.6" stroke-dasharray="1,3.2"/>
<line x1="390.5" y1="257.96" x2="679.5" y2="257.96" stroke="#555" stroke-width="0.6" stroke-dasharray="1,3.2"/>
<line x1="390.5" y1="236.62" x2="679.5" y2="236.62" stroke="#555" stroke-width="0.6" stroke-dasharray="1,3.2"/>
<line x1="390.5" y1="215.29" x2="679.5" y2="215.29" stroke="#555" stroke-width="0.6" stroke-dasharray="1,3.2"/>
<line x1="404.2" y1="210.5" x2="404.2" y2="346.5" stroke="#555" stroke-width="0.6" stroke-dasharray="1,3.2"/>
<line x1="447.8" y1="210.5" x2="447.8" y2="346.5" stroke="#555" stroke-width="0.6" stroke-dasharray="1,3.2"/>
<line x1="491.4" y1="210.5" x2="491.4" y2="346.5" stroke="#555" stroke-width="0.6" stroke-dasharray="1,3.2"/>
<line x1="535" y1="210.5" x2="535" y2="346.5" stroke="#555" stroke-width="0.6" stroke-dasharray="1,3.2"/>
<line x1="578.6" y1="210.5" x2="578.6" y2="346.5" stroke="#555" stroke-width="0.6" stroke-dasharray="1,3.2"/>
<line x1="622.2" y1="210.5" x2="622.2" y2="346.5" stroke="#555" stroke-width="0.6" stroke-dasharray="1,3.2"/>
<line x1="665.8" y1="210.5" x2="665.8" y2="346.5" stroke="#555" stroke-width="0.6" stroke-dasharray="1,3.2"/>
<path d="M404.2,339.93 L405.07,338.96 L405.94,337.99 L406.82,337.02 L407.69,336.05 L408.56,336.05 L409.43,336.05 L411.18,336.05 L412.92,336.05 L414.66,336.05 L416.41,336.05 L418.15,336.05 L419.9,336.05 L421.64,336.05 L423.38,336.05 L425.13,336.05 L426.87,336.05 L428.62,335.64 L430.36,335.15 L432.1,334.59 L433.85,333.97 L435.59,333.3 L437.34,332.58 L439.08,331.82 L440.82,331.04 L442.57,330.23 L444.31,329.42 L446.06,328.6 L447.8,327.78 L449.54,326.97 L451.29,326.19 L453.03,325.43 L454.78,324.72 L456.52,324.04 L458.26,323.42 L460.01,322.86 L461.75,322.3 L463.5,321.72 L465.24,321.56 L466.98,321.4 L468.73,321.24 L470.47,321.07 L472.22,320.91 L473.96,320.75 L475.7,320.59 L477.45,320.42 L479.19,320.26 L480.94,320.1 L482.68,319.94 L484.42,319.78 L486.17,319.61 L487.91,319.45 L489.66,319.29 L491.4,319.13 L493.14,318.97 L494.89,318.8 L496.63,318.64 L498.38,318.48 L500.12,318.31 L501.86,318.14 L503.61,317.97 L505.35,317.79 L507.1,317.59 L508.84,317.37 L510.58,317.12 L512.33,316.8 L514.07,316.4 L515.82,315.87 L517.56,315.16 L519.3,314.21 L521.05,312.91 L522.79,311.18 L524.54,308.89 L526.28,305.94 L528.02,302.19 L529.77,297.56 L531.51,291.98 L533.26,285.43 L535,277.97 L536.74,269.73 L538.49,260.95 L540.23,251.93 L541.98,243.07 L543.72,234.8 L545.46,227.6 L547.21,221.91 L548.95,218.11 L550.7,216.5 L552.44,217.42 L554.18,221.93 L555.93,229.84 L557.67,240.47 L559.42,252.92 L561.16,266.21 L562.9,279.44 L564.65,291.83 L566.39,302.86 L568.14,312.23 L569.88,319.86 L571.62,325.84 L573.37,330.38 L575.11,333.72 L576.86,336.12 L578.6,337.82 L580.34,339.01 L582.09,339.83 L583.83,340.42 L585.58,340.83 L587.32,341.12 L589.06,341.34 L590.81,341.5 L592.55,341.62 L594.3,341.72 L596.04,341.79 L597.78,341.84 L599.53,341.88 L601.27,341.91 L603.02,341.94 L604.76,341.96 L606.5,341.97 L608.25,341.98 L609.99,341.99 L611.74,342 L613.48,342 L615.22,342.01 L616.97,342.01 L618.71,342.01 L620.46,342.01 L622.2,342.02 L623.94,342.02 L625.69,342.02 L627.43,342.02 L629.18,342.02 L630.92,342.02 L632.66,342.02 L634.41,342.02 L636.15,342.02 L637.9,342.02 L639.64,342.02 L641.38,342.02 L643.13,342.02 L644.87,342.02 L646.62,342.02 L648.36,342.02 L650.1,342.02 L651.85,342.02 L653.59,342.02 L655.34,342.02 L657.08,342.02 L658.82,342.02 L660.57,342.02 L662.31,342.02 L664.06,342.02 L665.8,342.02" fill="none" stroke="#8888ff" stroke-width="0.8" stroke-opacity="1.0" stroke-linejoin="round" />
<path d="M404.2,340.23 L405.07,339.4 L405.94,338.56 L406.82,337.73 L407.69,336.9 L408.56,336.9 L409.43,336.9 L411.18,336.9 L412.92,336.9 L414.66,336.9 L416.41,336.9 L418.15,336.9 L419.9,336.9 L421.64,336.9 L423.38,336.9 L425.13,336.9 L426.87,336.9 L428.62,336.48 L430.36,335.97 L432.1,335.4 L433.85,334.76 L435.59,334.07 L437.34,333.33 L439.08,332.55 L440.82,331.74 L442.57,330.91 L444.31,330.07 L446.06,329.22 L447.8,328.38 L449.54,327.55 L451.29,326.74 L453.03,325.97 L454.78,325.23 L456.52,324.53 L458.26,323.89 L460.01,323.32 L461.75,322.74 L463.5,322.15 L465.24,321.99 L466.98,321.82 L468.73,321.66 L470.47,321.5 L472.22,321.34 L473.96,321.18 L475.7,321.01 L477.45,320.85 L479.19,320.69 L480.94,320.53 L482.68,320.36 L484.42,320.2 L486.17,320.04 L487.91,319.88 L489.66,319.72 L491.4,319.55 L493.14,319.39 L494.89,319.23 L496.63,319.07 L498.38,318.9 L500.12,318.74 L501.86,318.57 L503.61,318.39 L505.35,318.2 L507.1,318 L508.84,317.76 L510.58,317.48 L512.33,317.13 L514.07,316.68 L515.82,316.07 L517.56,315.26 L519.3,314.16 L521.05,312.68 L522.79,310.72 L524.54,308.16 L526.28,304.87 L528.02,300.77 L529.77,295.75 L531.51,289.78 L533.26,282.87 L535,275.13 L536.74,266.73 L538.49,257.93 L540.23,249.08 L541.98,240.6 L543.72,232.94 L545.46,226.55 L547.21,221.84 L548.95,219.15 L550.7,218.7 L552.44,221.3 L554.18,227.47 L555.93,236.68 L557.67,248.14 L559.42,260.92 L561.16,274.06 L562.9,286.73 L564.65,298.29 L566.39,308.34 L568.14,316.69 L569.88,323.37 L571.62,328.51 L573.37,332.35 L575.11,335.14 L576.86,337.13 L578.6,338.52 L580.34,339.5 L582.09,340.18 L583.83,340.66 L585.58,341 L587.32,341.25 L589.06,341.44 L590.81,341.57 L592.55,341.68 L594.3,341.76 L596.04,341.82 L597.78,341.86 L599.53,341.9 L601.27,341.93 L603.02,341.95 L604.76,341.97 L606.5,341.98 L608.25,341.99 L609.99,341.99 L611.74,342 L613.48,342.01 L615.22,342.01 L616.97,342.01 L618.71,342.01 L620.46,342.01 L622.2,342.02 L623.94,342.02 L625.69,342.02 L627.43,342.02 L629.18,342.02 L630.92,342.02 L632.66,342.02 L634.41,342.02 L636.15,342.02 L637.9,342.02 L639.64,342.02 L641.38,342.02 L643.13,342.02 L644.87,342.02 L646.62,342.02 L648.36,342.02 L650.1,342.02 L651.85,342.02 L653.59,342.02 L655.34,342.02 L657.08,342.02 L658.82,342.02 L660.57,342.02 L662.31,342.02 L664.06,342.02 L665.8,342.02" fill="none" stroke="#7c7cf0" stroke-width="0.8" stroke-opacity="1.0" stroke-linejoin="round" />
<path d="M404.2,339.63 L405.07,338.52 L405.94,337.41 L406.82,336.3 L407.69,335.19 L408.56,335.19 L409.43,335.19 L411.18,335.19 L412.92,335.19 L414.66,335.19 L416.41,335.19 L418.15,335.19 L419.9,335.19 L421.64,335.19 L423.38,335.19 L425.13,335.19 L426.87,335.19 L428.62,334.79 L430.36,334.32 L432.1,333.78 L433.85,333.18 L435.59,332.53 L437.34,331.83 L439.08,331.1 L440.82,330.34 L442.57,329.56 L444.31,328.76 L446.06,327.97 L447.8,327.18 L449.54,326.39 L451.29,325.63 L453.03,324.9 L454.78,324.21 L456.52,323.55 L458.26,322.95 L460.01,322.41 L461.75,321.85 L463.5,321.28 L465.24,321.11 L466.98,320.94 L468.73,320.77 L470.47,320.6 L472.22,320.43 L473.96,320.26 L475.7,320.09 L477.45,319.92 L479.19,319.75 L480.94,319.58 L482.68,319.4 L484.42,319.23 L486.17,319.06 L487.91,318.89 L489.66,318.72 L491.4,318.55 L493.14,318.38 L494.89,318.21 L496.63,318.04 L498.38,317.86 L500.12,317.69 L501.86,317.51 L503.61,317.32 L505.35,317.11 L507.1,316.89 L508.84,316.63 L510.58,316.32 L512.33,315.92 L514.07,315.41 L515.82,314.72 L517.56,313.8 L519.3,312.56 L521.05,310.91 L522.79,308.74 L524.54,305.93 L526.28,302.39 L528.02,298 L529.77,292.72 L531.51,286.53 L533.26,279.48 L535,271.71 L536.74,263.41 L538.49,254.9 L540.23,246.54 L541.98,238.75 L543.72,231.97 L545.46,226.62 L547.21,223.07 L548.95,221.6 L550.7,222.52 L552.44,226.85 L554.18,234.4 L555.93,244.53 L557.67,256.4 L559.42,269.08 L561.16,281.7 L562.9,293.54 L564.65,304.09 L566.39,313.08 L568.14,320.41 L569.88,326.18 L571.62,330.56 L573.37,333.81 L575.11,336.15 L576.86,337.81 L578.6,338.99 L580.34,339.81 L582.09,340.39 L583.83,340.8 L585.58,341.1 L587.32,341.32 L589.06,341.49 L590.81,341.61 L592.55,341.71 L594.3,341.78 L596.04,341.83 L597.78,341.88 L599.53,341.91 L601.27,341.94 L603.02,341.95 L604.76,341.97 L606.5,341.98 L608.25,341.99 L609.99,342 L611.74,342 L613.48,342.01 L615.22,342.01 L616.97,342.01 L618.71,342.01 L620.46,342.02 L622.2,342.02 L623.94,342.02 L625.69,342.02 L627.43,342.02 L629.18,342.02 L630.92,342.02 L632.66,342.02 L634.41,342.02 L636.15,342.02 L637.9,342.02 L639.64,342.02 L641.38,342.02 L643.13,342.02 L644.87,342.02 L646.62,342.02 L648.36,342.02 L650.1,342.02 L651.85,342.02 L653.59,342.02 L655.34,342.02 L657.08,342.02 L658.82,342.02 L660.57,342.02 L662.31,342.02 L664.06,342.02 L665.8,342.02" fill="none" stroke="#9a9aff" stroke-width="0.8" stroke-opacity="1.0" stroke-linejoin="round" />
<path d="M404.2,340.53 L405.07,339.83 L405.94,339.14 L406.82,338.45 L407.69,337.75 L408.56,337.75 L409.43,337.75 L411.18,337.75 L412.92,337.75 L414.66,337.75 L416.41,337.75 L418.15,337.75 L419.9,337.75 L421.64,337.75 L423.38,337.75 L425.13,337.75 L426.87,337.75 L428.62,337.32 L430.36,336.8 L432.1,336.21 L433.85,335.55 L435.59,334.84 L437.34,334.07 L439.08,333.27 L440.82,332.44 L442.57,331.59 L444.31,330.72 L446.06,329.85 L447.8,328.98 L449.54,328.13 L451.29,327.3 L453.03,326.5 L454.78,325.74 L456.52,325.02 L458.26,324.36 L460.01,323.77 L461.75,323.18 L463.5,322.59 L465.24,322.43 L466.98,322.28 L468.73,322.13 L470.47,321.97 L472.22,321.82 L473.96,321.67 L475.7,321.51 L477.45,321.36 L479.19,321.21 L480.94,321.05 L482.68,320.9 L484.42,320.74 L486.17,320.59 L487.91,320.44 L489.66,320.28 L491.4,320.13 L493.14,319.98 L494.89,319.82 L496.63,319.67 L498.38,319.51 L500.12,319.36 L501.86,319.2 L503.61,319.04 L505.35,318.87 L507.1,318.69 L508.84,318.5 L510.58,318.28 L512.33,318.01 L514.07,317.68 L515.82,317.25 L517.56,316.68 L519.3,315.91 L521.05,314.87 L522.79,313.47 L524.54,311.62 L526.28,309.19 L528.02,306.09 L529.77,302.2 L531.51,297.46 L533.26,291.81 L535,285.28 L536.74,277.96 L538.49,270.02 L540.23,261.7 L541.98,253.33 L543.72,245.32 L545.46,238.08 L547.21,232.04 L548.95,227.6 L550.7,225.07 L552.44,224.68 L554.18,227.16 L555.93,233.03 L557.67,241.78 L559.42,252.67 L561.16,264.8 L562.9,277.28 L564.65,289.32 L566.39,300.31 L568.14,309.86 L569.88,317.81 L571.62,324.17 L573.37,329.07 L575.11,332.73 L576.86,335.4 L578.6,337.31 L580.34,338.65 L582.09,339.58 L583.83,340.24 L585.58,340.7 L587.32,341.04 L589.06,341.28 L590.81,341.45 L592.55,341.59 L594.3,341.69 L596.04,341.76 L597.78,341.82 L599.53,341.87 L601.27,341.9 L603.02,341.93 L604.76,341.95 L606.5,341.97 L608.25,341.98 L609.99,341.99 L611.74,342 L613.48,342 L615.22,342.01 L616.97,342.01 L618.71,342.01 L620.46,342.01 L622.2,342.01 L623.94,342.02 L625.69,342.02 L627.43,342.02 L629.18,342.02 L630.92,342.02 L632.66,342.02 L634.41,342.02 L636.15,342.02 L637.9,342.02 L639.64,342.02 L641.38,342.02 L643.13,342.02 L644.87,342.02 L646.62,342.02 L648.36,342.02 L650.1,342.02 L651.85,342.02 L653.59,342.02 L655.34,342.02 L657.08,342.02 L658.82,342.02 L660.57,342.02 L662.31,342.02 L664.06,342.02 L665.8,342.02" fill="none" stroke="#8080f8" stroke-width="0.8" stroke-opacity="1.0" stroke-linejoin="round" />
<path d="M404.2,340.83 L405.07,340.27 L405.94,339.72 L406.82,339.16 L407.69,338.61 L408.56,338.61 L409.43,338.61 L411.18,338.61 L412.92,338.61 L414.66,338.61 L416.41,338.61 L418.15,338.61 L419.9,338.61 L421.64,338.61 L423.38,338.61 L425.13,338.61 L426.87,338.61 L428.62,338.16 L430.36,337.63 L432.1,337.02 L433.85,336.34 L435.59,335.61 L437.34,334.82 L439.08,334 L440.82,333.14 L442.57,332.26 L444.31,331.37 L446.06,330.48 L447.8,329.59 L449.54,328.71 L451.29,327.85 L453.03,327.03 L454.78,326.25 L456.52,325.51 L458.26,324.83 L460.01,324.23 L461.75,323.62 L463.5,323.01 L465.24,322.86 L466.98,322.71 L468.73,322.55 L470.47,322.4 L472.22,322.25 L473.96,322.09 L475.7,321.94 L477.45,321.79 L479.19,321.63 L480.94,321.48 L482.68,321.33 L484.42,321.17 L486.17,321.02 L487.91,320.86 L489.66,320.71 L491.4,320.56 L493.14,320.4 L494.89,320.25 L496.63,320.09 L498.38,319.94 L500.12,319.77 L501.86,319.61 L503.61,319.43 L505.35,319.24 L507.1,319.02 L508.84,318.76 L510.58,318.43 L512.33,318.01 L514.07,317.46 L515.82,316.71 L517.56,315.71 L519.3,314.36 L521.05,312.57 L522.79,310.23 L524.54,307.24 L526.28,303.5 L528.02,298.93 L529.77,293.5 L531.51,287.22 L533.26,280.18 L535,272.54 L536.74,264.53 L538.49,256.49 L540.23,248.79 L541.98,241.82 L543.72,236.02 L545.46,231.75 L547.21,229.32 L548.95,228.94 L550.7,231.34 L552.44,236.99 L554.18,245.41 L555.93,255.89 L557.67,267.57 L559.42,279.58 L561.16,291.18 L562.9,301.76 L564.65,310.97 L566.39,318.63 L568.14,324.76 L569.88,329.49 L571.62,333.03 L573.37,335.6 L575.11,337.45 L576.86,338.74 L578.6,339.65 L580.34,340.29 L582.09,340.74 L583.83,341.06 L585.58,341.29 L587.32,341.47 L589.06,341.6 L590.81,341.7 L592.55,341.77 L594.3,341.83 L596.04,341.87 L597.78,341.91 L599.53,341.93 L601.27,341.95 L603.02,341.97 L604.76,341.98 L606.5,341.99 L608.25,342 L609.99,342 L611.74,342.01 L613.48,342.01 L615.22,342.01 L616.97,342.01 L618.71,342.01 L620.46,342.02 L622.2,342.02 L623.94,342.02 L625.69,342.02 L627.43,342.02 L629.18,342.02 L630.92,342.02 L632.66,342.02 L634.41,342.02 L636.15,342.02 L637.9,342.02 L639.64,342.02 L641.38,342.02 L643.13,342.02 L644.87,342.02 L646.62,342.02 L648.36,342.02 L650.1,342.02 L651.85,342.02 L653.59,342.02 L655.34,342.02 L657.08,342.02 L658.82,342.02 L660.57,342.02 L662.31,342.02 L664.06,342.02 L665.8,342.02" fill="none" stroke="#9090ff" stroke-width="0.8" stroke-opacity="1.0" stroke-linejoin="round" />
<path d="M404.2,339.33 L405.07,338.08 L405.94,336.84 L406.82,335.59 L407.69,334.34 L408.56,334.34 L409.43,334.34 L411.18,334.34 L412.92,334.34 L414.66,334.34 L416.41,334.34 L418.15,334.34 L419.9,334.34 L421.64,334.34 L423.38,334.34 L425.13,334.34 L426.87,334.34 L428.62,333.98 L430.36,333.55 L432.1,333.06 L433.85,332.51 L435.59,331.92 L437.34,331.29 L439.08,330.63 L440.82,329.94 L442.57,329.23 L444.31,328.51 L446.06,327.79 L447.8,327.07 L449.54,326.37 L451.29,325.68 L453.03,325.01 L454.78,324.38 L456.52,323.79 L458.26,323.25 L460.01,322.76 L461.75,322.24 L463.5,321.71 L465.24,321.54 L466.98,321.37 L468.73,321.2 L470.47,321.03 L472.22,320.86 L473.96,320.68 L475.7,320.51 L477.45,320.34 L479.19,320.17 L480.94,320 L482.68,319.83 L484.42,319.66 L486.17,319.49 L487.91,319.32 L489.66,319.15 L491.4,318.98 L493.14,318.81 L494.89,318.64 L496.63,318.47 L498.38,318.29 L500.12,318.12 L501.86,317.94 L503.61,317.76 L505.35,317.57 L507.1,317.37 L508.84,317.14 L510.58,316.88 L512.33,316.57 L514.07,316.17 L515.82,315.65 L517.56,314.95 L519.3,314.02 L521.05,312.76 L522.79,311.09 L524.54,308.89 L526.28,306.04 L528.02,302.44 L529.77,297.99 L531.51,292.63 L533.26,286.34 L535,279.18 L536.74,271.28 L538.49,262.85 L540.23,254.21 L541.98,245.71 L543.72,237.8 L545.46,230.9 L547.21,225.46 L548.95,221.84 L550.7,220.32 L552.44,221.24 L554.18,225.61 L555.93,233.25 L557.67,243.51 L559.42,255.53 L561.16,268.36 L562.9,281.14 L564.65,293.12 L566.39,303.79 L568.14,312.87 L569.88,320.28 L571.62,326.1 L573.37,330.52 L575.11,333.79 L576.86,336.15 L578.6,337.82 L580.34,338.99 L582.09,339.82 L583.83,340.4 L585.58,340.81 L587.32,341.11 L589.06,341.33 L590.81,341.49 L592.55,341.62 L594.3,341.71 L596.04,341.78 L597.78,341.84 L599.53,341.88 L601.27,341.91 L603.02,341.94 L604.76,341.96 L606.5,341.97 L608.25,341.98 L609.99,341.99 L611.74,342 L613.48,342 L615.22,342.01 L616.97,342.01 L618.71,342.01 L620.46,342.01 L622.2,342.02 L623.94,342.02 L625.69,342.02 L627.43,342.02 L629.18,342.02 L630.92,342.02 L632.66,342.02 L634.41,342.02 L636.15,342.02 L637.9,342.02 L639.64,342.02 L641.38,342.02 L643.13,342.02 L644.87,342.02 L646.62,342.02 L648.36,342.02 L650.1,342.02 L651.85,342.02 L653.59,342.02 L655.34,342.02 L657.08,342.02 L658.82,342.02 L660.57,342.02 L662.31,342.02 L664.06,342.02 L665.8,342.02" fill="none" stroke="#6a6af0" stroke-width="0.8" stroke-opacity="1.0" stroke-linejoin="round" />
<path d="M404.2,338.88 L405.07,337.43 L405.94,335.97 L406.82,334.52 L407.69,333.06 L408.56,333.06 L409.43,333.06 L411.18,333.06 L412.92,333.06 L414.66,333.06 L416.41,333.06 L418.15,333.06 L419.9,333.06 L421.64,333.06 L423.38,333.06 L425.13,333.06 L426.87,333.06 L428.62,332.72 L430.36,332.32 L432.1,331.87 L433.85,331.36 L435.59,330.81 L437.34,330.22 L439.08,329.6 L440.82,328.96 L442.57,328.3 L444.31,327.63 L446.06,326.96 L447.8,326.29 L449.54,325.64 L451.29,324.99 L453.03,324.38 L454.78,323.79 L456.52,323.24 L458.26,322.73 L460.01,322.27 L461.75,321.8 L463.5,321.31 L465.24,321.15 L466.98,321 L468.73,320.85 L470.47,320.69 L472.22,320.54 L473.96,320.39 L475.7,320.23 L477.45,320.08 L479.19,319.93 L480.94,319.77 L482.68,319.62 L484.42,319.46 L486.17,319.31 L487.91,319.16 L489.66,319 L491.4,318.85 L493.14,318.7 L494.89,318.54 L496.63,318.39 L498.38,318.23 L500.12,318.08 L501.86,317.92 L503.61,317.76 L505.35,317.59 L507.1,317.42 L508.84,317.23 L510.58,317.01 L512.33,316.75 L514.07,316.43 L515.82,316.02 L517.56,315.47 L519.3,314.74 L521.05,313.75 L522.79,312.42 L524.54,310.67 L526.28,308.37 L528.02,305.44 L529.77,301.77 L531.51,297.29 L533.26,291.97 L535,285.81 L536.74,278.91 L538.49,271.42 L540.23,263.59 L541.98,255.71 L543.72,248.18 L545.46,241.37 L547.21,235.72 L548.95,231.57 L550.7,229.25 L552.44,228.94 L554.18,231.38 L555.93,237.02 L557.67,245.4 L559.42,255.81 L561.16,267.41 L562.9,279.35 L564.65,290.89 L566.39,301.44 L568.14,310.63 L569.88,318.29 L571.62,324.44 L573.37,329.2 L575.11,332.77 L576.86,335.38 L578.6,337.26 L580.34,338.59 L582.09,339.53 L583.83,340.19 L585.58,340.66 L587.32,341 L589.06,341.25 L590.81,341.43 L592.55,341.57 L594.3,341.67 L596.04,341.75 L597.78,341.82 L599.53,341.86 L601.27,341.9 L603.02,341.93 L604.76,341.95 L606.5,341.96 L608.25,341.98 L609.99,341.99 L611.74,341.99 L613.48,342 L615.22,342 L616.97,342.01 L618.71,342.01 L620.46,342.01 L622.2,342.01 L623.94,342.02 L625.69,342.02 L627.43,342.02 L629.18,342.02 L630.92,342.02 L632.66,342.02 L634.41,342.02 L636.15,342.02 L637.9,342.02 L639.64,342.02 L641.38,342.02 L643.13,342.02 L644.87,342.02 L646.62,342.02 L648.36,342.02 L650.1,342.02 L651.85,342.02 L653.59,342.02 L655.34,342.02 L657.08,342.02 L658.82,342.02 L660.57,342.02 L662.31,342.02 L664.06,342.02 L665.8,342.02" fill="none" stroke="#500090" stroke-width="1.2" stroke-opacity="1.0" stroke-linejoin="round" />
<path d="M404.2,339.18 L405.07,337.86 L405.94,336.55 L406.82,335.23 L407.69,333.91 L408.56,333.91 L409.43,333.91 L411.18,333.91 L412.92,333.91 L414.66,333.91 L416.41,333.91 L418.15,333.91 L419.9,333.91 L421.64,333.91 L423.38,333.91 L425.13,333.91 L426.87,333.91 L428.62,333.56 L430.36,333.15 L432.1,332.68 L433.85,332.15 L435.59,331.58 L437.34,330.97 L439.08,330.33 L440.82,329.66 L442.57,328.98 L444.31,328.29 L446.06,327.59 L447.8,326.9 L449.54,326.21 L451.29,325.55 L453.03,324.91 L454.78,324.3 L456.52,323.73 L458.26,323.2 L460.01,322.73 L461.75,322.24 L463.5,321.73 L465.24,321.58 L466.98,321.43 L468.73,321.27 L470.47,321.12 L472.22,320.97 L473.96,320.81 L475.7,320.66 L477.45,320.51 L479.19,320.35 L480.94,320.2 L482.68,320.04 L484.42,319.89 L486.17,319.74 L487.91,319.58 L489.66,319.43 L491.4,319.28 L493.14,319.12 L494.89,318.97 L496.63,318.82 L498.38,318.66 L500.12,318.51 L501.86,318.35 L503.61,318.19 L505.35,318.03 L507.1,317.86 L508.84,317.68 L510.58,317.47 L512.33,317.24 L514.07,316.96 L515.82,316.6 L517.56,316.13 L519.3,315.51 L521.05,314.68 L522.79,313.56 L524.54,312.07 L526.28,310.1 L528.02,307.57 L529.77,304.36 L531.51,300.39 L533.26,295.61 L535,290.01 L536.74,283.63 L538.49,276.59 L540.23,269.09 L541.98,261.39 L543.72,253.84 L545.46,246.8 L547.21,240.68 L548.95,235.87 L550.7,232.69 L552.44,231.39 L554.18,232.29 L555.93,236.27 L557.67,243.19 L559.42,252.46 L561.16,263.31 L562.9,274.9 L564.65,286.45 L566.39,297.29 L568.14,306.97 L569.88,315.21 L571.62,321.95 L573.37,327.27 L575.11,331.32 L576.86,334.32 L578.6,336.49 L580.34,338.05 L582.09,339.14 L583.83,339.92 L585.58,340.47 L587.32,340.86 L589.06,341.14 L590.81,341.35 L592.55,341.51 L594.3,341.63 L596.04,341.72 L597.78,341.79 L599.53,341.84 L601.27,341.88 L603.02,341.91 L604.76,341.94 L606.5,341.96 L608.25,341.97 L609.99,341.98 L611.74,341.99 L613.48,342 L615.22,342 L616.97,342.01 L618.71,342.01 L620.46,342.01 L622.2,342.01 L623.94,342.02 L625.69,342.02 L627.43,342.02 L629.18,342.02 L630.92,342.02 L632.66,342.02 L634.41,342.02 L636.15,342.02 L637.9,342.02 L639.64,342.02 L641.38,342.02 L643.13,342.02 L644.87,342.02 L646.62,342.02 L648.36,342.02 L650.1,342.02 L651.85,342.02 L653.59,342.02 L655.34,342.02 L657.08,342.02 L658.82,342.02 L660.57,342.02 L662.31,342.02 L664.06,342.02 L665.8,342.02" fill="none" stroke="#3a0080" stroke-width="1.2" stroke-opacity="1.0" stroke-linejoin="round" />
<path d="M404.2,339.48 L405.07,338.3 L405.94,337.12 L406.82,335.94 L407.69,334.77 L408.56,334.77 L409.43,334.77 L411.18,334.77 L412.92,334.77 L414.66,334.77 L416.41,334.77 L418.15,334.77 L419.9,334.77 L421.64,334.77 L423.38,334.77 L425.13,334.77 L426.87,334.77 L428.62,334.41 L430.36,333.98 L432.1,333.49 L433.85,332.94 L435.59,332.35 L437.34,331.72 L439.08,331.05 L440.82,330.36 L442.57,329.66 L444.31,328.94 L446.06,328.22 L447.8,327.5 L449.54,326.79 L451.29,326.1 L453.03,325.44 L454.78,324.81 L456.52,324.22 L458.26,323.67 L460.01,323.18 L461.75,322.68 L463.5,322.17 L465.24,322.03 L466.98,321.88 L468.73,321.74 L470.47,321.59 L472.22,321.45 L473.96,321.3 L475.7,321.16 L477.45,321.01 L479.19,320.87 L480.94,320.72 L482.68,320.58 L484.42,320.43 L486.17,320.29 L487.91,320.14 L489.66,320 L491.4,319.85 L493.14,319.71 L494.89,319.56 L496.63,319.42 L498.38,319.27 L500.12,319.12 L501.86,318.98 L503.61,318.82 L505.35,318.67 L507.1,318.5 L508.84,318.32 L510.58,318.11 L512.33,317.87 L514.07,317.56 L515.82,317.17 L517.56,316.65 L519.3,315.96 L521.05,315.02 L522.79,313.76 L524.54,312.09 L526.28,309.92 L528.02,307.13 L529.77,303.65 L531.51,299.39 L533.26,294.33 L535,288.49 L536.74,281.93 L538.49,274.82 L540.23,267.38 L541.98,259.9 L543.72,252.74 L545.46,246.29 L547.21,240.91 L548.95,236.98 L550.7,234.77 L552.44,234.49 L554.18,236.81 L555.93,242.17 L557.67,250.14 L559.42,260.03 L561.16,271.06 L562.9,282.42 L564.65,293.38 L566.39,303.41 L568.14,312.15 L569.88,319.44 L571.62,325.29 L573.37,329.82 L575.11,333.21 L576.86,335.7 L578.6,337.49 L580.34,338.75 L582.09,339.65 L583.83,340.28 L585.58,340.72 L587.32,341.05 L589.06,341.28 L590.81,341.46 L592.55,341.59 L594.3,341.69 L596.04,341.77 L597.78,341.83 L599.53,341.87 L601.27,341.9 L603.02,341.93 L604.76,341.95 L606.5,341.97 L608.25,341.98 L609.99,341.99 L611.74,342 L613.48,342 L615.22,342.01 L616.97,342.01 L618.71,342.01 L620.46,342.01 L622.2,342.01 L623.94,342.02 L625.69,342.02 L627.43,342.02 L629.18,342.02 L630.92,342.02 L632.66,342.02 L634.41,342.02 L636.15,342.02 L637.9,342.02 L639.64,342.02 L641.38,342.02 L643.13,342.02 L644.87,342.02 L646.62,342.02 L648.36,342.02 L650.1,342.02 L651.85,342.02 L653.59,342.02 L655.34,342.02 L657.08,342.02 L658.82,342.02 L660.57,342.02 L662.31,342.02 L664.06,342.02 L665.8,342.02" fill="none" stroke="#6020a0" stroke-width="0.9" stroke-opacity="1.0" stroke-linejoin="round" />
<path d="M404.2,339.78 L405.07,338.74 L405.94,337.7 L406.82,336.66 L407.69,335.62 L408.56,335.62 L409.43,335.62 L411.18,335.62 L412.92,335.62 L414.66,335.62 L416.41,335.62 L418.15,335.62 L419.9,335.62 L421.64,335.62 L423.38,335.62 L425.13,335.62 L426.87,335.62 L428.62,335.22 L430.36,334.75 L432.1,334.21 L433.85,333.61 L435.59,332.95 L437.34,332.26 L439.08,331.52 L440.82,330.76 L442.57,329.98 L444.31,329.19 L446.06,328.39 L447.8,327.6 L449.54,326.82 L451.29,326.06 L453.03,325.33 L454.78,324.63 L456.52,323.98 L458.26,323.38 L460.01,322.84 L461.75,322.28 L463.5,321.72 L465.24,321.56 L466.98,321.4 L468.73,321.24 L470.47,321.07 L472.22,320.91 L473.96,320.75 L475.7,320.59 L477.45,320.42 L479.19,320.26 L480.94,320.1 L482.68,319.94 L484.42,319.78 L486.17,319.61 L487.91,319.45 L489.66,319.29 L491.4,319.13 L493.14,318.97 L494.89,318.8 L496.63,318.64 L498.38,318.48 L500.12,318.31 L501.86,318.15 L503.61,317.97 L505.35,317.8 L507.1,317.61 L508.84,317.4 L510.58,317.16 L512.33,316.88 L514.07,316.53 L515.82,316.07 L517.56,315.47 L519.3,314.67 L521.05,313.61 L522.79,312.19 L524.54,310.33 L526.28,307.93 L528.02,304.91 L529.77,301.17 L531.51,296.68 L533.26,291.41 L535,285.42 L536.74,278.81 L538.49,271.77 L540.23,264.54 L541.98,257.46 L543.72,250.86 L545.46,245.13 L547.21,240.63 L548.95,237.67 L550.7,236.5 L552.44,237.38 L554.18,241.18 L555.93,247.74 L557.67,256.53 L559.42,266.81 L561.16,277.8 L562.9,288.76 L564.65,299.06 L566.39,308.27 L568.14,316.13 L569.88,322.57 L571.62,327.66 L573.37,331.56 L575.11,334.45 L576.86,336.56 L578.6,338.08 L580.34,339.15 L582.09,339.91 L583.83,340.46 L585.58,340.85 L587.32,341.13 L589.06,341.35 L590.81,341.5 L592.55,341.62 L594.3,341.72 L596.04,341.79 L597.78,341.84 L599.53,341.88 L601.27,341.91 L603.02,341.94 L604.76,341.96 L606.5,341.97 L608.25,341.98 L609.99,341.99 L611.74,342 L613.48,342 L615.22,342.01 L616.97,342.01 L618.71,342.01 L620.46,342.01 L622.2,342.02 L623.94,342.02 L625.69,342.02 L627.43,342.02 L629.18,342.02 L630.92,342.02 L632.66,342.02 L634.41,342.02 L636.15,342.02 L637.9,342.02 L639.64,342.02 L641.38,342.02 L643.13,342.02 L644.87,342.02 L646.62,342.02 L648.36,342.02 L650.1,342.02 L651.85,342.02 L653.59,342.02 L655.34,342.02 L657.08,342.02 L658.82,342.02 L660.57,342.02 L662.31,342.02 L664.06,342.02 L665.8,342.02" fill="none" stroke="#4a0090" stroke-width="0.9" stroke-opacity="1.0" stroke-linejoin="round" />
<path d="M404.2,339.03 L405.07,337.65 L405.94,336.26 L406.82,334.87 L407.69,333.49 L408.56,333.49 L409.43,333.49 L411.18,333.49 L412.92,333.49 L414.66,333.49 L416.41,333.49 L418.15,333.49 L419.9,333.49 L421.64,333.49 L423.38,333.49 L425.13,333.49 L426.87,333.49 L428.62,333.14 L430.36,332.72 L432.1,332.25 L433.85,331.72 L435.59,331.15 L437.34,330.54 L439.08,329.9 L440.82,329.24 L442.57,328.55 L444.31,327.86 L446.06,327.16 L447.8,326.47 L449.54,325.79 L451.29,325.12 L453.03,324.48 L454.78,323.87 L456.52,323.3 L458.26,322.77 L460.01,322.3 L461.75,321.81 L463.5,321.31 L465.24,321.15 L466.98,321 L468.73,320.85 L470.47,320.69 L472.22,320.54 L473.96,320.39 L475.7,320.23 L477.45,320.08 L479.19,319.93 L480.94,319.77 L482.68,319.62 L484.42,319.46 L486.17,319.31 L487.91,319.16 L489.66,319 L491.4,318.85 L493.14,318.7 L494.89,318.54 L496.63,318.39 L498.38,318.24 L500.12,318.08 L501.86,317.93 L503.61,317.77 L505.35,317.61 L507.1,317.44 L508.84,317.27 L510.58,317.08 L512.33,316.87 L514.07,316.63 L515.82,316.32 L517.56,315.94 L519.3,315.44 L521.05,314.77 L522.79,313.88 L524.54,312.69 L526.28,311.11 L528.02,309.06 L529.77,306.44 L531.51,303.17 L533.26,299.19 L535,294.45 L536.74,288.98 L538.49,282.85 L540.23,276.2 L541.98,269.25 L543.72,262.27 L545.46,255.59 L547.21,249.57 L548.95,244.58 L550.7,240.95 L552.44,238.95 L554.18,238.76 L555.93,241.02 L557.67,246.15 L559.42,253.73 L561.16,263.14 L562.9,273.63 L564.65,284.44 L566.39,294.9 L568.14,304.48 L569.88,312.86 L571.62,319.87 L573.37,325.51 L575.11,329.9 L576.86,333.21 L578.6,335.65 L580.34,337.41 L582.09,338.67 L583.83,339.57 L585.58,340.21 L587.32,340.67 L589.06,341 L590.81,341.25 L592.55,341.43 L594.3,341.57 L596.04,341.67 L597.78,341.75 L599.53,341.81 L601.27,341.86 L603.02,341.9 L604.76,341.93 L606.5,341.95 L608.25,341.96 L609.99,341.98 L611.74,341.99 L613.48,341.99 L615.22,342 L616.97,342 L618.71,342.01 L620.46,342.01 L622.2,342.01 L623.94,342.01 L625.69,342.02 L627.43,342.02 L629.18,342.02 L630.92,342.02 L632.66,342.02 L634.41,342.02 L636.15,342.02 L637.9,342.02 L639.64,342.02 L641.38,342.02 L643.13,342.02 L644.87,342.02 L646.62,342.02 L648.36,342.02 L650.1,342.02 L651.85,342.02 L653.59,342.02 L655.34,342.02 L657.08,342.02 L658.82,342.02 L660.57,342.02 L662.31,342.02 L664.06,342.02 L665.8,342.02" fill="none" stroke="#7a20b0" stroke-width="0.9" stroke-opacity="1.0" stroke-linejoin="round" />
<path d="M404.2,339.33 L405.07,338.08 L405.94,336.84 L406.82,335.59 L407.69,334.34 L408.56,334.34 L409.43,334.34 L411.18,334.34 L412.92,334.34 L414.66,334.34 L416.41,334.34 L418.15,334.34 L419.9,334.34 L421.64,334.34 L423.38,334.34 L425.13,334.34 L426.87,334.34 L428.62,333.99 L430.36,333.58 L432.1,333.1 L433.85,332.58 L435.59,332.01 L437.34,331.4 L439.08,330.76 L440.82,330.09 L442.57,329.41 L444.31,328.71 L446.06,328.02 L447.8,327.32 L449.54,326.64 L451.29,325.98 L453.03,325.34 L454.78,324.73 L456.52,324.15 L458.26,323.63 L460.01,323.15 L461.75,322.67 L463.5,322.16 L465.24,322.01 L466.98,321.85 L468.73,321.7 L470.47,321.55 L472.22,321.39 L473.96,321.24 L475.7,321.09 L477.45,320.93 L479.19,320.78 L480.94,320.63 L482.68,320.47 L484.42,320.32 L486.17,320.16 L487.91,320.01 L489.66,319.86 L491.4,319.7 L493.14,319.55 L494.89,319.4 L496.63,319.24 L498.38,319.09 L500.12,318.93 L501.86,318.78 L503.61,318.62 L505.35,318.45 L507.1,318.28 L508.84,318.09 L510.58,317.88 L512.33,317.64 L514.07,317.34 L515.82,316.96 L517.56,316.46 L519.3,315.8 L521.05,314.92 L522.79,313.74 L524.54,312.19 L526.28,310.17 L528.02,307.59 L529.77,304.37 L531.51,300.45 L533.26,295.78 L535,290.4 L536.74,284.36 L538.49,277.81 L540.23,270.97 L541.98,264.09 L543.72,257.52 L545.46,251.59 L547.21,246.67 L548.95,243.08 L550.7,241.1 L552.44,240.89 L554.18,243.09 L555.93,248.12 L557.67,255.55 L559.42,264.78 L561.16,275.07 L562.9,285.67 L564.65,295.92 L566.39,305.32 L568.14,313.52 L569.88,320.38 L571.62,325.91 L573.37,330.2 L575.11,333.44 L576.86,335.82 L578.6,337.54 L580.34,338.77 L582.09,339.64 L583.83,340.26 L585.58,340.71 L587.32,341.03 L589.06,341.27 L590.81,341.45 L592.55,341.58 L594.3,341.68 L596.04,341.76 L597.78,341.82 L599.53,341.87 L601.27,341.9 L603.02,341.93 L604.76,341.95 L606.5,341.97 L608.25,341.98 L609.99,341.99 L611.74,342 L613.48,342 L615.22,342.01 L616.97,342.01 L618.71,342.01 L620.46,342.01 L622.2,342.01 L623.94,342.02 L625.69,342.02 L627.43,342.02 L629.18,342.02 L630.92,342.02 L632.66,342.02 L634.41,342.02 L636.15,342.02 L637.9,342.02 L639.64,342.02 L641.38,342.02 L643.13,342.02 L644.87,342.02 L646.62,342.02 L648.36,342.02 L650.1,342.02 L651.85,342.02 L653.59,342.02 L655.34,342.02 L657.08,342.02 L658.82,342.02 L660.57,342.02 L662.31,342.02 L664.06,342.02 L665.8,342.02" fill="none" stroke="#500080" stroke-width="0.9" stroke-opacity="1.0" stroke-linejoin="round" />
<path d="M404.2,341.12 L405.07,340.71 L405.94,340.29 L406.82,339.88 L407.69,339.46 L408.56,339.46 L409.43,339.46 L411.18,339.46 L412.92,339.46 L414.66,339.46 L416.41,339.46 L418.15,339.46 L419.9,339.46 L421.64,339.46 L423.38,339.46 L425.13,339.46 L426.87,339.46 L428.62,338.96 L430.36,338.37 L432.1,337.69 L433.85,336.94 L435.59,336.13 L437.34,335.25 L439.08,334.34 L440.82,333.39 L442.57,332.41 L444.31,331.42 L446.06,330.43 L447.8,329.44 L449.54,328.46 L451.29,327.51 L453.03,326.6 L454.78,325.73 L456.52,324.91 L458.26,324.16 L460.01,323.48 L461.75,322.81 L463.5,322.14 L465.24,321.97 L466.98,321.79 L468.73,321.62 L470.47,321.45 L472.22,321.28 L473.96,321.11 L475.7,320.94 L477.45,320.77 L479.19,320.6 L480.94,320.43 L482.68,320.26 L484.42,320.09 L486.17,319.92 L487.91,319.75 L489.66,319.58 L491.4,319.4 L493.14,319.23 L494.89,319.06 L496.63,318.89 L498.38,318.72 L500.12,318.54 L501.86,318.36 L503.61,318.17 L505.35,317.97 L507.1,317.75 L508.84,317.49 L510.58,317.19 L512.33,316.8 L514.07,316.31 L515.82,315.65 L517.56,314.77 L519.3,313.59 L521.05,312.02 L522.79,309.96 L524.54,307.29 L526.28,303.93 L528.02,299.78 L529.77,294.77 L531.51,288.91 L533.26,282.23 L535,274.86 L536.74,267 L538.49,258.93 L540.23,251 L541.98,243.61 L543.72,237.16 L545.46,232.05 L547.21,228.64 L548.95,227.18 L550.7,227.95 L552.44,231.69 L554.18,238.25 L555.93,247.14 L557.67,257.67 L559.42,269.09 L561.16,280.67 L562.9,291.76 L564.65,301.89 L566.39,310.74 L568.14,318.16 L569.88,324.17 L571.62,328.88 L573.37,332.46 L575.11,335.11 L576.86,337.05 L578.6,338.43 L580.34,339.42 L582.09,340.11 L583.83,340.61 L585.58,340.97 L587.32,341.23 L589.06,341.42 L590.81,341.56 L592.55,341.67 L594.3,341.75 L596.04,341.81 L597.78,341.86 L599.53,341.9 L601.27,341.93 L603.02,341.95 L604.76,341.96 L606.5,341.98 L608.25,341.99 L609.99,341.99 L611.74,342 L613.48,342 L615.22,342.01 L616.97,342.01 L618.71,342.01 L620.46,342.01 L622.2,342.02 L623.94,342.02 L625.69,342.02 L627.43,342.02 L629.18,342.02 L630.92,342.02 L632.66,342.02 L634.41,342.02 L636.15,342.02 L637.9,342.02 L639.64,342.02 L641.38,342.02 L643.13,342.02 L644.87,342.02 L646.62,342.02 L648.36,342.02 L650.1,342.02 L651.85,342.02 L653.59,342.02 L655.34,342.02 L657.08,342.02 L658.82,342.02 L660.57,342.02 L662.31,342.02 L664.06,342.02 L665.8,342.02" fill="none" stroke="#ff40ff" stroke-width="0.9" stroke-opacity="1.0" stroke-linejoin="round" />
<path d="M404.2,341.27 L405.07,340.93 L405.94,340.58 L406.82,340.23 L407.69,339.89 L408.56,339.89 L409.43,339.89 L411.18,339.89 L412.92,339.89 L414.66,339.89 L416.41,339.89 L418.15,339.89 L419.9,339.89 L421.64,339.89 L423.38,339.89 L425.13,339.89 L426.87,339.89 L428.62,339.39 L430.36,338.8 L432.1,338.12 L433.85,337.37 L435.59,336.55 L437.34,335.68 L439.08,334.77 L440.82,333.82 L442.57,332.84 L444.31,331.85 L446.06,330.85 L447.8,329.86 L449.54,328.89 L451.29,327.94 L453.03,327.02 L454.78,326.15 L456.52,325.34 L458.26,324.58 L460.01,323.91 L461.75,323.25 L463.5,322.6 L465.24,322.46 L466.98,322.31 L468.73,322.17 L470.47,322.02 L472.22,321.88 L473.96,321.73 L475.7,321.59 L477.45,321.44 L479.19,321.3 L480.94,321.15 L482.68,321 L484.42,320.86 L486.17,320.71 L487.91,320.57 L489.66,320.42 L491.4,320.28 L493.14,320.13 L494.89,319.99 L496.63,319.84 L498.38,319.7 L500.12,319.55 L501.86,319.4 L503.61,319.24 L505.35,319.08 L507.1,318.91 L508.84,318.72 L510.58,318.5 L512.33,318.25 L514.07,317.94 L515.82,317.55 L517.56,317.05 L519.3,316.4 L521.05,315.56 L522.79,314.48 L524.54,313.1 L526.28,311.37 L528.02,309.23 L529.77,306.66 L531.51,303.62 L533.26,300.13 L535,296.23 L536.74,292 L538.49,287.55 L540.23,283.05 L541.98,278.69 L543.72,274.68 L545.46,271.25 L547.21,268.59 L548.95,266.91 L550.7,266.34 L552.44,267.02 L554.18,269.36 L555.93,273.29 L557.67,278.56 L559.42,284.86 L561.16,291.77 L562.9,298.91 L564.65,305.91 L566.39,312.46 L568.14,318.35 L569.88,323.45 L571.62,327.71 L573.37,331.17 L575.11,333.9 L576.86,335.99 L578.6,337.58 L580.34,338.75 L582.09,339.61 L583.83,340.24 L585.58,340.7 L587.32,341.03 L589.06,341.27 L590.81,341.46 L592.55,341.59 L594.3,341.69 L596.04,341.77 L597.78,341.83 L599.53,341.87 L601.27,341.91 L603.02,341.93 L604.76,341.95 L606.5,341.97 L608.25,341.98 L609.99,341.99 L611.74,342 L613.48,342 L615.22,342.01 L616.97,342.01 L618.71,342.01 L620.46,342.01 L622.2,342.01 L623.94,342.02 L625.69,342.02 L627.43,342.02 L629.18,342.02 L630.92,342.02 L632.66,342.02 L634.41,342.02 L636.15,342.02 L637.9,342.02 L639.64,342.02 L641.38,342.02 L643.13,342.02 L644.87,342.02 L646.62,342.02 L648.36,342.02 L650.1,342.02 L651.85,342.02 L653.59,342.02 L655.34,342.02 L657.08,342.02 L658.82,342.02 L660.57,342.02 L662.31,342.02 L664.06,342.02 L665.8,342.02" fill="none" stroke="#e040e0" stroke-width="0.8" stroke-opacity="1.0" stroke-linejoin="round" />
<path d="M404.2,336.64 L405.07,334.15 L405.94,331.65 L406.82,329.15 L407.69,326.66 L408.56,326.66 L409.43,326.66 L411.18,326.66 L412.92,326.66 L414.66,326.66 L416.41,326.66 L418.15,326.66 L419.9,326.66 L421.64,326.66 L423.38,326.66 L425.13,326.66 L426.87,326.66 L428.62,326.46 L430.36,326.22 L432.1,325.95 L433.85,325.65 L435.59,325.33 L437.34,324.98 L439.08,324.61 L440.82,324.23 L442.57,323.84 L444.31,323.44 L446.06,323.05 L447.8,322.65 L449.54,322.26 L451.29,321.88 L453.03,321.51 L454.78,321.17 L456.52,320.84 L458.26,320.54 L460.01,320.27 L461.75,319.91 L463.5,319.45 L465.24,319.19 L466.98,318.94 L468.73,318.68 L470.47,318.42 L472.22,318.17 L473.96,317.91 L475.7,317.66 L477.45,317.4 L479.19,317.14 L480.94,316.89 L482.68,316.63 L484.42,316.38 L486.17,316.12 L487.91,315.86 L489.66,315.61 L491.4,315.35 L493.14,315.09 L494.89,314.83 L496.63,314.57 L498.38,314.31 L500.12,314.04 L501.86,313.76 L503.61,313.47 L505.35,313.16 L507.1,312.82 L508.84,312.44 L510.58,312.01 L512.33,311.51 L514.07,310.91 L515.82,310.2 L517.56,309.33 L519.3,308.27 L521.05,307 L522.79,305.48 L524.54,303.68 L526.28,301.58 L528.02,299.18 L529.77,296.48 L531.51,293.54 L533.26,290.39 L535,287.12 L536.74,283.84 L538.49,280.67 L540.23,277.74 L541.98,275.2 L543.72,273.2 L545.46,271.86 L547.21,271.31 L548.95,271.61 L550.7,273.08 L552.44,275.91 L554.18,279.99 L555.93,285.09 L557.67,290.92 L559.42,297.17 L561.16,303.52 L562.9,309.68 L564.65,315.41 L566.39,320.54 L568.14,324.98 L569.88,328.71 L571.62,331.75 L573.37,334.17 L575.11,336.06 L576.86,337.51 L578.6,338.62 L580.34,339.45 L582.09,340.07 L583.83,340.54 L585.58,340.89 L587.32,341.16 L589.06,341.36 L590.81,341.51 L592.55,341.63 L594.3,341.72 L596.04,341.79 L597.78,341.84 L599.53,341.88 L601.27,341.91 L603.02,341.94 L604.76,341.96 L606.5,341.97 L608.25,341.98 L609.99,341.99 L611.74,342 L613.48,342 L615.22,342.01 L616.97,342.01 L618.71,342.01 L620.46,342.01 L622.2,342.02 L623.94,342.02 L625.69,342.02 L627.43,342.02 L629.18,342.02 L630.92,342.02 L632.66,342.02 L634.41,342.02 L636.15,342.02 L637.9,342.02 L639.64,342.02 L641.38,342.02 L643.13,342.02 L644.87,342.02 L646.62,342.02 L648.36,342.02 L650.1,342.02 L651.85,342.02 L653.59,342.02 L655.34,342.02 L657.08,342.02 L658.82,342.02 L660.57,342.02 L662.31,342.02 L664.06,342.02 L665.8,342.02" fill="none" stroke="#ff60ff" stroke-width="0.9" stroke-opacity="1.0" stroke-linejoin="round" />
<path d="M404.2,341.42 L405.07,341.15 L405.94,340.87 L406.82,340.59 L407.69,340.31 L408.56,340.31 L409.43,340.31 L411.18,340.31 L412.92,340.31 L414.66,340.31 L416.41,340.31 L418.15,340.31 L419.9,340.31 L421.64,340.31 L423.38,340.31 L425.13,340.31 L426.87,340.31 L428.62,339.82 L430.36,339.22 L432.1,338.55 L433.85,337.8 L435.59,336.98 L437.34,336.11 L439.08,335.19 L440.82,334.24 L442.57,333.27 L444.31,332.28 L446.06,331.28 L447.8,330.29 L449.54,329.32 L451.29,328.37 L453.03,327.45 L454.78,326.58 L456.52,325.76 L458.26,325.01 L460.01,324.33 L461.75,323.67 L463.5,323.01 L465.24,322.86 L466.98,322.71 L468.73,322.55 L470.47,322.4 L472.22,322.25 L473.96,322.09 L475.7,321.94 L477.45,321.79 L479.19,321.63 L480.94,321.48 L482.68,321.33 L484.42,321.17 L486.17,321.02 L487.91,320.86 L489.66,320.71 L491.4,320.56 L493.14,320.4 L494.89,320.25 L496.63,320.1 L498.38,319.94 L500.12,319.79 L501.86,319.63 L503.61,319.47 L505.35,319.31 L507.1,319.14 L508.84,318.96 L510.58,318.77 L512.33,318.55 L514.07,318.3 L515.82,317.99 L517.56,317.62 L519.3,317.16 L521.05,316.57 L522.79,315.82 L524.54,314.88 L526.28,313.7 L528.02,312.24 L529.77,310.47 L531.51,308.37 L533.26,305.93 L535,303.17 L536.74,300.14 L538.49,296.92 L540.23,293.6 L541.98,290.31 L543.72,287.22 L545.46,284.49 L547.21,282.28 L548.95,280.74 L550.7,280 L552.44,280.15 L554.18,281.42 L555.93,283.97 L557.67,287.67 L559.42,292.3 L561.16,297.58 L562.9,303.22 L564.65,308.91 L566.39,314.4 L568.14,319.46 L569.88,323.97 L571.62,327.83 L573.37,331.05 L575.11,333.65 L576.86,335.69 L578.6,337.27 L580.34,338.47 L582.09,339.37 L583.83,340.04 L585.58,340.53 L587.32,340.9 L589.06,341.17 L590.81,341.38 L592.55,341.53 L594.3,341.64 L596.04,341.73 L597.78,341.8 L599.53,341.85 L601.27,341.89 L603.02,341.92 L604.76,341.94 L606.5,341.96 L608.25,341.97 L609.99,341.98 L611.74,341.99 L613.48,342 L615.22,342 L616.97,342.01 L618.71,342.01 L620.46,342.01 L622.2,342.01 L623.94,342.02 L625.69,342.02 L627.43,342.02 L629.18,342.02 L630.92,342.02 L632.66,342.02 L634.41,342.02 L636.15,342.02 L637.9,342.02 L639.64,342.02 L641.38,342.02 L643.13,342.02 L644.87,342.02 L646.62,342.02 L648.36,342.02 L650.1,342.02 L651.85,342.02 L653.59,342.02 L655.34,342.02 L657.08,342.02 L658.82,342.02 L660.57,342.02 L662.31,342.02 L664.06,342.02 L665.8,342.02" fill="none" stroke="#f050f0" stroke-width="0.8" stroke-opacity="1.0" stroke-linejoin="round" />
<path d="M404.2,340.83 L405.07,340.27 L405.94,339.72 L406.82,339.16 L407.69,338.61 L408.56,338.61 L409.43,338.61 L411.18,338.61 L412.92,338.61 L414.66,338.61 L416.41,338.61 L418.15,338.61 L419.9,338.61 L421.64,338.61 L423.38,338.61 L425.13,338.61 L426.87,338.61 L428.62,338.12 L430.36,337.54 L432.1,336.88 L433.85,336.15 L435.59,335.36 L437.34,334.51 L439.08,333.61 L440.82,332.69 L442.57,331.74 L444.31,330.77 L446.06,329.8 L447.8,328.83 L449.54,327.88 L451.29,326.96 L453.03,326.06 L454.78,325.22 L456.52,324.42 L458.26,323.69 L460.01,323.03 L461.75,322.37 L463.5,321.72 L465.24,321.56 L466.98,321.4 L468.73,321.24 L470.47,321.07 L472.22,320.91 L473.96,320.75 L475.7,320.59 L477.45,320.42 L479.19,320.26 L480.94,320.1 L482.68,319.94 L484.42,319.78 L486.17,319.61 L487.91,319.45 L489.66,319.29 L491.4,319.13 L493.14,318.97 L494.89,318.8 L496.63,318.64 L498.38,318.48 L500.12,318.31 L501.86,318.14 L503.61,317.97 L505.35,317.78 L507.1,317.58 L508.84,317.36 L510.58,317.09 L512.33,316.77 L514.07,316.36 L515.82,315.81 L517.56,315.09 L519.3,314.12 L521.05,312.82 L522.79,311.11 L524.54,308.87 L526.28,306.02 L528.02,302.45 L529.77,298.1 L531.51,292.93 L533.26,286.95 L535,280.25 L536.74,272.98 L538.49,265.37 L540.23,257.72 L541.98,250.39 L543.72,243.77 L545.46,238.25 L547.21,234.18 L548.95,231.87 L550.7,231.5 L552.44,233.65 L554.18,238.65 L555.93,246.14 L557.67,255.54 L559.42,266.16 L561.16,277.28 L562.9,288.23 L564.65,298.47 L566.39,307.62 L568.14,315.46 L569.88,321.93 L571.62,327.08 L573.37,331.07 L575.11,334.06 L576.86,336.27 L578.6,337.87 L580.34,339.01 L582.09,339.82 L583.83,340.4 L585.58,340.81 L587.32,341.12 L589.06,341.34 L590.81,341.5 L592.55,341.62 L594.3,341.71 L596.04,341.79 L597.78,341.84 L599.53,341.88 L601.27,341.91 L603.02,341.94 L604.76,341.96 L606.5,341.97 L608.25,341.98 L609.99,341.99 L611.74,342 L613.48,342 L615.22,342.01 L616.97,342.01 L618.71,342.01 L620.46,342.01 L622.2,342.02 L623.94,342.02 L625.69,342.02 L627.43,342.02 L629.18,342.02 L630.92,342.02 L632.66,342.02 L634.41,342.02 L636.15,342.02 L637.9,342.02 L639.64,342.02 L641.38,342.02 L643.13,342.02 L644.87,342.02 L646.62,342.02 L648.36,342.02 L650.1,342.02 L651.85,342.02 L653.59,342.02 L655.34,342.02 L657.08,342.02 L658.82,342.02 L660.57,342.02 L662.31,342.02 L664.06,342.02 L665.8,342.02" fill="none" stroke="#e030c0" stroke-width="0.9" stroke-opacity="1.0" stroke-linejoin="round" />
<path d="M404.2,340.53 L405.07,339.83 L405.94,339.14 L406.82,338.45 L407.69,337.75 L408.56,337.75 L409.43,337.75 L411.18,337.75 L412.92,337.75 L414.66,337.75 L416.41,337.75 L418.15,337.75 L419.9,337.75 L421.64,337.75 L423.38,337.75 L425.13,337.75 L426.87,337.75 L428.62,337.32 L430.36,336.8 L432.1,336.21 L433.85,335.55 L435.59,334.84 L437.34,334.07 L439.08,333.27 L440.82,332.44 L442.57,331.59 L444.31,330.72 L446.06,329.85 L447.8,328.98 L449.54,328.13 L451.29,327.3 L453.03,326.5 L454.78,325.74 L456.52,325.02 L458.26,324.36 L460.01,323.77 L461.75,323.18 L463.5,322.59 L465.24,322.43 L466.98,322.28 L468.73,322.13 L470.47,321.97 L472.22,321.82 L473.96,321.67 L475.7,321.51 L477.45,321.36 L479.19,321.21 L480.94,321.05 L482.68,320.9 L484.42,320.74 L486.17,320.59 L487.91,320.44 L489.66,320.28 L491.4,320.13 L493.14,319.98 L494.89,319.82 L496.63,319.67 L498.38,319.51 L500.12,319.35 L501.86,319.19 L503.61,319.02 L505.35,318.85 L507.1,318.66 L508.84,318.44 L510.58,318.19 L512.33,317.88 L514.07,317.49 L515.82,316.99 L517.56,316.34 L519.3,315.48 L521.05,314.35 L522.79,312.87 L524.54,310.98 L526.28,308.6 L528.02,305.64 L529.77,302.07 L531.51,297.84 L533.26,292.98 L535,287.53 L536.74,281.61 L538.49,275.38 L540.23,269.06 L541.98,262.92 L543.72,257.26 L545.46,252.37 L547.21,248.55 L548.95,246.05 L550.7,245.05 L552.44,245.79 L554.18,248.96 L555.93,254.44 L557.67,261.84 L559.42,270.61 L561.16,280.13 L562.9,289.79 L564.65,299.07 L566.39,307.57 L568.14,315.02 L569.88,321.3 L571.62,326.41 L573.37,330.44 L575.11,333.52 L576.86,335.82 L578.6,337.51 L580.34,338.74 L582.09,339.62 L583.83,340.25 L585.58,340.7 L587.32,341.03 L589.06,341.27 L590.81,341.45 L592.55,341.59 L594.3,341.69 L596.04,341.76 L597.78,341.82 L599.53,341.87 L601.27,341.9 L603.02,341.93 L604.76,341.95 L606.5,341.97 L608.25,341.98 L609.99,341.99 L611.74,342 L613.48,342 L615.22,342.01 L616.97,342.01 L618.71,342.01 L620.46,342.01 L622.2,342.01 L623.94,342.02 L625.69,342.02 L627.43,342.02 L629.18,342.02 L630.92,342.02 L632.66,342.02 L634.41,342.02 L636.15,342.02 L637.9,342.02 L639.64,342.02 L641.38,342.02 L643.13,342.02 L644.87,342.02 L646.62,342.02 L648.36,342.02 L650.1,342.02 L651.85,342.02 L653.59,342.02 L655.34,342.02 L657.08,342.02 L658.82,342.02 L660.57,342.02 L662.31,342.02 L664.06,342.02 L665.8,342.02" fill="none" stroke="#f03070" stroke-width="0.9" stroke-opacity="1.0" stroke-linejoin="round" />
<path d="M404.2,341.57 L405.07,341.36 L405.94,341.16 L406.82,340.95 L407.69,340.74 L408.56,340.74 L409.43,340.74 L411.18,340.74 L412.92,340.74 L414.66,340.74 L416.41,340.74 L418.15,340.74 L419.9,340.74 L421.64,340.74 L423.38,340.74 L425.13,340.74 L426.87,340.74 L428.62,340.22 L430.36,339.6 L432.1,338.88 L433.85,338.1 L435.59,337.24 L437.34,336.32 L439.08,335.36 L440.82,334.37 L442.57,333.34 L444.31,332.3 L446.06,331.26 L447.8,330.22 L449.54,329.19 L451.29,328.19 L453.03,327.23 L454.78,326.32 L456.52,325.46 L458.26,324.67 L460.01,323.96 L461.75,323.26 L463.5,322.58 L465.24,322.41 L466.98,322.25 L468.73,322.09 L470.47,321.93 L472.22,321.76 L473.96,321.6 L475.7,321.44 L477.45,321.28 L479.19,321.12 L480.94,320.95 L482.68,320.79 L484.42,320.63 L486.17,320.47 L487.91,320.31 L489.66,320.14 L491.4,319.98 L493.14,319.82 L494.89,319.66 L496.63,319.49 L498.38,319.33 L500.12,319.17 L501.86,319.01 L503.61,318.84 L505.35,318.68 L507.1,318.51 L508.84,318.34 L510.58,318.17 L512.33,317.98 L514.07,317.78 L515.82,317.57 L517.56,317.32 L519.3,317.03 L521.05,316.68 L522.79,316.24 L524.54,315.69 L526.28,314.98 L528.02,314.07 L529.77,312.9 L531.51,311.41 L533.26,309.53 L535,307.21 L536.74,304.39 L538.49,301.01 L540.23,297.06 L541.98,292.53 L543.72,287.45 L545.46,281.91 L547.21,276.02 L548.95,269.94 L550.7,263.86 L552.44,258.02 L554.18,252.64 L555.93,247.98 L557.67,244.24 L559.42,241.61 L561.16,240.23 L562.9,240.32 L564.65,242.68 L566.39,247.25 L568.14,253.6 L569.88,261.2 L571.62,269.47 L573.37,277.85 L575.11,285.88 L576.86,293.26 L578.6,299.8 L580.34,305.47 L582.09,310.31 L583.83,314.46 L585.58,318.04 L587.32,321.2 L589.06,324.03 L590.81,326.6 L592.55,328.93 L594.3,331.04 L596.04,332.92 L597.78,334.56 L599.53,335.97 L601.27,337.16 L603.02,338.15 L604.76,338.96 L606.5,339.61 L608.25,340.13 L609.99,340.55 L611.74,340.88 L613.48,341.13 L615.22,341.33 L616.97,341.49 L618.71,341.61 L620.46,341.7 L622.2,341.78 L623.94,341.83 L625.69,341.87 L627.43,341.91 L629.18,341.93 L630.92,341.95 L632.66,341.97 L634.41,341.98 L636.15,341.99 L637.9,342 L639.64,342 L641.38,342.01 L643.13,342.01 L644.87,342.01 L646.62,342.01 L648.36,342.02 L650.1,342.02 L651.85,342.02 L653.59,342.02 L655.34,342.02 L657.08,342.02 L658.82,342.02 L660.57,342.02 L662.31,342.02 L664.06,342.02 L665.8,342.02" fill="none" stroke="#f09040" stroke-width="0.9" stroke-opacity="1.0" stroke-linejoin="round" />
<path d="M404.2,341.72 L405.07,341.58 L405.94,341.44 L406.82,341.31 L407.69,341.17 L408.56,341.17 L409.43,341.17 L411.18,341.17 L412.92,341.17 L414.66,341.17 L416.41,341.17 L418.15,341.17 L419.9,341.17 L421.64,341.17 L423.38,341.17 L425.13,341.17 L426.87,341.17 L428.62,340.64 L430.36,340.02 L432.1,339.31 L433.85,338.52 L435.59,337.67 L437.34,336.75 L439.08,335.79 L440.82,334.79 L442.57,333.77 L444.31,332.73 L446.06,331.68 L447.8,330.64 L449.54,329.62 L451.29,328.62 L453.03,327.66 L454.78,326.75 L456.52,325.89 L458.26,325.1 L460.01,324.39 L461.75,323.69 L463.5,323.01 L465.24,322.86 L466.98,322.71 L468.73,322.55 L470.47,322.4 L472.22,322.25 L473.96,322.09 L475.7,321.94 L477.45,321.79 L479.19,321.63 L480.94,321.48 L482.68,321.32 L484.42,321.17 L486.17,321.02 L487.91,320.86 L489.66,320.71 L491.4,320.56 L493.14,320.4 L494.89,320.25 L496.63,320.1 L498.38,319.94 L500.12,319.79 L501.86,319.63 L503.61,319.48 L505.35,319.32 L507.1,319.16 L508.84,319 L510.58,318.83 L512.33,318.64 L514.07,318.45 L515.82,318.23 L517.56,317.97 L519.3,317.66 L521.05,317.28 L522.79,316.8 L524.54,316.19 L526.28,315.4 L528.02,314.38 L529.77,313.07 L531.51,311.42 L533.26,309.36 L535,306.82 L536.74,303.76 L538.49,300.14 L540.23,295.93 L541.98,291.17 L543.72,285.9 L545.46,280.23 L547.21,274.28 L548.95,268.23 L550.7,262.3 L552.44,256.72 L554.18,251.73 L555.93,247.56 L557.67,244.4 L559.42,242.43 L561.16,241.75 L562.9,242.94 L564.65,246.47 L566.39,252 L568.14,259.06 L569.88,267.09 L571.62,275.51 L573.37,283.82 L575.11,291.64 L576.86,298.72 L578.6,304.95 L580.34,310.32 L582.09,314.93 L583.83,318.88 L585.58,322.3 L587.32,325.29 L589.06,327.92 L590.81,330.23 L592.55,332.26 L594.3,334.02 L596.04,335.52 L597.78,336.79 L599.53,337.85 L601.27,338.71 L603.02,339.41 L604.76,339.97 L606.5,340.42 L608.25,340.78 L609.99,341.05 L611.74,341.27 L613.48,341.44 L615.22,341.57 L616.97,341.67 L618.71,341.75 L620.46,341.81 L622.2,341.86 L623.94,341.9 L625.69,341.93 L627.43,341.95 L629.18,341.96 L630.92,341.98 L632.66,341.99 L634.41,341.99 L636.15,342 L637.9,342 L639.64,342.01 L641.38,342.01 L643.13,342.01 L644.87,342.01 L646.62,342.02 L648.36,342.02 L650.1,342.02 L651.85,342.02 L653.59,342.02 L655.34,342.02 L657.08,342.02 L658.82,342.02 L660.57,342.02 L662.31,342.02 L664.06,342.02 L665.8,342.02" fill="none" stroke="#f0a050" stroke-width="0.8" stroke-opacity="1.0" stroke-linejoin="round" />
<path d="M404.2,341.42 L405.07,341.15 L405.94,340.87 L406.82,340.59 L407.69,340.31 L408.56,340.31 L409.43,340.31 L411.18,340.31 L412.92,340.31 L414.66,340.31 L416.41,340.31 L418.15,340.31 L419.9,340.31 L421.64,340.31 L423.38,340.31 L425.13,340.31 L426.87,340.31 L428.62,339.8 L430.36,339.2 L432.1,338.5 L433.85,337.73 L435.59,336.9 L437.34,336 L439.08,335.06 L440.82,334.09 L442.57,333.09 L444.31,332.08 L446.06,331.06 L447.8,330.04 L449.54,329.04 L451.29,328.07 L453.03,327.13 L454.78,326.24 L456.52,325.4 L458.26,324.63 L460.01,323.94 L461.75,323.25 L463.5,322.58 L465.24,322.41 L466.98,322.25 L468.73,322.09 L470.47,321.93 L472.22,321.76 L473.96,321.6 L475.7,321.44 L477.45,321.28 L479.19,321.12 L480.94,320.95 L482.68,320.79 L484.42,320.63 L486.17,320.47 L487.91,320.31 L489.66,320.14 L491.4,319.98 L493.14,319.82 L494.89,319.66 L496.63,319.49 L498.38,319.33 L500.12,319.17 L501.86,319.01 L503.61,318.84 L505.35,318.68 L507.1,318.52 L508.84,318.35 L510.58,318.18 L512.33,318 L514.07,317.82 L515.82,317.63 L517.56,317.41 L519.3,317.17 L521.05,316.88 L522.79,316.54 L524.54,316.11 L526.28,315.57 L528.02,314.88 L529.77,314 L531.51,312.87 L533.26,311.43 L535,309.62 L536.74,307.38 L538.49,304.66 L540.23,301.41 L541.98,297.6 L543.72,293.23 L545.46,288.34 L547.21,283 L548.95,277.33 L550.7,271.47 L552.44,265.62 L554.18,259.98 L555.93,254.8 L557.67,250.3 L559.42,246.69 L561.16,244.15 L562.9,242.8 L564.65,242.85 L566.39,245.1 L568.14,249.45 L569.88,255.51 L571.62,262.76 L573.37,270.64 L575.11,278.61 L576.86,286.24 L578.6,293.21 L580.34,299.36 L582.09,304.65 L583.83,309.16 L585.58,312.99 L587.32,316.31 L589.06,319.26 L590.81,321.95 L592.55,324.46 L594.3,326.82 L596.04,329.02 L597.78,331.06 L599.53,332.89 L601.27,334.52 L603.02,335.93 L604.76,337.12 L606.5,338.11 L608.25,338.93 L609.99,339.59 L611.74,340.11 L613.48,340.53 L615.22,340.86 L616.97,341.12 L618.71,341.33 L620.46,341.48 L622.2,341.61 L623.94,341.7 L625.69,341.77 L627.43,341.83 L629.18,341.87 L630.92,341.91 L632.66,341.93 L634.41,341.95 L636.15,341.97 L637.9,341.98 L639.64,341.99 L641.38,342 L643.13,342 L644.87,342.01 L646.62,342.01 L648.36,342.01 L650.1,342.01 L651.85,342.02 L653.59,342.02 L655.34,342.02 L657.08,342.02 L658.82,342.02 L660.57,342.02 L662.31,342.02 L664.06,342.02 L665.8,342.02" fill="none" stroke="#e88a3a" stroke-width="0.8" stroke-opacity="1.0" stroke-linejoin="round" />
<path d="M404.2,341.57 L405.07,341.36 L405.94,341.16 L406.82,340.95 L407.69,340.74 L408.56,340.74 L409.43,340.74 L411.18,340.74 L412.92,340.74 L414.66,340.74 L416.41,340.74 L418.15,340.74 L419.9,340.74 L421.64,340.74 L423.38,340.74 L425.13,340.74 L426.87,340.74 L428.62,340.23 L430.36,339.62 L432.1,338.93 L433.85,338.16 L435.59,337.32 L437.34,336.43 L439.08,335.49 L440.82,334.52 L442.57,333.52 L444.31,332.5 L446.06,331.48 L447.8,330.47 L449.54,329.47 L451.29,328.49 L453.03,327.56 L454.78,326.66 L456.52,325.83 L458.26,325.06 L460.01,324.36 L461.75,323.68 L463.5,323.01 L465.24,322.86 L466.98,322.71 L468.73,322.55 L470.47,322.4 L472.22,322.25 L473.96,322.09 L475.7,321.94 L477.45,321.79 L479.19,321.63 L480.94,321.48 L482.68,321.32 L484.42,321.17 L486.17,321.02 L487.91,320.86 L489.66,320.71 L491.4,320.56 L493.14,320.4 L494.89,320.25 L496.63,320.1 L498.38,319.94 L500.12,319.79 L501.86,319.63 L503.61,319.47 L505.35,319.31 L507.1,319.14 L508.84,318.97 L510.58,318.78 L512.33,318.57 L514.07,318.33 L515.82,318.04 L517.56,317.69 L519.3,317.24 L521.05,316.67 L522.79,315.93 L524.54,314.96 L526.28,313.71 L528.02,312.12 L529.77,310.11 L531.51,307.62 L533.26,304.6 L535,301 L536.74,296.82 L538.49,292.07 L540.23,286.82 L541.98,281.18 L543.72,275.29 L545.46,269.37 L547.21,263.63 L548.95,258.32 L550.7,253.71 L552.44,250.01 L554.18,247.45 L555.93,246.15 L557.67,246.34 L559.42,248.72 L561.16,253.22 L562.9,259.45 L564.65,266.92 L566.39,275.08 L568.14,283.41 L569.88,291.49 L571.62,299.01 L573.37,305.77 L575.11,311.71 L576.86,316.84 L578.6,321.22 L580.34,324.92 L582.09,328.05 L583.83,330.66 L585.58,332.85 L587.32,334.66 L589.06,336.14 L590.81,337.35 L592.55,338.33 L594.3,339.12 L596.04,339.75 L597.78,340.24 L599.53,340.64 L601.27,340.95 L603.02,341.19 L604.76,341.37 L606.5,341.52 L608.25,341.63 L609.99,341.72 L611.74,341.79 L613.48,341.84 L615.22,341.88 L616.97,341.91 L618.71,341.94 L620.46,341.96 L622.2,341.97 L623.94,341.98 L625.69,341.99 L627.43,342 L629.18,342 L630.92,342.01 L632.66,342.01 L634.41,342.01 L636.15,342.01 L637.9,342.02 L639.64,342.02 L641.38,342.02 L643.13,342.02 L644.87,342.02 L646.62,342.02 L648.36,342.02 L650.1,342.02 L651.85,342.02 L653.59,342.02 L655.34,342.02 L657.08,342.02 L658.82,342.02 L660.57,342.02 L662.31,342.02 L664.06,342.02 L665.8,342.02" fill="none" stroke="#f09040" stroke-width="0.8" stroke-opacity="1.0" stroke-linejoin="round" />
<path d="M404.2,341.72 L405.07,341.58 L405.94,341.44 L406.82,341.31 L407.69,341.17 L408.56,341.17 L409.43,341.17 L411.18,341.17 L412.92,341.17 L414.66,341.17 L416.41,341.17 L418.15,341.17 L419.9,341.17 L421.64,341.17 L423.38,341.17 L425.13,341.17 L426.87,341.17 L428.62,340.66 L430.36,340.05 L432.1,339.36 L433.85,338.59 L435.59,337.75 L437.34,336.86 L439.08,335.92 L440.82,334.94 L442.57,333.94 L444.31,332.93 L446.06,331.91 L447.8,330.89 L449.54,329.89 L451.29,328.92 L453.03,327.98 L454.78,327.09 L456.52,326.25 L458.26,325.48 L460.01,324.79 L461.75,324.11 L463.5,323.45 L465.24,323.31 L466.98,323.16 L468.73,323.02 L470.47,322.87 L472.22,322.73 L473.96,322.58 L475.7,322.44 L477.45,322.29 L479.19,322.15 L480.94,322 L482.68,321.86 L484.42,321.71 L486.17,321.57 L487.91,321.42 L489.66,321.28 L491.4,321.13 L493.14,320.99 L494.89,320.84 L496.63,320.7 L498.38,320.55 L500.12,320.4 L501.86,320.25 L503.61,320.1 L505.35,319.95 L507.1,319.78 L508.84,319.61 L510.58,319.41 L512.33,319.19 L514.07,318.93 L515.82,318.61 L517.56,318.21 L519.3,317.69 L521.05,317.03 L522.79,316.17 L524.54,315.06 L526.28,313.65 L528.02,311.87 L529.77,309.67 L531.51,307 L533.26,303.83 L535,300.14 L536.74,295.95 L538.49,291.33 L540.23,286.36 L541.98,281.17 L543.72,275.95 L545.46,270.9 L547.21,266.23 L548.95,262.16 L550.7,258.91 L552.44,256.65 L554.18,255.52 L555.93,255.69 L557.67,257.8 L559.42,261.78 L561.16,267.29 L562.9,273.89 L564.65,281.12 L566.39,288.51 L568.14,295.7 L569.88,302.4 L571.62,308.46 L573.37,313.82 L575.11,318.47 L576.86,322.46 L578.6,325.88 L580.34,328.77 L582.09,331.22 L583.83,333.27 L585.58,334.98 L587.32,336.4 L589.06,337.55 L590.81,338.49 L592.55,339.24 L594.3,339.84 L596.04,340.32 L597.78,340.69 L599.53,340.99 L601.27,341.22 L603.02,341.4 L604.76,341.54 L606.5,341.65 L608.25,341.73 L609.99,341.8 L611.74,341.85 L613.48,341.89 L615.22,341.92 L616.97,341.94 L618.71,341.96 L620.46,341.97 L622.2,341.98 L623.94,341.99 L625.69,342 L627.43,342 L629.18,342.01 L630.92,342.01 L632.66,342.01 L634.41,342.01 L636.15,342.02 L637.9,342.02 L639.64,342.02 L641.38,342.02 L643.13,342.02 L644.87,342.02 L646.62,342.02 L648.36,342.02 L650.1,342.02 L651.85,342.02 L653.59,342.02 L655.34,342.02 L657.08,342.02 L658.82,342.02 L660.57,342.02 L662.31,342.02 L664.06,342.02 L665.8,342.02" fill="none" stroke="#f0a060" stroke-width="0.8" stroke-opacity="1.0" stroke-linejoin="round" />
<path d="M404.2,341.27 L405.07,340.93 L405.94,340.58 L406.82,340.23 L407.69,339.89 L408.56,339.89 L409.43,339.89 L411.18,339.89 L412.92,339.89 L414.66,339.89 L416.41,339.89 L418.15,339.89 L419.9,339.89 L421.64,339.89 L423.38,339.89 L425.13,339.89 L426.87,339.89 L428.62,339.39 L430.36,338.8 L432.1,338.12 L433.85,337.37 L435.59,336.55 L437.34,335.68 L439.08,334.77 L440.82,333.82 L442.57,332.84 L444.31,331.85 L446.06,330.85 L447.8,329.86 L449.54,328.89 L451.29,327.94 L453.03,327.02 L454.78,326.15 L456.52,325.34 L458.26,324.58 L460.01,323.91 L461.75,323.24 L463.5,322.59 L465.24,322.43 L466.98,322.28 L468.73,322.13 L470.47,321.97 L472.22,321.82 L473.96,321.67 L475.7,321.51 L477.45,321.36 L479.19,321.21 L480.94,321.05 L482.68,320.9 L484.42,320.74 L486.17,320.59 L487.91,320.44 L489.66,320.28 L491.4,320.13 L493.14,319.98 L494.89,319.82 L496.63,319.67 L498.38,319.51 L500.12,319.36 L501.86,319.2 L503.61,319.05 L505.35,318.88 L507.1,318.72 L508.84,318.54 L510.58,318.36 L512.33,318.15 L514.07,317.91 L515.82,317.63 L517.56,317.29 L519.3,316.87 L521.05,316.33 L522.79,315.64 L524.54,314.76 L526.28,313.64 L528.02,312.23 L529.77,310.47 L531.51,308.32 L533.26,305.74 L535,302.72 L536.74,299.25 L538.49,295.37 L540.23,291.14 L541.98,286.67 L543.72,282.1 L545.46,277.58 L547.21,273.32 L548.95,269.5 L550.7,266.33 L552.44,263.97 L554.18,262.57 L555.93,262.23 L557.67,263.36 L559.42,266.28 L561.16,270.75 L562.9,276.45 L564.65,282.97 L566.39,289.9 L568.14,296.85 L569.88,303.53 L571.62,309.72 L573.37,315.27 L575.11,320.13 L576.86,324.3 L578.6,327.8 L580.34,330.7 L582.09,333.07 L583.83,334.98 L585.58,336.5 L587.32,337.7 L589.06,338.65 L590.81,339.4 L592.55,339.98 L594.3,340.44 L596.04,340.79 L597.78,341.07 L599.53,341.28 L601.27,341.45 L603.02,341.58 L604.76,341.68 L606.5,341.76 L608.25,341.82 L609.99,341.86 L611.74,341.9 L613.48,341.93 L615.22,341.95 L616.97,341.97 L618.71,341.98 L620.46,341.99 L622.2,341.99 L623.94,342 L625.69,342.01 L627.43,342.01 L629.18,342.01 L630.92,342.01 L632.66,342.01 L634.41,342.02 L636.15,342.02 L637.9,342.02 L639.64,342.02 L641.38,342.02 L643.13,342.02 L644.87,342.02 L646.62,342.02 L648.36,342.02 L650.1,342.02 L651.85,342.02 L653.59,342.02 L655.34,342.02 L657.08,342.02 L658.82,342.02 L660.57,342.02 L662.31,342.02 L664.06,342.02 L665.8,342.02" fill="none" stroke="#f07a50" stroke-width="0.8" stroke-opacity="1.0" stroke-linejoin="round" />
<path d="M404.2,340.74 L405.07,340.74 L405.94,340.74 L406.82,340.74 L407.69,340.74 L408.56,340.74 L409.43,340.74 L411.18,340.74 L412.92,340.74 L414.66,340.74 L416.41,340.74 L418.15,340.74 L419.9,340.74 L421.64,340.74 L423.38,340.74 L425.13,340.74 L426.87,340.71 L428.62,340.51 L430.36,340.13 L432.1,339.59 L433.85,338.92 L435.59,338.14 L437.34,337.29 L439.08,336.37 L440.82,335.43 L442.57,334.48 L444.31,333.55 L446.06,332.66 L447.8,331.85 L449.54,331.12 L451.29,330.51 L453.03,330.05 L454.78,329.75 L456.52,329.65 L458.26,329.66 L460.01,329.68 L461.75,329.71 L463.5,329.74 L465.24,329.78 L466.98,329.82 L468.73,329.87 L470.47,329.92 L472.22,329.97 L473.96,330.03 L475.7,330.08 L477.45,330.15 L479.19,330.21 L480.94,330.28 L482.68,330.35 L484.42,330.42 L486.17,330.49 L487.91,330.57 L489.66,330.65 L491.4,330.74 L493.14,330.83 L494.89,330.92 L496.63,331.01 L498.38,331.11 L500.12,331.21 L501.86,331.32 L503.61,331.44 L505.35,331.56 L507.1,331.69 L508.84,331.83 L510.58,331.98 L512.33,332.14 L514.07,332.32 L515.82,332.52 L517.56,332.73 L519.3,332.97 L521.05,333.23 L522.79,333.53 L524.54,333.85 L526.28,334.46 L528.02,334.74 L529.77,335.06 L531.51,335.42 L533.26,335.81 L535,336.22 L536.74,336.64 L538.49,337.07 L540.23,337.5 L541.98,337.91 L543.72,338.3 L545.46,338.65 L547.21,338.97 L548.95,339.26 L550.7,339.51 L552.44,339.72 L554.18,339.9 L555.93,340.05 L557.67,340.18 L559.42,340.29 L561.16,340.37 L562.9,340.44 L564.65,340.5 L566.39,340.55 L568.14,340.58 L569.88,340.61 L571.62,340.64 L573.37,340.66 L575.11,340.67 L576.86,340.69 L578.6,340.7 L580.34,340.71 L582.09,340.71 L583.83,340.72 L585.58,340.72 L587.32,340.73 L589.06,340.73 L590.81,340.73 L592.55,340.73 L594.3,340.73 L596.04,340.74 L597.78,340.74 L599.53,340.74 L601.27,340.74 L603.02,340.74 L604.76,340.74 L606.5,340.74 L608.25,340.74 L609.99,340.74 L611.74,340.74 L613.48,340.74 L615.22,340.74 L616.97,340.74 L618.71,340.74 L620.46,340.74 L622.2,340.74 L623.94,340.74 L625.69,340.74 L627.43,340.74 L629.18,340.74 L630.92,340.74 L632.66,340.74 L634.41,340.74 L636.15,340.74 L637.9,340.74 L639.64,340.74 L641.38,340.74 L643.13,340.74 L644.87,340.74 L646.62,340.74 L648.36,340.74 L650.1,340.74 L651.85,340.74 L653.59,340.74 L655.34,340.74 L657.08,340.74 L658.82,340.74 L660.57,340.74 L662.31,340.74 L664.06,340.74 L665.8,340.74" fill="none" stroke="#2a8a2a" stroke-width="0.9" stroke-opacity="1.0" stroke-linejoin="round" />
<path d="M404.2,340.89 L405.07,340.94 L405.94,341 L406.82,341.06 L407.69,341.13 L408.56,341.2 L409.43,341.28 L411.18,341.45 L412.92,341.62 L414.66,341.78 L416.41,341.95 L418.15,342.09 L419.9,342.22 L421.64,342.32 L423.38,342.4 L425.13,342.44 L426.87,342.45 L428.62,342.42 L430.36,342.36 L432.1,342.27 L433.85,342.15 L435.59,342.01 L437.34,341.86 L439.08,341.69 L440.82,341.52 L442.57,341.35 L444.31,341.2 L446.06,341.05 L447.8,340.93 L449.54,340.84 L451.29,340.77 L453.03,340.74 L454.78,340.75 L456.52,340.78 L458.26,340.85 L460.01,340.95 L461.75,341.07 L463.5,341.22 L465.24,341.38 L466.98,341.54 L468.73,341.72 L470.47,341.88 L472.22,342.03 L473.96,342.17 L475.7,342.28 L477.45,342.37 L479.19,342.42 L480.94,342.45 L482.68,342.43 L484.42,342.39 L486.17,342.31 L487.91,342.2 L489.66,342.07 L491.4,341.92 L493.14,341.76 L494.89,341.59 L496.63,341.42 L498.38,341.26 L500.12,341.11 L501.86,340.98 L503.61,340.87 L505.35,340.8 L507.1,340.75 L508.84,340.74 L510.58,340.76 L512.33,340.82 L514.07,340.9 L515.82,341.02 L517.56,341.15 L519.3,341.31 L521.05,341.47 L522.79,341.64 L524.54,341.81 L526.28,341.97 L528.02,342.12 L529.77,342.24 L531.51,342.34 L533.26,342.41 L535,342.44 L536.74,342.44 L538.49,342.41 L540.23,342.35 L541.98,342.25 L543.72,342.13 L545.46,341.99 L547.21,341.83 L548.95,341.66 L550.7,341.49 L552.44,341.33 L554.18,341.17 L555.93,341.03 L557.67,340.91 L559.42,340.83 L561.16,340.77 L562.9,340.74 L564.65,340.75 L566.39,340.79 L568.14,340.86 L569.88,340.97 L571.62,341.1 L573.37,341.24 L575.11,341.4 L576.86,341.57 L578.6,341.74 L580.34,341.91 L582.09,342.06 L583.83,342.19 L585.58,342.3 L587.32,342.38 L589.06,342.43 L590.81,342.45 L592.55,342.43 L594.3,342.38 L596.04,342.29 L597.78,342.18 L599.53,342.05 L601.27,341.9 L603.02,341.73 L604.76,341.56 L606.5,341.39 L608.25,341.23 L609.99,341.09 L611.74,340.96 L613.48,340.86 L615.22,340.79 L616.97,340.75 L618.71,340.74 L620.46,340.77 L622.2,340.83 L623.94,340.92 L625.69,341.04 L627.43,341.18 L629.18,341.34 L630.92,341.5 L632.66,341.67 L634.41,341.84 L636.15,342 L637.9,342.14 L639.64,342.26 L641.38,342.35 L643.13,342.41 L644.87,342.44 L646.62,342.44 L648.36,342.4 L650.1,342.33 L651.85,342.23 L653.59,342.11 L655.34,341.96 L657.08,341.8 L658.82,341.63 L660.57,341.46 L662.31,341.3 L664.06,341.15 L665.8,341.01" fill="none" stroke="#2a8a2a" stroke-width="1.0" stroke-opacity="1.0" stroke-linejoin="round" />
<line x1="404.2" y1="309.16" x2="665.8" y2="309.16" stroke="#108010" stroke-width="1.6" />
<path d="M390.5,210.5 L679.5,210.5 L679.5,346.5" fill="none" stroke="#6a6a6a" stroke-width="1.6"/>
<path d="M390.5,210.5 L390.5,346.5 L679.5,346.5" fill="none" stroke="#222" stroke-width="1"/>
<line x1="387.5" y1="343.3" x2="394" y2="343.3" stroke="#111" stroke-width="0.9" />
<line x1="389" y1="337.97" x2="392.5" y2="337.97" stroke="#111" stroke-width="0.9" />
<line x1="389" y1="332.63" x2="392.5" y2="332.63" stroke="#111" stroke-width="0.9" />
<line x1="389" y1="327.3" x2="392.5" y2="327.3" stroke="#111" stroke-width="0.9" />
<line x1="387.5" y1="321.97" x2="394" y2="321.97" stroke="#111" stroke-width="0.9" />
<line x1="389" y1="316.63" x2="392.5" y2="316.63" stroke="#111" stroke-width="0.9" />
<line x1="389" y1="311.3" x2="392.5" y2="311.3" stroke="#111" stroke-width="0.9" />
<line x1="389" y1="305.96" x2="392.5" y2="305.96" stroke="#111" stroke-width="0.9" />
<line x1="387.5" y1="300.63" x2="394" y2="300.63" stroke="#111" stroke-width="0.9" />
<line x1="389" y1="295.3" x2="392.5" y2="295.3" stroke="#111" stroke-width="0.9" />
<line x1="389" y1="289.96" x2="392.5" y2="289.96" stroke="#111" stroke-width="0.9" />
<line x1="389" y1="284.63" x2="392.5" y2="284.63" stroke="#111" stroke-width="0.9" />
<line x1="387.5" y1="279.3" x2="394" y2="279.3" stroke="#111" stroke-width="0.9" />
<line x1="389" y1="273.96" x2="392.5" y2="273.96" stroke="#111" stroke-width="0.9" />
<line x1="389" y1="268.63" x2="392.5" y2="268.63" stroke="#111" stroke-width="0.9" />
<line x1="389" y1="263.29" x2="392.5" y2="263.29" stroke="#111" stroke-width="0.9" />
<line x1="387.5" y1="257.96" x2="394" y2="257.96" stroke="#111" stroke-width="0.9" />
<line x1="389" y1="252.63" x2="392.5" y2="252.63" stroke="#111" stroke-width="0.9" />
<line x1="389" y1="247.29" x2="392.5" y2="247.29" stroke="#111" stroke-width="0.9" />
<line x1="389" y1="241.96" x2="392.5" y2="241.96" stroke="#111" stroke-width="0.9" />
<line x1="387.5" y1="236.62" x2="394" y2="236.62" stroke="#111" stroke-width="0.9" />
<line x1="389" y1="231.29" x2="392.5" y2="231.29" stroke="#111" stroke-width="0.9" />
<line x1="389" y1="225.96" x2="392.5" y2="225.96" stroke="#111" stroke-width="0.9" />
<line x1="389" y1="220.62" x2="392.5" y2="220.62" stroke="#111" stroke-width="0.9" />
<line x1="387.5" y1="215.29" x2="394" y2="215.29" stroke="#111" stroke-width="0.9" />
<line x1="395.48" y1="344.5" x2="395.48" y2="348" stroke="#111" stroke-width="0.9" />
<line x1="395.48" y1="210.5" x2="395.48" y2="212.5" stroke="#111" stroke-width="0.7" />
<line x1="404.2" y1="343.5" x2="404.2" y2="349.5" stroke="#111" stroke-width="0.9" />
<line x1="404.2" y1="210.5" x2="404.2" y2="212.5" stroke="#111" stroke-width="0.7" />
<line x1="412.92" y1="344.5" x2="412.92" y2="348" stroke="#111" stroke-width="0.9" />
<line x1="412.92" y1="210.5" x2="412.92" y2="212.5" stroke="#111" stroke-width="0.7" />
<line x1="421.64" y1="344.5" x2="421.64" y2="348" stroke="#111" stroke-width="0.9" />
<line x1="421.64" y1="210.5" x2="421.64" y2="212.5" stroke="#111" stroke-width="0.7" />
<line x1="430.36" y1="344.5" x2="430.36" y2="348" stroke="#111" stroke-width="0.9" />
<line x1="430.36" y1="210.5" x2="430.36" y2="212.5" stroke="#111" stroke-width="0.7" />
<line x1="439.08" y1="344.5" x2="439.08" y2="348" stroke="#111" stroke-width="0.9" />
<line x1="439.08" y1="210.5" x2="439.08" y2="212.5" stroke="#111" stroke-width="0.7" />
<line x1="447.8" y1="343.5" x2="447.8" y2="349.5" stroke="#111" stroke-width="0.9" />
<line x1="447.8" y1="210.5" x2="447.8" y2="212.5" stroke="#111" stroke-width="0.7" />
<line x1="456.52" y1="344.5" x2="456.52" y2="348" stroke="#111" stroke-width="0.9" />
<line x1="456.52" y1="210.5" x2="456.52" y2="212.5" stroke="#111" stroke-width="0.7" />
<line x1="465.24" y1="344.5" x2="465.24" y2="348" stroke="#111" stroke-width="0.9" />
<line x1="465.24" y1="210.5" x2="465.24" y2="212.5" stroke="#111" stroke-width="0.7" />
<line x1="473.96" y1="344.5" x2="473.96" y2="348" stroke="#111" stroke-width="0.9" />
<line x1="473.96" y1="210.5" x2="473.96" y2="212.5" stroke="#111" stroke-width="0.7" />
<line x1="482.68" y1="344.5" x2="482.68" y2="348" stroke="#111" stroke-width="0.9" />
<line x1="482.68" y1="210.5" x2="482.68" y2="212.5" stroke="#111" stroke-width="0.7" />
<line x1="491.4" y1="343.5" x2="491.4" y2="349.5" stroke="#111" stroke-width="0.9" />
<line x1="491.4" y1="210.5" x2="491.4" y2="212.5" stroke="#111" stroke-width="0.7" />
<line x1="500.12" y1="344.5" x2="500.12" y2="348" stroke="#111" stroke-width="0.9" />
<line x1="500.12" y1="210.5" x2="500.12" y2="212.5" stroke="#111" stroke-width="0.7" />
<line x1="508.84" y1="344.5" x2="508.84" y2="348" stroke="#111" stroke-width="0.9" />
<line x1="508.84" y1="210.5" x2="508.84" y2="212.5" stroke="#111" stroke-width="0.7" />
<line x1="517.56" y1="344.5" x2="517.56" y2="348" stroke="#111" stroke-width="0.9" />
<line x1="517.56" y1="210.5" x2="517.56" y2="212.5" stroke="#111" stroke-width="0.7" />
<line x1="526.28" y1="344.5" x2="526.28" y2="348" stroke="#111" stroke-width="0.9" />
<line x1="526.28" y1="210.5" x2="526.28" y2="212.5" stroke="#111" stroke-width="0.7" />
<line x1="535" y1="343.5" x2="535" y2="349.5" stroke="#111" stroke-width="0.9" />
<line x1="535" y1="210.5" x2="535" y2="212.5" stroke="#111" stroke-width="0.7" />
<line x1="543.72" y1="344.5" x2="543.72" y2="348" stroke="#111" stroke-width="0.9" />
<line x1="543.72" y1="210.5" x2="543.72" y2="212.5" stroke="#111" stroke-width="0.7" />
<line x1="552.44" y1="344.5" x2="552.44" y2="348" stroke="#111" stroke-width="0.9" />
<line x1="552.44" y1="210.5" x2="552.44" y2="212.5" stroke="#111" stroke-width="0.7" />
<line x1="561.16" y1="344.5" x2="561.16" y2="348" stroke="#111" stroke-width="0.9" />
<line x1="561.16" y1="210.5" x2="561.16" y2="212.5" stroke="#111" stroke-width="0.7" />
<line x1="569.88" y1="344.5" x2="569.88" y2="348" stroke="#111" stroke-width="0.9" />
<line x1="569.88" y1="210.5" x2="569.88" y2="212.5" stroke="#111" stroke-width="0.7" />
<line x1="578.6" y1="343.5" x2="578.6" y2="349.5" stroke="#111" stroke-width="0.9" />
<line x1="578.6" y1="210.5" x2="578.6" y2="212.5" stroke="#111" stroke-width="0.7" />
<line x1="587.32" y1="344.5" x2="587.32" y2="348" stroke="#111" stroke-width="0.9" />
<line x1="587.32" y1="210.5" x2="587.32" y2="212.5" stroke="#111" stroke-width="0.7" />
<line x1="596.04" y1="344.5" x2="596.04" y2="348" stroke="#111" stroke-width="0.9" />
<line x1="596.04" y1="210.5" x2="596.04" y2="212.5" stroke="#111" stroke-width="0.7" />
<line x1="604.76" y1="344.5" x2="604.76" y2="348" stroke="#111" stroke-width="0.9" />
<line x1="604.76" y1="210.5" x2="604.76" y2="212.5" stroke="#111" stroke-width="0.7" />
<line x1="613.48" y1="344.5" x2="613.48" y2="348" stroke="#111" stroke-width="0.9" />
<line x1="613.48" y1="210.5" x2="613.48" y2="212.5" stroke="#111" stroke-width="0.7" />
<line x1="622.2" y1="343.5" x2="622.2" y2="349.5" stroke="#111" stroke-width="0.9" />
<line x1="622.2" y1="210.5" x2="622.2" y2="212.5" stroke="#111" stroke-width="0.7" />
<line x1="630.92" y1="344.5" x2="630.92" y2="348" stroke="#111" stroke-width="0.9" />
<line x1="630.92" y1="210.5" x2="630.92" y2="212.5" stroke="#111" stroke-width="0.7" />
<line x1="639.64" y1="344.5" x2="639.64" y2="348" stroke="#111" stroke-width="0.9" />
<line x1="639.64" y1="210.5" x2="639.64" y2="212.5" stroke="#111" stroke-width="0.7" />
<line x1="648.36" y1="344.5" x2="648.36" y2="348" stroke="#111" stroke-width="0.9" />
<line x1="648.36" y1="210.5" x2="648.36" y2="212.5" stroke="#111" stroke-width="0.7" />
<line x1="657.08" y1="344.5" x2="657.08" y2="348" stroke="#111" stroke-width="0.9" />
<line x1="657.08" y1="210.5" x2="657.08" y2="212.5" stroke="#111" stroke-width="0.7" />
<line x1="665.8" y1="343.5" x2="665.8" y2="349.5" stroke="#111" stroke-width="0.9" />
<line x1="665.8" y1="210.5" x2="665.8" y2="212.5" stroke="#111" stroke-width="0.7" />
<line x1="674.52" y1="344.5" x2="674.52" y2="348" stroke="#111" stroke-width="0.9" />
<line x1="674.52" y1="210.5" x2="674.52" y2="212.5" stroke="#111" stroke-width="0.7" />
<text x="385.5" y="345.46" font-family="Liberation Sans" font-size="6" font-weight="normal" font-style="normal" text-anchor="end" fill="#333" >0</text>
<text x="385.5" y="324.13" font-family="Liberation Sans" font-size="6" font-weight="normal" font-style="normal" text-anchor="end" fill="#333" >50</text>
<text x="385.5" y="302.79" font-family="Liberation Sans" font-size="6" font-weight="normal" font-style="normal" text-anchor="end" fill="#333" >100</text>
<text x="385.5" y="281.46" font-family="Liberation Sans" font-size="6" font-weight="normal" font-style="normal" text-anchor="end" fill="#333" >150</text>
<text x="385.5" y="260.12" font-family="Liberation Sans" font-size="6" font-weight="normal" font-style="normal" text-anchor="end" fill="#333" >200</text>
<text x="385.5" y="238.78" font-family="Liberation Sans" font-size="6" font-weight="normal" font-style="normal" text-anchor="end" fill="#333" >250</text>
<text x="385.5" y="217.45" font-family="Liberation Sans" font-size="6" font-weight="normal" font-style="normal" text-anchor="end" fill="#333" >300</text>
<text x="404.2" y="357.5" font-family="Liberation Sans" font-size="6" font-weight="normal" font-style="normal" text-anchor="middle" fill="#333" >65</text>
<text x="447.8" y="357.5" font-family="Liberation Sans" font-size="6" font-weight="normal" font-style="normal" text-anchor="middle" fill="#333" >70</text>
<text x="491.4" y="357.5" font-family="Liberation Sans" font-size="6" font-weight="normal" font-style="normal" text-anchor="middle" fill="#333" >75</text>
<text x="535" y="357.5" font-family="Liberation Sans" font-size="6" font-weight="normal" font-style="normal" text-anchor="middle" fill="#333" >80</text>
<text x="578.6" y="357.5" font-family="Liberation Sans" font-size="6" font-weight="normal" font-style="normal" text-anchor="middle" fill="#333" >85</text>
<text x="622.2" y="357.5" font-family="Liberation Sans" font-size="6" font-weight="normal" font-style="normal" text-anchor="middle" fill="#333" >90</text>
<text x="665.8" y="357.5" font-family="Liberation Sans" font-size="6" font-weight="normal" font-style="normal" text-anchor="middle" fill="#333" >95</text>
<text x="524.9" y="203" font-family="Liberation Sans" font-size="5.6" font-weight="bold" font-style="normal" text-anchor="middle" fill="#223" >Melt Peak</text>
<text x="369" y="279" font-family="Liberation Sans" font-size="6" font-weight="bold" font-style="normal" text-anchor="middle" fill="#222" transform="rotate(-90 369 279)" >-d(RFU)/dT</text>
<text x="534.7" y="369.5" font-family="Liberation Sans" font-size="5.5" font-weight="bold" font-style="normal" text-anchor="middle" fill="#334" >Temperature, Celsius</text>
<text x="357.8" y="213.9" font-family="Liberation Sans" font-size="17.8" font-weight="bold" font-style="normal" text-anchor="start" fill="#000" >f</text>
<rect x="20" y="409.7" width="285.5" height="157.3" fill="url(#gcbg)"/>
<rect x="53.8" y="426" width="18" height="6" rx="1.5" fill="#ebebeb" stroke="#d2d2d2" stroke-width="1" filter="url(#bl05)"/>
<rect x="78.2" y="426" width="18" height="6" rx="1.5" fill="#ebebeb" stroke="#d2d2d2" stroke-width="1" filter="url(#bl05)"/>
<rect x="101" y="426" width="18" height="6" rx="1.5" fill="#ebebeb" stroke="#d2d2d2" stroke-width="1" filter="url(#bl05)"/>
<rect x="123.8" y="426" width="18" height="6" rx="1.5" fill="#ebebeb" stroke="#d2d2d2" stroke-width="1" filter="url(#bl05)"/>
<rect x="146.6" y="426" width="18" height="6" rx="1.5" fill="#ebebeb" stroke="#d2d2d2" stroke-width="1" filter="url(#bl05)"/>
<rect x="169.4" y="426" width="18" height="6" rx="1.5" fill="#ebebeb" stroke="#d2d2d2" stroke-width="1" filter="url(#bl05)"/>
<rect x="192.2" y="426" width="18" height="6" rx="1.5" fill="#ebebeb" stroke="#d2d2d2" stroke-width="1" filter="url(#bl05)"/>
<rect x="215" y="426" width="18" height="6" rx="1.5" fill="#ebebeb" stroke="#d2d2d2" stroke-width="1" filter="url(#bl05)"/>
<rect x="237.8" y="426" width="18" height="6" rx="1.5" fill="#ebebeb" stroke="#d2d2d2" stroke-width="1" filter="url(#bl05)"/>
<rect x="260.6" y="426" width="18" height="6" rx="1.5" fill="#ebebeb" stroke="#d2d2d2" stroke-width="1" filter="url(#bl05)"/>
<rect x="283.4" y="426" width="18" height="6" rx="1.5" fill="#ebebeb" stroke="#d2d2d2" stroke-width="1" filter="url(#bl05)"/>
<rect x="55.25" y="444" width="19.5" height="14" rx="7" fill="#bdbdbd" fill-opacity="1" filter="url(#bl1)"/>
<rect x="55.5" y="444.7" width="19" height="1.6" rx="0.8" fill="#b2b2b2" fill-opacity="1" filter="url(#bl1)"/>
<rect x="55.5" y="448.2" width="19" height="1.6" rx="0.8" fill="#b0b0b0" fill-opacity="1" filter="url(#bl1)"/>
<rect x="55.5" y="451.8" width="19" height="1.6" rx="0.8" fill="#b4b4b4" fill-opacity="1" filter="url(#bl1)"/>
<rect x="55.5" y="454.8" width="19" height="2.4" rx="1.2" fill="#7e7e7e" fill-opacity="1" filter="url(#bl1)"/>
<rect x="55.5" y="459.3" width="19" height="2" rx="1" fill="#b8b8b8" fill-opacity="1" filter="url(#bl1)"/>
<rect x="55.5" y="463.2" width="19" height="2" rx="1" fill="#b8b8b8" fill-opacity="1" filter="url(#bl1)"/>
<rect x="55.5" y="469" width="19" height="2" rx="1" fill="#c2c2c2" fill-opacity="1" filter="url(#bl1)"/>
<rect x="79" y="447" width="54" height="23" rx="11" fill="#d2d2d2" filter="url(#bl3)"/>
<rect x="79.2" y="458.6" width="16" height="1.8" rx="0.9" fill="#c4c4c4" fill-opacity="1" filter="url(#bl1)"/>
<rect x="102" y="458.6" width="16" height="1.8" rx="0.9" fill="#c6c6c6" fill-opacity="1" filter="url(#bl1)"/>
<rect x="125.8" y="456" width="14" height="20" fill="#d3d3d3" fill-opacity="0.5" filter="url(#bl2)"/>
<rect x="148.6" y="456" width="14" height="20" fill="#d3d3d3" fill-opacity="0.9" filter="url(#bl2)"/>
<rect x="261.1" y="448" width="17" height="27" fill="#c8c8c8" filter="url(#bl2)"/>
<rect x="261.1" y="463" width="17" height="3" rx="1.5" fill="#b8b8b8" fill-opacity="1" filter="url(#bl1)"/>
<rect x="261.1" y="456.4" width="17" height="2.2" rx="1.1" fill="#c2c2c2" fill-opacity="1" filter="url(#bl1)"/>
<rect x="283.9" y="448" width="17" height="27" fill="#c8c8c8" filter="url(#bl2)"/>
<rect x="283.9" y="463" width="17" height="3" rx="1.5" fill="#b8b8b8" fill-opacity="1" filter="url(#bl1)"/>
<rect x="283.9" y="456.4" width="17" height="2.2" rx="1.1" fill="#c2c2c2" fill-opacity="1" filter="url(#bl1)"/>
<rect x="80.95" y="479.7" width="18.5" height="4.2" rx="2.1" fill="#b4b4b4" fill-opacity="1" filter="url(#bl1)"/>
<rect x="103.48" y="479.7" width="18.5" height="4.2" rx="2.1" fill="#b8b8b8" fill-opacity="1" filter="url(#bl1)"/>
<rect x="126.01" y="479.6" width="18.5" height="4.4" rx="2.2" fill="#2c2c2c" fill-opacity="1" filter="url(#bl1)"/>
<rect x="148.54" y="479.6" width="18.5" height="4.4" rx="2.2" fill="#303030" fill-opacity="1" filter="url(#bl1)"/>
<rect x="171.07" y="479.7" width="18.5" height="4.2" rx="2.1" fill="#5a5a5a" fill-opacity="1" filter="url(#bl1)"/>
<rect x="193.6" y="479.7" width="18.5" height="4.2" rx="2.1" fill="#505050" fill-opacity="1" filter="url(#bl1)"/>
<rect x="216.13" y="479.7" width="18.5" height="4.2" rx="2.1" fill="#6a6a6a" fill-opacity="1" filter="url(#bl1)"/>
<rect x="238.66" y="479.7" width="18.5" height="4.2" rx="2.1" fill="#6a6a6a" fill-opacity="1" filter="url(#bl1)"/>
<rect x="261.19" y="478.6" width="18.5" height="4.4" rx="2.2" fill="#0c0c0c" fill-opacity="1" filter="url(#bl1)"/>
<rect x="283.72" y="478.6" width="18.5" height="4.4" rx="2.2" fill="#0e0e0e" fill-opacity="1" filter="url(#bl1)"/>
<text x="27.2" y="482.9" font-family="Liberation Sans" font-size="6.6" font-weight="bold" font-style="normal" text-anchor="start" fill="#111" textLength="10" lengthAdjust="spacingAndGlyphs">100</text>
<text x="25.8" y="489.2" font-family="Liberation Sans" font-size="6.6" font-weight="bold" font-style="normal" text-anchor="start" fill="#111" textLength="10.4" lengthAdjust="spacingAndGlyphs">~70</text>
<line x1="42" y1="480.3" x2="55.5" y2="480.3" stroke="#111" stroke-width="1.2" />
<path d="M37.5,480.3 L43.3,477.9 L43.3,482.7 Z" fill="#111"/>
<line x1="48" y1="486.4" x2="75.7" y2="484.2" stroke="#111" stroke-width="1.2" />
<path d="M43.4,486.9 L49.2,484.1 L49.6,489.1 Z" fill="#111"/>
<text x="0" y="0" transform="translate(93.88 554.1) rotate(-90) scale(0.7097 1)" font-family="Liberation Sans" font-size="9.4" font-weight="bold" fill="#111" stroke="#111" stroke-width="0.28">btab-miR-124-novel</text>
<text x="0" y="0" transform="translate(114.58 551.3) rotate(-90) scale(0.7699 1)" font-family="Liberation Sans" font-size="9.4" font-weight="bold" fill="#111" stroke="#111" stroke-width="0.28">btab-miR-novel-1</text>
<text x="0" y="0" transform="translate(138.28 560) rotate(-90) scale(0.7847 1)" font-family="Liberation Sans" font-size="9.4" font-weight="bold" fill="#111" stroke="#111" stroke-width="0.28">btab-miR-10-novel-b</text>
<text x="0" y="0" transform="translate(159.58 563) rotate(-90) scale(0.7910 1)" font-family="Liberation Sans" font-size="9.4" font-weight="bold" fill="#111" stroke="#111" stroke-width="0.28">btab-miR-92a-novel-a</text>
<text x="0" y="0" transform="translate(182.68 552) rotate(-90) scale(0.7946 1)" font-family="Liberation Sans" font-size="9.4" font-weight="bold" fill="#111" stroke="#111" stroke-width="0.28">btab-miR-novel-3</text>
<text x="0" y="0" transform="translate(207.98 554) rotate(-90) scale(0.7806 1)" font-family="Liberation Sans" font-size="9.4" font-weight="bold" fill="#111" stroke="#111" stroke-width="0.28">btab-miR-novel-13</text>
<text x="0" y="0" transform="translate(225.38 561.4) rotate(-90) scale(0.7792 1)" font-family="Liberation Sans" font-size="9.4" font-weight="bold" fill="#111" stroke="#111" stroke-width="0.28">btab-miR-263-novel-</text>
<text x="0" y="0" transform="translate(250.68 554.4) rotate(-90) scale(0.7682 1)" font-family="Liberation Sans" font-size="9.4" font-weight="bold" fill="#111" stroke="#111" stroke-width="0.28">btab-miR-754-novel</text>
<text x="0" y="0" transform="translate(274.98 548) rotate(-90) scale(0.7725 1)" font-family="Liberation Sans" font-size="9.4" font-weight="bold" fill="#111" stroke="#111" stroke-width="0.28">btab-miR-1-novel</text>
<text x="0" y="0" transform="translate(296.78 559.4) rotate(-90) scale(0.7788 1)" font-family="Liberation Sans" font-size="9.4" font-weight="bold" fill="#111" stroke="#111" stroke-width="0.28">btab-miR-2765-novel</text>
<rect x="95" y="549.8" width="1.6" height="1.6" fill="#222"/>
<text x="229.4" y="562.5" font-family="Liberation Sans" font-size="9" font-weight="bold" font-style="normal" text-anchor="start" fill="#111" >a</text>
<text x="2.5" y="402.5" font-family="Liberation Sans" font-size="17.8" font-weight="bold" font-style="normal" text-anchor="start" fill="#000" >c</text>
<rect x="371.5" y="390" width="313.5" height="177.5" fill="url(#ggbg)"/>
<rect x="403.3" y="404.4" width="19" height="2.2" fill="#f6f6f6" fill-opacity="0.85" filter="url(#bl05)"/>
<rect x="428.5" y="404.1" width="18" height="2.2" fill="#f6f6f6" fill-opacity="0.85" filter="url(#bl05)"/>
<rect x="454.22" y="403.8" width="18" height="2.2" fill="#f6f6f6" fill-opacity="0.85" filter="url(#bl05)"/>
<rect x="479.94" y="403.5" width="18" height="2.2" fill="#f6f6f6" fill-opacity="0.85" filter="url(#bl05)"/>
<rect x="505.66" y="403.2" width="18" height="2.2" fill="#f6f6f6" fill-opacity="0.85" filter="url(#bl05)"/>
<rect x="531.38" y="402.9" width="18" height="2.2" fill="#f6f6f6" fill-opacity="0.85" filter="url(#bl05)"/>
<rect x="557.1" y="402.6" width="18" height="2.2" fill="#f6f6f6" fill-opacity="0.85" filter="url(#bl05)"/>
<rect x="582.82" y="402.3" width="18" height="2.2" fill="#f6f6f6" fill-opacity="0.85" filter="url(#bl05)"/>
<rect x="608.54" y="402" width="18" height="2.2" fill="#f6f6f6" fill-opacity="0.85" filter="url(#bl05)"/>
<rect x="634.26" y="401.7" width="18" height="2.2" fill="#f6f6f6" fill-opacity="0.85" filter="url(#bl05)"/>
<rect x="659.98" y="401.4" width="18" height="2.2" fill="#f6f6f6" fill-opacity="0.85" filter="url(#bl05)"/>
<rect x="685.7" y="401.1" width="18" height="2.2" fill="#f6f6f6" fill-opacity="0.85" filter="url(#bl05)"/>
<rect x="403.55" y="435.5" width="18.5" height="15" rx="7.5" fill="#a4a4a4" fill-opacity="1" filter="url(#bl1)"/>
<rect x="403.3" y="420.5" width="19" height="2.4" rx="1.2" fill="#6a6a6a" fill-opacity="1" filter="url(#bl05)"/>
<rect x="403.3" y="429.4" width="19" height="2.4" rx="1.2" fill="#6c6c6c" fill-opacity="1" filter="url(#bl05)"/>
<rect x="403.3" y="436.1" width="19" height="2.2" rx="1.1" fill="#626262" fill-opacity="1" filter="url(#bl05)"/>
<rect x="403.3" y="439.3" width="19" height="1.8" rx="0.9" fill="#6a6a6a" fill-opacity="1" filter="url(#bl05)"/>
<rect x="403.3" y="442.5" width="19" height="2" rx="1" fill="#646464" fill-opacity="1" filter="url(#bl05)"/>
<rect x="403.3" y="446.2" width="19" height="2" rx="1" fill="#686868" fill-opacity="1" filter="url(#bl05)"/>
<rect x="403.3" y="449.6" width="19" height="1.8" rx="0.9" fill="#7a7a7a" fill-opacity="1" filter="url(#bl05)"/>
<rect x="403.3" y="453.1" width="19" height="1.8" rx="0.9" fill="#989898" fill-opacity="1" filter="url(#bl05)"/>
<rect x="403.3" y="457.1" width="19" height="1.8" rx="0.9" fill="#a6a6a6" fill-opacity="1" filter="url(#bl05)"/>
<rect x="403.3" y="462.2" width="19" height="2.2" rx="1.1" fill="#b0b0b0" fill-opacity="1" filter="url(#bl05)"/>
<rect x="428.5" y="461.4" width="18" height="4.8" rx="2.4" fill="#a6a6a6" fill-opacity="1" filter="url(#bl2)"/>
<rect x="454.22" y="461.1" width="18" height="4.8" rx="2.4" fill="#a8a8a8" fill-opacity="1" filter="url(#bl2)"/>
<rect x="479.94" y="460.8" width="18" height="4.8" rx="2.4" fill="#9c9c9c" fill-opacity="1" filter="url(#bl2)"/>
<rect x="505.66" y="460.5" width="18" height="4.8" rx="2.4" fill="#a0a0a0" fill-opacity="1" filter="url(#bl2)"/>
<rect x="531.38" y="460.2" width="18" height="4.8" rx="2.4" fill="#a4a4a4" fill-opacity="1" filter="url(#bl2)"/>
<rect x="557.1" y="459.9" width="18" height="4.8" rx="2.4" fill="#989898" fill-opacity="1" filter="url(#bl2)"/>
<rect x="582.82" y="459.6" width="18" height="4.8" rx="2.4" fill="#a0a0a0" fill-opacity="1" filter="url(#bl2)"/>
<rect x="608.54" y="459.3" width="18" height="4.8" rx="2.4" fill="#a2a2a2" fill-opacity="1" filter="url(#bl2)"/>
<rect x="634.26" y="459" width="18" height="4.8" rx="2.4" fill="#a0a0a0" fill-opacity="1" filter="url(#bl2)"/>
<rect x="659.98" y="458.7" width="18" height="4.8" rx="2.4" fill="#a6a6a6" fill-opacity="1" filter="url(#bl2)"/>
<rect x="685.7" y="458.4" width="18" height="4.8" rx="2.4" fill="#a8a8a8" fill-opacity="1" filter="url(#bl2)"/>
<text x="0" y="0" transform="translate(444.24 546) rotate(-90) scale(0.8253 1)" font-family="Liberation Sans" font-size="9.0" font-weight="bold" fill="#111" stroke="#111" stroke-width="0.28">btab-miR-10-novel-b</text>
<text x="0" y="0" transform="translate(470.84 548.3) rotate(-90) scale(0.8174 1)" font-family="Liberation Sans" font-size="9.0" font-weight="bold" fill="#111" stroke="#111" stroke-width="0.28">btab-miR-92a-novel-a</text>
<text x="0" y="0" transform="translate(494.64 539.6) rotate(-90) scale(0.8204 1)" font-family="Liberation Sans" font-size="9.0" font-weight="bold" fill="#111" stroke="#111" stroke-width="0.28">btab-miR-novel-1</text>
<text x="0" y="0" transform="translate(517.54 539.6) rotate(-90) scale(0.8204 1)" font-family="Liberation Sans" font-size="9.0" font-weight="bold" fill="#111" stroke="#111" stroke-width="0.28">btab-miR-novel-3</text>
<text x="0" y="0" transform="translate(546.04 546) rotate(-90) scale(0.8263 1)" font-family="Liberation Sans" font-size="9.0" font-weight="bold" fill="#111" stroke="#111" stroke-width="0.28">btab-miR-754-novel</text>
<text x="0" y="0" transform="translate(570.94 539) rotate(-90) scale(0.8191 1)" font-family="Liberation Sans" font-size="9.0" font-weight="bold" fill="#111" stroke="#111" stroke-width="0.28">btab-miR-novel-1</text>
<text x="0" y="0" transform="translate(595.74 544.5) rotate(-90) scale(0.8104 1)" font-family="Liberation Sans" font-size="9.0" font-weight="bold" fill="#111" stroke="#111" stroke-width="0.28">btab-miR-10-novel-b</text>
<text x="0" y="0" transform="translate(623.44 547.6) rotate(-90) scale(0.8185 1)" font-family="Liberation Sans" font-size="9.0" font-weight="bold" fill="#111" stroke="#111" stroke-width="0.28">btab-miR-92a-novel-a</text>
<text x="0" y="0" transform="translate(647.54 537.5) rotate(-90) scale(0.8068 1)" font-family="Liberation Sans" font-size="9.0" font-weight="bold" fill="#111" stroke="#111" stroke-width="0.28">btab-miR-novel-3</text>
<text x="0" y="0" transform="translate(673.64 542.6) rotate(-90) scale(0.8263 1)" font-family="Liberation Sans" font-size="9.0" font-weight="bold" fill="#111" stroke="#111" stroke-width="0.28">btab-miR-754-novel</text>
<path d="M437.6,547 L437.6,554.1 L540.4,554.1 L540.4,548" fill="none" stroke="#111" stroke-width="1.1"/>
<path d="M565.5,547.6 L565.5,554.1 L669,554.1 L669,547.6" fill="none" stroke="#111" stroke-width="1.1"/>
<text x="449.3" y="564.3" font-family="Liberation Serif" font-size="8.6" font-weight="normal" font-style="italic" text-anchor="start" fill="#c0141c" textLength="64.3" lengthAdjust="spacingAndGlyphs">Amrasca biguttula</text>
<text x="592" y="564" font-family="Liberation Serif" font-size="8.6" font-weight="normal" font-style="italic" text-anchor="start" fill="#c0141c" textLength="46.5" lengthAdjust="spacingAndGlyphs">Aphis gosypii</text>
<text x="350.5" y="403.2" font-family="Liberation Sans" font-size="17.8" font-weight="bold" font-style="normal" text-anchor="start" fill="#000" >g</text>
<line x1="64.7" y1="606" x2="64.7" y2="748.6" stroke="#ff2a2a" stroke-width="1.3" />
<line x1="64" y1="747.9" x2="278" y2="747.9" stroke="#ff2a2a" stroke-width="1.3" />
<line x1="59.5" y1="748" x2="64.7" y2="748" stroke="#ff2a2a" stroke-width="1.3" />
<text x="57.6" y="751.6" font-family="Liberation Sans" font-size="10" font-weight="bold" font-style="normal" text-anchor="end" fill="#111" >0</text>
<line x1="59.5" y1="712.6" x2="64.7" y2="712.6" stroke="#ff2a2a" stroke-width="1.3" />
<text x="57.6" y="716.2" font-family="Liberation Sans" font-size="10" font-weight="bold" font-style="normal" text-anchor="end" fill="#111" >10</text>
<line x1="59.5" y1="677.2" x2="64.7" y2="677.2" stroke="#ff2a2a" stroke-width="1.3" />
<text x="57.6" y="680.8" font-family="Liberation Sans" font-size="10" font-weight="bold" font-style="normal" text-anchor="end" fill="#111" >20</text>
<line x1="59.5" y1="641.8" x2="64.7" y2="641.8" stroke="#ff2a2a" stroke-width="1.3" />
<text x="57.6" y="645.4" font-family="Liberation Sans" font-size="10" font-weight="bold" font-style="normal" text-anchor="end" fill="#111" >30</text>
<line x1="59.5" y1="606.4" x2="64.7" y2="606.4" stroke="#ff2a2a" stroke-width="1.3" />
<text x="57.6" y="610" font-family="Liberation Sans" font-size="10" font-weight="bold" font-style="normal" text-anchor="end" fill="#111" >40</text>
<rect x="72.9" y="675.43" width="12.4" height="72.47" fill="#bb00bb" stroke="#4c3a78" stroke-width="0.9"/>
<line x1="79.1" y1="747.9" x2="79.1" y2="753.2" stroke="#ff2a2a" stroke-width="1.3" />
<circle cx="75.6" cy="675.43" r="2.5" fill="#9a98c0" stroke="#5a5080" stroke-width="0.7"/>
<circle cx="79.1" cy="673.63" r="2.5" fill="#9a98c0" stroke="#5a5080" stroke-width="0.7"/>
<circle cx="82.6" cy="675.23" r="2.5" fill="#9a98c0" stroke="#5a5080" stroke-width="0.7"/>
<circle cx="78.6" cy="675.23" r="1.2" fill="#c8f4f4"/>
<text x="82.5" y="764.2" transform="rotate(-44 82.5 764.2)" font-family="Liberation Sans" font-size="10.7" font-weight="bold" text-anchor="end" fill="#111">btab-miR-10-novel-b</text>
<rect x="93.38" y="666.58" width="12.4" height="81.32" fill="#ff4444" stroke="#4c3a78" stroke-width="0.9"/>
<line x1="99.58" y1="747.9" x2="99.58" y2="753.2" stroke="#ff2a2a" stroke-width="1.3" />
<circle cx="96.08" cy="666.58" r="2.5" fill="#9a98c0" stroke="#5a5080" stroke-width="0.7"/>
<circle cx="99.58" cy="664.78" r="2.5" fill="#9a98c0" stroke="#5a5080" stroke-width="0.7"/>
<circle cx="103.08" cy="666.38" r="2.5" fill="#9a98c0" stroke="#5a5080" stroke-width="0.7"/>
<circle cx="99.08" cy="666.38" r="1.2" fill="#c8f4f4"/>
<text x="102.98" y="764.2" transform="rotate(-44 102.98 764.2)" font-family="Liberation Sans" font-size="10.7" font-weight="bold" text-anchor="end" fill="#111">btab-miR-754-novel</text>
<rect x="113.86" y="675.78" width="12.4" height="72.12" fill="#ff8000" stroke="#4c3a78" stroke-width="0.9"/>
<line x1="120.06" y1="747.9" x2="120.06" y2="753.2" stroke="#ff2a2a" stroke-width="1.3" />
<circle cx="116.56" cy="675.78" r="2.5" fill="#9a98c0" stroke="#5a5080" stroke-width="0.7"/>
<circle cx="120.06" cy="673.98" r="2.5" fill="#9a98c0" stroke="#5a5080" stroke-width="0.7"/>
<circle cx="123.56" cy="675.58" r="2.5" fill="#9a98c0" stroke="#5a5080" stroke-width="0.7"/>
<circle cx="119.56" cy="675.58" r="1.2" fill="#c8f4f4"/>
<text x="123.46" y="764.2" transform="rotate(-44 123.46 764.2)" font-family="Liberation Sans" font-size="10.7" font-weight="bold" text-anchor="end" fill="#111">btab-miR-92a-novel-a</text>
<rect x="134.34" y="698.09" width="12.4" height="49.81" fill="#8c8cff" stroke="#4c3a78" stroke-width="0.9"/>
<line x1="140.54" y1="747.9" x2="140.54" y2="753.2" stroke="#ff2a2a" stroke-width="1.3" />
<circle cx="137.04" cy="698.09" r="2.5" fill="#9a98c0" stroke="#5a5080" stroke-width="0.7"/>
<circle cx="140.54" cy="696.29" r="2.5" fill="#9a98c0" stroke="#5a5080" stroke-width="0.7"/>
<circle cx="144.04" cy="697.89" r="2.5" fill="#9a98c0" stroke="#5a5080" stroke-width="0.7"/>
<circle cx="140.04" cy="697.89" r="1.2" fill="#c8f4f4"/>
<text x="143.94" y="764.2" transform="rotate(-44 143.94 764.2)" font-family="Liberation Sans" font-size="10.7" font-weight="bold" text-anchor="end" fill="#111">btab-miR-1-novel</text>
<rect x="154.82" y="668.7" width="12.4" height="79.2" fill="#6c0a9a" stroke="#4c3a78" stroke-width="0.9"/>
<line x1="161.02" y1="747.9" x2="161.02" y2="753.2" stroke="#ff2a2a" stroke-width="1.3" />
<circle cx="157.52" cy="668.7" r="2.5" fill="#9a98c0" stroke="#5a5080" stroke-width="0.7"/>
<circle cx="161.02" cy="666.9" r="2.5" fill="#9a98c0" stroke="#5a5080" stroke-width="0.7"/>
<circle cx="164.52" cy="668.5" r="2.5" fill="#9a98c0" stroke="#5a5080" stroke-width="0.7"/>
<circle cx="160.52" cy="668.5" r="1.2" fill="#c8f4f4"/>
<text x="164.42" y="764.2" transform="rotate(-44 164.42 764.2)" font-family="Liberation Sans" font-size="10.7" font-weight="bold" text-anchor="end" fill="#111">btab-miR-novel-3</text>
<rect x="175.3" y="675.08" width="12.4" height="72.82" fill="#5c0048" stroke="#4c3a78" stroke-width="0.9"/>
<line x1="181.5" y1="747.9" x2="181.5" y2="753.2" stroke="#ff2a2a" stroke-width="1.3" />
<circle cx="178" cy="675.08" r="2.5" fill="#9a98c0" stroke="#5a5080" stroke-width="0.7"/>
<circle cx="181.5" cy="673.28" r="2.5" fill="#9a98c0" stroke="#5a5080" stroke-width="0.7"/>
<circle cx="185" cy="674.88" r="2.5" fill="#9a98c0" stroke="#5a5080" stroke-width="0.7"/>
<circle cx="181" cy="674.88" r="1.2" fill="#c8f4f4"/>
<text x="184.9" y="764.2" transform="rotate(-44 184.9 764.2)" font-family="Liberation Sans" font-size="10.7" font-weight="bold" text-anchor="end" fill="#111">btab-miR-novel-13</text>
<rect x="195.78" y="671.18" width="12.4" height="76.72" fill="#3e0050" stroke="#4c3a78" stroke-width="0.9"/>
<line x1="201.98" y1="747.9" x2="201.98" y2="753.2" stroke="#ff2a2a" stroke-width="1.3" />
<circle cx="198.48" cy="671.18" r="2.5" fill="#9a98c0" stroke="#5a5080" stroke-width="0.7"/>
<circle cx="201.98" cy="669.38" r="2.5" fill="#9a98c0" stroke="#5a5080" stroke-width="0.7"/>
<circle cx="205.48" cy="670.98" r="2.5" fill="#9a98c0" stroke="#5a5080" stroke-width="0.7"/>
<circle cx="201.48" cy="670.98" r="1.2" fill="#c8f4f4"/>
<text x="205.38" y="764.2" transform="rotate(-44 205.38 764.2)" font-family="Liberation Sans" font-size="10.7" font-weight="bold" text-anchor="end" fill="#111">btab-miR-263-novel-a</text>
<rect x="216.26" y="643.22" width="12.4" height="104.68" fill="#00b800" stroke="#4c3a78" stroke-width="0.9"/>
<line x1="222.46" y1="747.9" x2="222.46" y2="753.2" stroke="#ff2a2a" stroke-width="1.3" />
<circle cx="218.96" cy="643.22" r="2.5" fill="#9a98c0" stroke="#5a5080" stroke-width="0.7"/>
<circle cx="222.46" cy="641.42" r="2.5" fill="#9a98c0" stroke="#5a5080" stroke-width="0.7"/>
<circle cx="225.96" cy="643.02" r="2.5" fill="#9a98c0" stroke="#5a5080" stroke-width="0.7"/>
<circle cx="221.96" cy="643.02" r="1.2" fill="#c8f4f4"/>
<text x="225.86" y="764.2" transform="rotate(-44 225.86 764.2)" font-family="Liberation Sans" font-size="10.7" font-weight="bold" text-anchor="end" fill="#111">btab-miR-124-novel</text>
<rect x="236.74" y="658.44" width="12.4" height="89.46" fill="#8c8cfc" stroke="#4c3a78" stroke-width="0.9"/>
<line x1="242.94" y1="747.9" x2="242.94" y2="753.2" stroke="#ff2a2a" stroke-width="1.3" />
<circle cx="239.44" cy="658.44" r="2.5" fill="#9a98c0" stroke="#5a5080" stroke-width="0.7"/>
<circle cx="242.94" cy="656.64" r="2.5" fill="#9a98c0" stroke="#5a5080" stroke-width="0.7"/>
<circle cx="246.44" cy="658.24" r="2.5" fill="#9a98c0" stroke="#5a5080" stroke-width="0.7"/>
<circle cx="242.44" cy="658.24" r="1.2" fill="#c8f4f4"/>
<text x="246.34" y="764.2" transform="rotate(-44 246.34 764.2)" font-family="Liberation Sans" font-size="10.7" font-weight="bold" text-anchor="end" fill="#111">btab-miR-novel-1</text>
<rect x="257.22" y="684.99" width="12.4" height="62.91" fill="#5050f0" stroke="#4c3a78" stroke-width="0.9"/>
<line x1="263.42" y1="747.9" x2="263.42" y2="753.2" stroke="#ff2a2a" stroke-width="1.3" />
<circle cx="259.92" cy="684.99" r="2.5" fill="#9a98c0" stroke="#5a5080" stroke-width="0.7"/>
<circle cx="263.42" cy="683.19" r="2.5" fill="#9a98c0" stroke="#5a5080" stroke-width="0.7"/>
<circle cx="266.92" cy="684.79" r="2.5" fill="#9a98c0" stroke="#5a5080" stroke-width="0.7"/>
<circle cx="262.92" cy="684.79" r="1.2" fill="#c8f4f4"/>
<text x="266.82" y="764.2" transform="rotate(-44 266.82 764.2)" font-family="Liberation Sans" font-size="10.7" font-weight="bold" text-anchor="end" fill="#111">btab-miR-2765-novel</text>
<text x="40.5" y="677" font-family="Liberation Sans" font-size="12" font-weight="bold" font-style="normal" text-anchor="middle" fill="#111" transform="rotate(-90 40.5 677)" >Cq</text>
<text x="171" y="855" font-family="Liberation Sans" font-size="9.8" font-weight="bold" font-style="normal" text-anchor="middle" fill="#111" >miRNAs</text>
<text x="2.5" y="605" font-family="Liberation Sans" font-size="17.8" font-weight="bold" font-style="normal" text-anchor="start" fill="#000" >d</text>
<line x1="366" y1="775.65" x2="609" y2="775.65" stroke="#d4d4d4" stroke-width="0.6" stroke-dasharray="1.2,1.2"/>
<line x1="366" y1="771.31" x2="609" y2="771.31" stroke="#d4d4d4" stroke-width="0.6" stroke-dasharray="1.2,1.2"/>
<line x1="366" y1="766.97" x2="609" y2="766.97" stroke="#d4d4d4" stroke-width="0.6" stroke-dasharray="1.2,1.2"/>
<line x1="366" y1="762.62" x2="609" y2="762.62" stroke="#d4d4d4" stroke-width="0.6" stroke-dasharray="1.2,1.2"/>
<line x1="366" y1="758.27" x2="609" y2="758.27" stroke="#d4d4d4" stroke-width="0.6" stroke-dasharray="1.2,1.2"/>
<line x1="366" y1="753.93" x2="609" y2="753.93" stroke="#d4d4d4" stroke-width="0.6" stroke-dasharray="1.2,1.2"/>
<line x1="366" y1="749.59" x2="609" y2="749.59" stroke="#d4d4d4" stroke-width="0.6" stroke-dasharray="1.2,1.2"/>
<line x1="366" y1="745.24" x2="609" y2="745.24" stroke="#d4d4d4" stroke-width="0.6" stroke-dasharray="1.2,1.2"/>
<line x1="366" y1="740.89" x2="609" y2="740.89" stroke="#d4d4d4" stroke-width="0.6" stroke-dasharray="1.2,1.2"/>
<line x1="366" y1="736.55" x2="609" y2="736.55" stroke="#d4d4d4" stroke-width="0.6" stroke-dasharray="1.2,1.2"/>
<line x1="366" y1="732.21" x2="609" y2="732.21" stroke="#d4d4d4" stroke-width="0.6" stroke-dasharray="1.2,1.2"/>
<line x1="366" y1="727.86" x2="609" y2="727.86" stroke="#d4d4d4" stroke-width="0.6" stroke-dasharray="1.2,1.2"/>
<line x1="366" y1="723.51" x2="609" y2="723.51" stroke="#d4d4d4" stroke-width="0.6" stroke-dasharray="1.2,1.2"/>
<line x1="366" y1="719.17" x2="609" y2="719.17" stroke="#d4d4d4" stroke-width="0.6" stroke-dasharray="1.2,1.2"/>
<line x1="366" y1="714.83" x2="609" y2="714.83" stroke="#d4d4d4" stroke-width="0.6" stroke-dasharray="1.2,1.2"/>
<line x1="366" y1="710.48" x2="609" y2="710.48" stroke="#d4d4d4" stroke-width="0.6" stroke-dasharray="1.2,1.2"/>
<line x1="366" y1="706.13" x2="609" y2="706.13" stroke="#d4d4d4" stroke-width="0.6" stroke-dasharray="1.2,1.2"/>
<line x1="366" y1="701.79" x2="609" y2="701.79" stroke="#d4d4d4" stroke-width="0.6" stroke-dasharray="1.2,1.2"/>
<line x1="366" y1="697.45" x2="609" y2="697.45" stroke="#d4d4d4" stroke-width="0.6" stroke-dasharray="1.2,1.2"/>
<line x1="366" y1="693.1" x2="609" y2="693.1" stroke="#d4d4d4" stroke-width="0.6" stroke-dasharray="1.2,1.2"/>
<line x1="366" y1="688.75" x2="609" y2="688.75" stroke="#d4d4d4" stroke-width="0.6" stroke-dasharray="1.2,1.2"/>
<line x1="366" y1="684.41" x2="609" y2="684.41" stroke="#d4d4d4" stroke-width="0.6" stroke-dasharray="1.2,1.2"/>
<line x1="366" y1="680.07" x2="609" y2="680.07" stroke="#d4d4d4" stroke-width="0.6" stroke-dasharray="1.2,1.2"/>
<line x1="366" y1="675.72" x2="609" y2="675.72" stroke="#d4d4d4" stroke-width="0.6" stroke-dasharray="1.2,1.2"/>
<line x1="366" y1="671.38" x2="609" y2="671.38" stroke="#d4d4d4" stroke-width="0.6" stroke-dasharray="1.2,1.2"/>
<line x1="366" y1="667.03" x2="609" y2="667.03" stroke="#d4d4d4" stroke-width="0.6" stroke-dasharray="1.2,1.2"/>
<line x1="366" y1="662.68" x2="609" y2="662.68" stroke="#d4d4d4" stroke-width="0.6" stroke-dasharray="1.2,1.2"/>
<line x1="366" y1="658.34" x2="609" y2="658.34" stroke="#d4d4d4" stroke-width="0.6" stroke-dasharray="1.2,1.2"/>
<line x1="366" y1="654" x2="609" y2="654" stroke="#d4d4d4" stroke-width="0.6" stroke-dasharray="1.2,1.2"/>
<line x1="366" y1="649.65" x2="609" y2="649.65" stroke="#d4d4d4" stroke-width="0.6" stroke-dasharray="1.2,1.2"/>
<line x1="391" y1="650" x2="391" y2="780" stroke="#dcdcdc" stroke-width="0.6" />
<line x1="439.5" y1="650" x2="439.5" y2="780" stroke="#dcdcdc" stroke-width="0.6" />
<line x1="487.5" y1="650" x2="487.5" y2="780" stroke="#dcdcdc" stroke-width="0.6" />
<line x1="535.5" y1="650" x2="535.5" y2="780" stroke="#dcdcdc" stroke-width="0.6" />
<line x1="583.5" y1="650" x2="583.5" y2="780" stroke="#dcdcdc" stroke-width="0.6" />
<rect x="369.8" y="683.98" width="7.8" height="96.02" fill="#ff6000" />
<line x1="373.7" y1="681.8" x2="373.7" y2="686.15" stroke="#901010" stroke-width="0.9" />
<line x1="371.7" y1="681.8" x2="375.7" y2="681.8" stroke="#901010" stroke-width="0.9" />
<line x1="371.7" y1="686.15" x2="375.7" y2="686.15" stroke="#901010" stroke-width="0.9" />
<circle cx="373.7" cy="684.48" r="1.3" fill="#111"/>
<rect x="381.55" y="678.76" width="7.8" height="101.24" fill="#00c000" />
<line x1="385.45" y1="676.59" x2="385.45" y2="680.93" stroke="#901010" stroke-width="0.9" />
<line x1="383.45" y1="676.59" x2="387.45" y2="676.59" stroke="#901010" stroke-width="0.9" />
<line x1="383.45" y1="680.93" x2="387.45" y2="680.93" stroke="#901010" stroke-width="0.9" />
<circle cx="385.45" cy="679.26" r="1.3" fill="#111"/>
<rect x="393.3" y="685.71" width="7.8" height="94.29" fill="#5555f0" />
<line x1="397.2" y1="681.8" x2="397.2" y2="689.62" stroke="#901010" stroke-width="0.9" />
<line x1="395.2" y1="681.8" x2="399.2" y2="681.8" stroke="#901010" stroke-width="0.9" />
<line x1="395.2" y1="689.62" x2="399.2" y2="689.62" stroke="#901010" stroke-width="0.9" />
<circle cx="397.2" cy="686.21" r="1.3" fill="#111"/>
<rect x="405.05" y="680.5" width="7.8" height="99.5" fill="#b050d0" />
<line x1="408.95" y1="679.2" x2="408.95" y2="681.8" stroke="#901010" stroke-width="0.9" />
<line x1="406.95" y1="679.2" x2="410.95" y2="679.2" stroke="#901010" stroke-width="0.9" />
<line x1="406.95" y1="681.8" x2="410.95" y2="681.8" stroke="#901010" stroke-width="0.9" />
<circle cx="408.95" cy="681" r="1.3" fill="#111"/>
<rect x="417.8" y="699.62" width="7.8" height="80.38" fill="#ff6000" />
<line x1="421.7" y1="697.01" x2="421.7" y2="702.22" stroke="#901010" stroke-width="0.9" />
<line x1="419.7" y1="697.01" x2="423.7" y2="697.01" stroke="#901010" stroke-width="0.9" />
<line x1="419.7" y1="702.22" x2="423.7" y2="702.22" stroke="#901010" stroke-width="0.9" />
<circle cx="421.7" cy="700.12" r="1.3" fill="#111"/>
<rect x="430.95" y="779" width="5" height="1.2" fill="#555" />
<rect x="441.3" y="710.48" width="7.8" height="69.52" fill="#5555f0" />
<line x1="445.2" y1="707" x2="445.2" y2="713.96" stroke="#901010" stroke-width="0.9" />
<line x1="443.2" y1="707" x2="447.2" y2="707" stroke="#901010" stroke-width="0.9" />
<line x1="443.2" y1="713.96" x2="447.2" y2="713.96" stroke="#901010" stroke-width="0.9" />
<circle cx="445.2" cy="710.98" r="1.3" fill="#111"/>
<rect x="453.05" y="683.11" width="7.8" height="96.89" fill="#b050d0" />
<line x1="456.95" y1="681.37" x2="456.95" y2="684.84" stroke="#901010" stroke-width="0.9" />
<line x1="454.95" y1="681.37" x2="458.95" y2="681.37" stroke="#901010" stroke-width="0.9" />
<line x1="454.95" y1="684.84" x2="458.95" y2="684.84" stroke="#901010" stroke-width="0.9" />
<circle cx="456.95" cy="683.61" r="1.3" fill="#111"/>
<rect x="465.8" y="713.96" width="7.8" height="66.04" fill="#ff6000" />
<line x1="469.7" y1="712.22" x2="469.7" y2="715.69" stroke="#901010" stroke-width="0.9" />
<line x1="467.7" y1="712.22" x2="471.7" y2="712.22" stroke="#901010" stroke-width="0.9" />
<line x1="467.7" y1="715.69" x2="471.7" y2="715.69" stroke="#901010" stroke-width="0.9" />
<circle cx="469.7" cy="714.46" r="1.3" fill="#111"/>
<rect x="477.55" y="708.31" width="7.8" height="71.69" fill="#00c000" />
<line x1="481.45" y1="705.7" x2="481.45" y2="710.91" stroke="#901010" stroke-width="0.9" />
<line x1="479.45" y1="705.7" x2="483.45" y2="705.7" stroke="#901010" stroke-width="0.9" />
<line x1="479.45" y1="710.91" x2="483.45" y2="710.91" stroke="#901010" stroke-width="0.9" />
<circle cx="481.45" cy="708.81" r="1.3" fill="#111"/>
<rect x="489.3" y="722.65" width="7.8" height="57.35" fill="#5555f0" />
<line x1="493.2" y1="720.04" x2="493.2" y2="725.25" stroke="#901010" stroke-width="0.9" />
<line x1="491.2" y1="720.04" x2="495.2" y2="720.04" stroke="#901010" stroke-width="0.9" />
<line x1="491.2" y1="725.25" x2="495.2" y2="725.25" stroke="#901010" stroke-width="0.9" />
<circle cx="493.2" cy="723.15" r="1.3" fill="#111"/>
<rect x="501.05" y="701.79" width="7.8" height="78.21" fill="#b050d0" />
<line x1="504.95" y1="699.18" x2="504.95" y2="704.4" stroke="#901010" stroke-width="0.9" />
<line x1="502.95" y1="699.18" x2="506.95" y2="699.18" stroke="#901010" stroke-width="0.9" />
<line x1="502.95" y1="704.4" x2="506.95" y2="704.4" stroke="#901010" stroke-width="0.9" />
<circle cx="504.95" cy="702.29" r="1.3" fill="#111"/>
<rect x="513.8" y="678.33" width="7.8" height="101.67" fill="#ff6000" />
<line x1="517.7" y1="677.46" x2="517.7" y2="679.2" stroke="#901010" stroke-width="0.9" />
<line x1="515.7" y1="677.46" x2="519.7" y2="677.46" stroke="#901010" stroke-width="0.9" />
<line x1="515.7" y1="679.2" x2="519.7" y2="679.2" stroke="#901010" stroke-width="0.9" />
<circle cx="517.7" cy="678.83" r="1.3" fill="#111"/>
<rect x="526.95" y="779" width="5" height="1.2" fill="#555" />
<rect x="537.3" y="680.07" width="7.8" height="99.93" fill="#5555f0" />
<line x1="541.2" y1="675.72" x2="541.2" y2="684.41" stroke="#901010" stroke-width="0.9" />
<line x1="539.2" y1="675.72" x2="543.2" y2="675.72" stroke="#901010" stroke-width="0.9" />
<line x1="539.2" y1="684.41" x2="543.2" y2="684.41" stroke="#901010" stroke-width="0.9" />
<circle cx="541.2" cy="680.57" r="1.3" fill="#111"/>
<rect x="549.05" y="719.6" width="7.8" height="60.4" fill="#b050d0" />
<line x1="552.95" y1="718.3" x2="552.95" y2="720.91" stroke="#901010" stroke-width="0.9" />
<line x1="550.95" y1="718.3" x2="554.95" y2="718.3" stroke="#901010" stroke-width="0.9" />
<line x1="550.95" y1="720.91" x2="554.95" y2="720.91" stroke="#901010" stroke-width="0.9" />
<circle cx="552.95" cy="720.1" r="1.3" fill="#111"/>
<rect x="563.2" y="779" width="5" height="1.2" fill="#555" />
<rect x="574.95" y="779" width="5" height="1.2" fill="#555" />
<rect x="586.7" y="779" width="5" height="1.2" fill="#555" />
<rect x="597.05" y="686.15" width="7.8" height="93.85" fill="#b050d0" />
<line x1="600.95" y1="683.98" x2="600.95" y2="688.32" stroke="#901010" stroke-width="0.9" />
<line x1="598.95" y1="683.98" x2="602.95" y2="683.98" stroke="#901010" stroke-width="0.9" />
<line x1="598.95" y1="688.32" x2="602.95" y2="688.32" stroke="#901010" stroke-width="0.9" />
<circle cx="600.95" cy="686.65" r="1.3" fill="#111"/>
<line x1="366" y1="765.4" x2="560" y2="765.4" stroke="#ffffff" stroke-width="0.7" stroke-opacity="0.6"/>
<line x1="365.6" y1="649.6" x2="365.6" y2="780.5" stroke="#222" stroke-width="1.1" />
<line x1="363.3" y1="780" x2="365.6" y2="780" stroke="#222" stroke-width="0.8" />
<line x1="363.3" y1="775.65" x2="365.6" y2="775.65" stroke="#222" stroke-width="0.8" />
<line x1="363.3" y1="771.31" x2="365.6" y2="771.31" stroke="#222" stroke-width="0.8" />
<line x1="363.3" y1="766.97" x2="365.6" y2="766.97" stroke="#222" stroke-width="0.8" />
<line x1="363.3" y1="762.62" x2="365.6" y2="762.62" stroke="#222" stroke-width="0.8" />
<line x1="363.3" y1="758.27" x2="365.6" y2="758.27" stroke="#222" stroke-width="0.8" />
<line x1="363.3" y1="753.93" x2="365.6" y2="753.93" stroke="#222" stroke-width="0.8" />
<line x1="363.3" y1="749.59" x2="365.6" y2="749.59" stroke="#222" stroke-width="0.8" />
<line x1="363.3" y1="745.24" x2="365.6" y2="745.24" stroke="#222" stroke-width="0.8" />
<line x1="363.3" y1="740.89" x2="365.6" y2="740.89" stroke="#222" stroke-width="0.8" />
<line x1="363.3" y1="736.55" x2="365.6" y2="736.55" stroke="#222" stroke-width="0.8" />
<line x1="363.3" y1="732.21" x2="365.6" y2="732.21" stroke="#222" stroke-width="0.8" />
<line x1="363.3" y1="727.86" x2="365.6" y2="727.86" stroke="#222" stroke-width="0.8" />
<line x1="363.3" y1="723.51" x2="365.6" y2="723.51" stroke="#222" stroke-width="0.8" />
<line x1="363.3" y1="719.17" x2="365.6" y2="719.17" stroke="#222" stroke-width="0.8" />
<line x1="363.3" y1="714.83" x2="365.6" y2="714.83" stroke="#222" stroke-width="0.8" />
<line x1="363.3" y1="710.48" x2="365.6" y2="710.48" stroke="#222" stroke-width="0.8" />
<line x1="363.3" y1="706.13" x2="365.6" y2="706.13" stroke="#222" stroke-width="0.8" />
<line x1="363.3" y1="701.79" x2="365.6" y2="701.79" stroke="#222" stroke-width="0.8" />
<line x1="363.3" y1="697.45" x2="365.6" y2="697.45" stroke="#222" stroke-width="0.8" />
<line x1="363.3" y1="693.1" x2="365.6" y2="693.1" stroke="#222" stroke-width="0.8" />
<line x1="363.3" y1="688.75" x2="365.6" y2="688.75" stroke="#222" stroke-width="0.8" />
<line x1="363.3" y1="684.41" x2="365.6" y2="684.41" stroke="#222" stroke-width="0.8" />
<line x1="363.3" y1="680.07" x2="365.6" y2="680.07" stroke="#222" stroke-width="0.8" />
<line x1="363.3" y1="675.72" x2="365.6" y2="675.72" stroke="#222" stroke-width="0.8" />
<line x1="363.3" y1="671.38" x2="365.6" y2="671.38" stroke="#222" stroke-width="0.8" />
<line x1="363.3" y1="667.03" x2="365.6" y2="667.03" stroke="#222" stroke-width="0.8" />
<line x1="363.3" y1="662.68" x2="365.6" y2="662.68" stroke="#222" stroke-width="0.8" />
<line x1="363.3" y1="658.34" x2="365.6" y2="658.34" stroke="#222" stroke-width="0.8" />
<line x1="363.3" y1="654" x2="365.6" y2="654" stroke="#222" stroke-width="0.8" />
<line x1="363.3" y1="649.65" x2="365.6" y2="649.65" stroke="#222" stroke-width="0.8" />
<line x1="365.6" y1="780" x2="609" y2="780" stroke="#999" stroke-width="1.3" />
<line x1="391" y1="780" x2="391" y2="782.5" stroke="#555" stroke-width="0.8" />
<line x1="439.5" y1="780" x2="439.5" y2="782.5" stroke="#555" stroke-width="0.8" />
<line x1="487.5" y1="780" x2="487.5" y2="782.5" stroke="#555" stroke-width="0.8" />
<line x1="535.5" y1="780" x2="535.5" y2="782.5" stroke="#555" stroke-width="0.8" />
<line x1="583.5" y1="780" x2="583.5" y2="782.5" stroke="#555" stroke-width="0.8" />
<text x="362.4" y="782.9" font-family="Liberation Sans" font-size="8" font-weight="bold" font-style="normal" text-anchor="end" fill="#a81414" >0</text>
<text x="362.4" y="739.45" font-family="Liberation Sans" font-size="8" font-weight="bold" font-style="normal" text-anchor="end" fill="#a81414" >10</text>
<text x="362.4" y="696" font-family="Liberation Sans" font-size="8" font-weight="bold" font-style="normal" text-anchor="end" fill="#a81414" >20</text>
<text x="362.4" y="652.55" font-family="Liberation Sans" font-size="8" font-weight="bold" font-style="normal" text-anchor="end" fill="#a81414" >30</text>
<text x="349.2" y="711" font-family="Liberation Sans" font-size="11" font-weight="bold" font-style="normal" text-anchor="middle" fill="#a81414" transform="rotate(-90 349.2 711)" >Cq</text>
<text x="393.8" y="788.6" transform="rotate(-38.5 393.8 788.6)" font-family="Liberation Sans" font-size="7.4" font-weight="bold" text-anchor="end" fill="#a81414">btab-miR-754-novel</text>
<text x="441.5" y="788.6" transform="rotate(-38.5 441.5 788.6)" font-family="Liberation Sans" font-size="7.4" font-weight="bold" text-anchor="end" fill="#a81414">btab-miR-novel-3</text>
<text x="489.5" y="788.6" transform="rotate(-38.5 489.5 788.6)" font-family="Liberation Sans" font-size="7.4" font-weight="bold" text-anchor="end" fill="#a81414">btab-miR-2765-novel</text>
<text x="536.7" y="788.6" transform="rotate(-38.5 536.7 788.6)" font-family="Liberation Sans" font-size="7.4" font-weight="bold" text-anchor="end" fill="#a81414">btab-miR-1-novel</text>
<text x="584.7" y="788.6" transform="rotate(-38.5 584.7 788.6)" font-family="Liberation Sans" font-size="7.4" font-weight="bold" text-anchor="end" fill="#a81414">btab-miR-263-novel-a</text>
<text x="487" y="843" font-family="Liberation Sans" font-size="6.6" font-weight="bold" font-style="normal" text-anchor="middle" fill="#a81414" >miRNAs</text>
<path d="M373.7,620.6 L373.7,616.1 L565.7,616.1 L565.7,653.9" fill="none" stroke="#333" stroke-width="1"/>
<path d="M373.7,678 L373.7,624.3 L517.1,624.3 L517.1,653.9" fill="none" stroke="#333" stroke-width="1"/>
<path d="M421.5,697 L421.5,649.7 L517.1,649.7" fill="none" stroke="#777" stroke-width="1.1"/>
<path d="M481.5,701.3 L481.5,667.2 L529.4,667.2 L529.4,776" fill="none" stroke="#333" stroke-width="1"/>
<path d="M541.3,672.7 L541.3,667.2 L589.2,667.2 L589.2,776" fill="none" stroke="#333" stroke-width="1"/>
<path d="M457.9,606.7 L457.9,613.3 M455.04,608.35 L460.76,611.65 M460.76,608.35 L455.04,611.65 " stroke="#111" stroke-width="1.25" fill="none"/>
<path d="M465.5,606.7 L465.5,613.3 M462.64,608.35 L468.36,611.65 M468.36,608.35 L462.64,611.65 " stroke="#111" stroke-width="1.25" fill="none"/>
<path d="M473.1,606.7 L473.1,613.3 M470.24,608.35 L475.96,611.65 M475.96,608.35 L470.24,611.65 " stroke="#111" stroke-width="1.25" fill="none"/>
<path d="M480.7,606.7 L480.7,613.3 M477.84,608.35 L483.56,611.65 M483.56,608.35 L477.84,611.65 " stroke="#111" stroke-width="1.25" fill="none"/>
<path d="M446.2,628.4 L446.2,635 M443.34,630.05 L449.06,633.35 M449.06,630.05 L443.34,633.35 " stroke="#111" stroke-width="1.25" fill="none"/>
<path d="M465.6,640.1 L465.6,646.7 M462.74,641.75 L468.46,645.05 M468.46,641.75 L462.74,645.05 " stroke="#111" stroke-width="1.25" fill="none"/>
<path d="M473.2,640.1 L473.2,646.7 M470.34,641.75 L476.06,645.05 M476.06,641.75 L470.34,645.05 " stroke="#111" stroke-width="1.25" fill="none"/>
<path d="M494.1,658.2 L494.1,664.8 M491.24,659.85 L496.96,663.15 M496.96,659.85 L491.24,663.15 " stroke="#111" stroke-width="1.25" fill="none"/>
<path d="M501.7,658.2 L501.7,664.8 M498.84,659.85 L504.56,663.15 M504.56,659.85 L498.84,663.15 " stroke="#111" stroke-width="1.25" fill="none"/>
<path d="M509.3,658.2 L509.3,664.8 M506.44,659.85 L512.16,663.15 M512.16,659.85 L506.44,663.15 " stroke="#111" stroke-width="1.25" fill="none"/>
<path d="M516.9,658.2 L516.9,664.8 M514.04,659.85 L519.76,663.15 M519.76,659.85 L514.04,663.15 " stroke="#111" stroke-width="1.25" fill="none"/>
<path d="M557.4,658.2 L557.4,664.8 M554.54,659.85 L560.26,663.15 M560.26,659.85 L554.54,663.15 " stroke="#111" stroke-width="1.25" fill="none"/>
<path d="M565,658.2 L565,664.8 M562.14,659.85 L567.86,663.15 M567.86,659.85 L562.14,663.15 " stroke="#111" stroke-width="1.25" fill="none"/>
<path d="M572.6,658.2 L572.6,664.8 M569.74,659.85 L575.46,663.15 M575.46,659.85 L569.74,663.15 " stroke="#111" stroke-width="1.25" fill="none"/>
<rect x="628.1" y="652.5" width="8.8" height="7.2" fill="#ff6000" />
<text x="642.7" y="659.4" font-family="Liberation Sans" font-size="9.8" font-weight="normal" font-style="normal" text-anchor="start" fill="#111" textLength="36.1" lengthAdjust="spacing">Instar_II</text>
<rect x="628.1" y="665.1" width="8.8" height="7.2" fill="#00c000" />
<text x="642.7" y="672" font-family="Liberation Sans" font-size="9.8" font-weight="normal" font-style="normal" text-anchor="start" fill="#111" textLength="39.5" lengthAdjust="spacing">Instar_III</text>
<rect x="628.1" y="677.7" width="8.8" height="7.2" fill="#5555f0" />
<text x="642.7" y="684.6" font-family="Liberation Sans" font-size="9.8" font-weight="normal" font-style="normal" text-anchor="start" fill="#111" textLength="41.6" lengthAdjust="spacing">Instar_IV</text>
<rect x="628.1" y="690.3" width="8.8" height="7.2" fill="#b050d0" />
<text x="642.7" y="697.2" font-family="Liberation Sans" font-size="9.8" font-weight="normal" font-style="normal" text-anchor="start" fill="#111" textLength="23.3" lengthAdjust="spacing">Adult</text>
<text x="338.3" y="604.6" font-family="Liberation Sans" font-size="17.8" font-weight="bold" font-style="normal" text-anchor="start" fill="#000" >h</text>
<line x1="265.4" y1="876.3" x2="265.4" y2="1007.5" stroke="#aaa" stroke-width="0.9" />
<line x1="260.5" y1="1007.5" x2="414.6" y2="1007.5" stroke="#888" stroke-width="1.1" />
<line x1="260.5" y1="1007.5" x2="265.4" y2="1007.5" stroke="#888" stroke-width="0.9" />
<text x="257.8" y="1011.1" font-family="Liberation Sans" font-size="10" font-weight="bold" font-style="normal" text-anchor="end" fill="#111" >0</text>
<line x1="260.5" y1="963.7" x2="265.4" y2="963.7" stroke="#888" stroke-width="0.9" />
<text x="257.8" y="967.3" font-family="Liberation Sans" font-size="10" font-weight="bold" font-style="normal" text-anchor="end" fill="#111" >20</text>
<line x1="260.5" y1="919.9" x2="265.4" y2="919.9" stroke="#888" stroke-width="0.9" />
<text x="257.8" y="923.5" font-family="Liberation Sans" font-size="10" font-weight="bold" font-style="normal" text-anchor="end" fill="#111" >40</text>
<line x1="260.5" y1="876.1" x2="265.4" y2="876.1" stroke="#888" stroke-width="0.9" />
<text x="257.8" y="879.7" font-family="Liberation Sans" font-size="10" font-weight="bold" font-style="normal" text-anchor="end" fill="#111" >60</text>
<rect x="275.5" y="910.04" width="17.8" height="49.28" fill="#b07fd6" stroke="#555" stroke-width="1.4"/>
<rect x="275.5" y="959.32" width="17.8" height="48.18" fill="#8585c8" stroke="#555" stroke-width="1.4"/>
<line x1="284.4" y1="909.28" x2="284.4" y2="910.04" stroke="#666" stroke-width="0.8" />
<line x1="280.9" y1="909.28" x2="287.9" y2="909.28" stroke="#666" stroke-width="0.8" />
<line x1="280.9" y1="958.52" x2="287.9" y2="958.52" stroke="#444" stroke-width="0.8" />
<line x1="284.4" y1="1007.5" x2="284.4" y2="1011.7" stroke="#888" stroke-width="0.9" />
<text x="287" y="1020" transform="rotate(-40.5 287 1020)" font-family="Liberation Sans" font-size="7.7" font-weight="bold" text-anchor="end" fill="#a81414">btab-miR-10-novel-b</text>
<rect x="303.45" y="910.04" width="17.8" height="49.49" fill="#b07fd6" stroke="#555" stroke-width="1.4"/>
<rect x="303.45" y="959.54" width="17.8" height="47.96" fill="#8585c8" stroke="#555" stroke-width="1.4"/>
<line x1="312.35" y1="909.28" x2="312.35" y2="910.04" stroke="#666" stroke-width="0.8" />
<line x1="308.85" y1="909.28" x2="315.85" y2="909.28" stroke="#666" stroke-width="0.8" />
<line x1="308.85" y1="958.74" x2="315.85" y2="958.74" stroke="#444" stroke-width="0.8" />
<line x1="312.35" y1="1007.5" x2="312.35" y2="1011.7" stroke="#888" stroke-width="0.9" />
<text x="314.95" y="1020" transform="rotate(-40.5 314.95 1020)" font-family="Liberation Sans" font-size="7.7" font-weight="bold" text-anchor="end" fill="#a81414">btab-miR-754-novel</text>
<rect x="331.4" y="911.58" width="17.8" height="53" fill="#b07fd6" stroke="#555" stroke-width="1.4"/>
<rect x="331.4" y="964.58" width="17.8" height="42.92" fill="#8585c8" stroke="#555" stroke-width="1.4"/>
<line x1="340.3" y1="910.81" x2="340.3" y2="911.58" stroke="#666" stroke-width="0.8" />
<line x1="336.8" y1="910.81" x2="343.8" y2="910.81" stroke="#666" stroke-width="0.8" />
<line x1="336.8" y1="963.78" x2="343.8" y2="963.78" stroke="#444" stroke-width="0.8" />
<line x1="340.3" y1="1007.5" x2="340.3" y2="1011.7" stroke="#888" stroke-width="0.9" />
<text x="342.9" y="1020" transform="rotate(-40.5 342.9 1020)" font-family="Liberation Sans" font-size="7.7" font-weight="bold" text-anchor="end" fill="#a81414">btab-miR-92a-novel-a</text>
<rect x="359.35" y="908.73" width="17.8" height="49.71" fill="#b07fd6" stroke="#555" stroke-width="1.4"/>
<rect x="359.35" y="958.44" width="17.8" height="49.06" fill="#8585c8" stroke="#555" stroke-width="1.4"/>
<line x1="368.25" y1="907.96" x2="368.25" y2="908.73" stroke="#666" stroke-width="0.8" />
<line x1="364.75" y1="907.96" x2="371.75" y2="907.96" stroke="#666" stroke-width="0.8" />
<line x1="364.75" y1="957.64" x2="371.75" y2="957.64" stroke="#444" stroke-width="0.8" />
<line x1="368.25" y1="1007.5" x2="368.25" y2="1011.7" stroke="#888" stroke-width="0.9" />
<text x="370.85" y="1020" transform="rotate(-40.5 370.85 1020)" font-family="Liberation Sans" font-size="7.7" font-weight="bold" text-anchor="end" fill="#a81414">btab-miR-novel-3</text>
<rect x="387.3" y="948.37" width="17.8" height="30.44" fill="#b07fd6" stroke="#555" stroke-width="1.4"/>
<rect x="387.3" y="978.81" width="17.8" height="28.69" fill="#8585c8" stroke="#555" stroke-width="1.4"/>
<line x1="396.2" y1="942.68" x2="396.2" y2="948.37" stroke="#666" stroke-width="0.8" />
<line x1="392.7" y1="942.68" x2="399.7" y2="942.68" stroke="#666" stroke-width="0.8" />
<line x1="392.7" y1="978.01" x2="399.7" y2="978.01" stroke="#444" stroke-width="0.8" />
<line x1="396.2" y1="1007.5" x2="396.2" y2="1011.7" stroke="#888" stroke-width="0.9" />
<text x="398.8" y="1020" transform="rotate(-40.5 398.8 1020)" font-family="Liberation Sans" font-size="7.7" font-weight="bold" text-anchor="end" fill="#a81414">btab-miR-1-novel</text>
<line x1="396.2" y1="947.71" x2="396.2" y2="941.8" stroke="#666" stroke-width="0.8" />
<line x1="392.2" y1="941.8" x2="400.2" y2="941.8" stroke="#666" stroke-width="0.8" />
<line x1="392.2" y1="953.19" x2="400.2" y2="953.19" stroke="#666" stroke-width="0.8" />
<rect x="383.5" y="874.3" width="15" height="4.4" fill="#8585c8" stroke="#555" stroke-width="1.3"/>
<rect x="383.5" y="892.3" width="15" height="4.4" fill="#b07fd6" stroke="#555" stroke-width="1.3"/>
<text x="408.3" y="880.2" font-family="Liberation Sans" font-size="9.9" font-weight="normal" font-style="italic" text-anchor="start" fill="#111" >Amrasca bigutella</text>
<text x="408.3" y="898.2" font-family="Liberation Sans" font-size="9.9" font-weight="normal" font-style="italic" text-anchor="start" fill="#111" >Aphis gosypii</text>
<text x="236" y="941.7" font-family="Liberation Sans" font-size="11.5" font-weight="bold" font-style="normal" text-anchor="middle" fill="#a81414" transform="rotate(-90 236 941.7)" >Cq</text>
<text x="339.7" y="1084.8" font-family="Liberation Sans" font-size="12" font-weight="bold" font-style="normal" text-anchor="middle" fill="#111" >miRNAs</text>
<text x="243" y="849.5" font-family="Liberation Sans" font-size="17.8" font-weight="bold" font-style="normal" text-anchor="start" fill="#000" >i</text>
</svg>
</body></html>
